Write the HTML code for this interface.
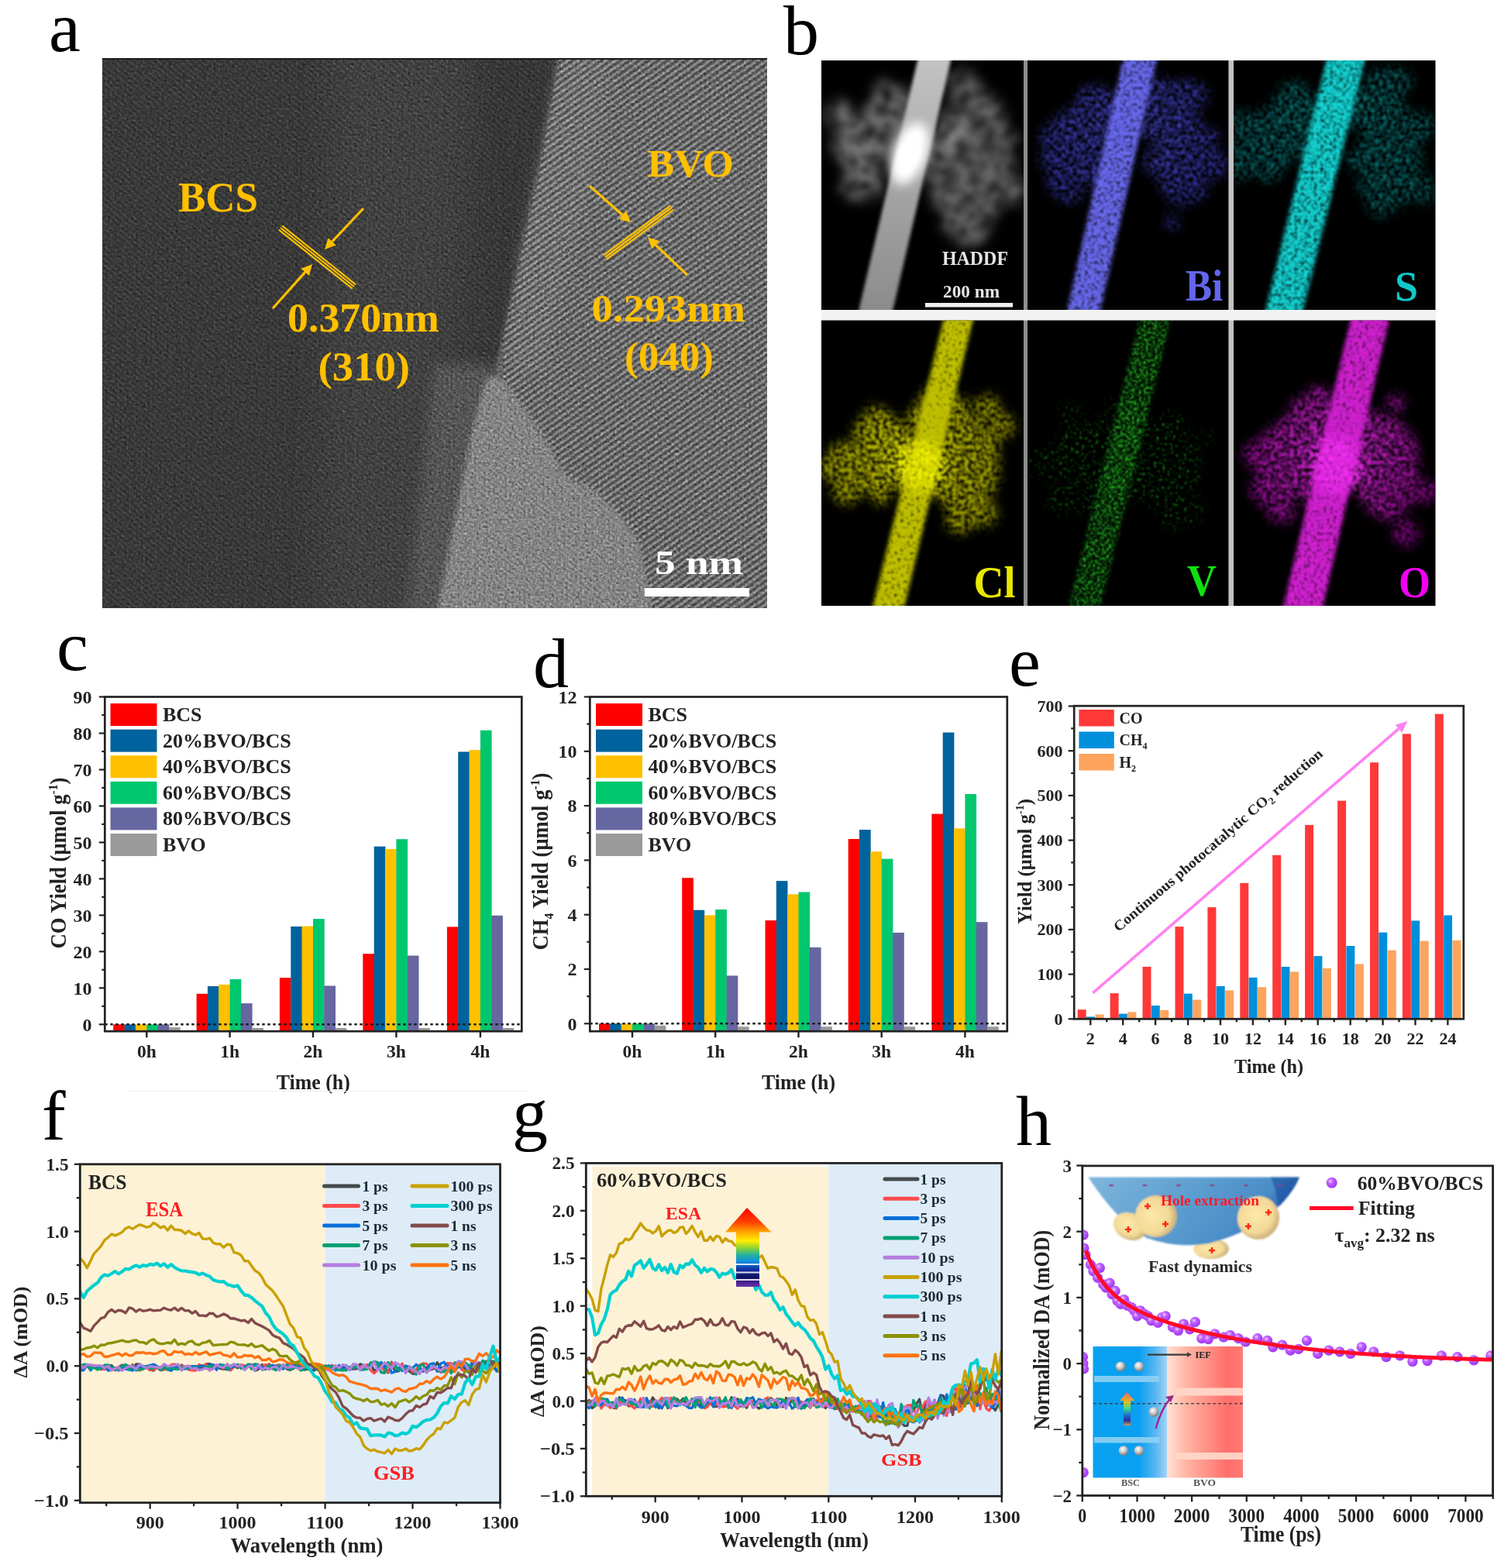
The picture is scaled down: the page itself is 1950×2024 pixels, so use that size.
<!DOCTYPE html>
<html><head><meta charset="utf-8"><title>Figure</title>
<style>html,body{margin:0;padding:0;background:#fff;}svg{display:block;}text{font-family:'Liberation Serif','Times New Roman',serif;}</style>
</head><body>
<svg xmlns="http://www.w3.org/2000/svg" width="1950" height="2024" viewBox="0 0 1950 2024">
<defs><clipPath id="clipA"><rect x="132" y="75" width="858" height="710"/></clipPath><filter id="blurA" x="-10%" y="-10%" width="120%" height="120%"><feGaussianBlur stdDeviation="8"/></filter><filter id="blurA3" x="-20%" y="-20%" width="140%" height="140%"><feGaussianBlur stdDeviation="22"/></filter><filter id="blurA2" x="-10%" y="-10%" width="120%" height="120%"><feGaussianBlur stdDeviation="3"/></filter><filter id="noiseA" x="0" y="0" width="100%" height="100%" color-interpolation-filters="sRGB"><feTurbulence type="fractalNoise" baseFrequency="0.33" numOctaves="2" seed="3" result="t"/><feColorMatrix type="matrix" values="0 0 0 0 0.5  0 0 0 0 0.5  0 0 0 0 0.5  1.6 0 0 0 -0.8" in="t" result="a"/><feColorMatrix type="matrix" values="0.33 0.33 0.33 0 0  0.33 0.33 0.33 0 0  0.33 0.33 0.33 0 0  0 0 0 0 1" in="t"/></filter><pattern id="frBVO" patternUnits="userSpaceOnUse" width="7" height="7" patternTransform="rotate(-35)"><rect width="7" height="7" fill="none"/><line x1="0" y1="1.7" x2="7" y2="1.7" stroke="#fff" stroke-width="2.4" stroke-opacity="0.28"/><line x1="0" y1="5.2" x2="7" y2="5.2" stroke="#000" stroke-width="2.4" stroke-opacity="0.24"/></pattern><pattern id="frBCS" patternUnits="userSpaceOnUse" width="6" height="6" patternTransform="rotate(40)"><line x1="0" y1="1.5" x2="6" y2="1.5" stroke="#fff" stroke-width="1.8" stroke-opacity="0.05"/><line x1="0" y1="4.5" x2="6" y2="4.5" stroke="#000" stroke-width="1.8" stroke-opacity="0.07"/></pattern><clipPath id="cH"><rect x="1060" y="78" width="261" height="322"/></clipPath><filter id="bH" x="-20%" y="-20%" width="140%" height="140%"><feGaussianBlur stdDeviation="7"/></filter><filter id="bH2" x="-20%" y="-20%" width="140%" height="140%"><feGaussianBlur stdDeviation="2.2"/></filter><linearGradient id="gRod" x1="0" y1="0" x2="0" y2="1"><stop offset="0" stop-color="#c4c4c4"/><stop offset="0.45" stop-color="#a8a8a8"/><stop offset="1" stop-color="#8a8a8a"/></linearGradient><filter id="sHd" x="-5%" y="-5%" width="110%" height="110%" color-interpolation-filters="sRGB"><feGaussianBlur in="SourceGraphic" stdDeviation="8" result="b"/><feTurbulence type="fractalNoise" baseFrequency="0.06" numOctaves="3" seed="31" result="n"/><feColorMatrix in="n" type="matrix" values="0 0 0 0 1  0 0 0 0 1  0 0 0 0 1  1.5 0 0 0 0.0" result="na"/><feComposite in="b" in2="na" operator="in" result="c"/><feGaussianBlur in="c" stdDeviation="3.2"/></filter><clipPath id="cBi"><rect x="1326" y="78" width="259.5" height="322"/></clipPath><filter id="sBi" x="-5%" y="-5%" width="110%" height="110%" color-interpolation-filters="sRGB"><feGaussianBlur in="SourceGraphic" stdDeviation="7" result="b"/><feTurbulence type="fractalNoise" baseFrequency="0.2" numOctaves="2" seed="21" result="n"/><feColorMatrix in="n" type="matrix" values="0 0 0 0 1  0 0 0 0 1  0 0 0 0 1  2.2 0 0 0 -0.65" result="na"/><feComposite in="b" in2="na" operator="in" result="c"/><feGaussianBlur in="c" stdDeviation="1.0"/></filter><filter id="rBi" x="-5%" y="-5%" width="110%" height="110%" color-interpolation-filters="sRGB"><feGaussianBlur in="SourceGraphic" stdDeviation="2.5" result="b"/><feTurbulence type="fractalNoise" baseFrequency="0.24" numOctaves="2" seed="71" result="n"/><feColorMatrix in="n" type="matrix" values="0 0 0 0 1  0 0 0 0 1  0 0 0 0 1  2.2 0 0 0 -0.2" result="na"/><feComposite in="b" in2="na" operator="in" result="c"/><feGaussianBlur in="c" stdDeviation="1.0"/></filter><radialGradient id="gBi" gradientUnits="userSpaceOnUse" cx="1455" cy="168" r="150"><stop offset="0" stop-color="#4444c0"/><stop offset="0.45" stop-color="#3a3ab0"/><stop offset="1" stop-color="#2a2a90"/></radialGradient><clipPath id="cS"><rect x="1592" y="78" width="260.5" height="322"/></clipPath><filter id="sS" x="-5%" y="-5%" width="110%" height="110%" color-interpolation-filters="sRGB"><feGaussianBlur in="SourceGraphic" stdDeviation="7" result="b"/><feTurbulence type="fractalNoise" baseFrequency="0.2" numOctaves="2" seed="22" result="n"/><feColorMatrix in="n" type="matrix" values="0 0 0 0 1  0 0 0 0 1  0 0 0 0 1  2.2 0 0 0 -0.7" result="na"/><feComposite in="b" in2="na" operator="in" result="c"/><feGaussianBlur in="c" stdDeviation="1.0"/></filter><filter id="rS" x="-5%" y="-5%" width="110%" height="110%" color-interpolation-filters="sRGB"><feGaussianBlur in="SourceGraphic" stdDeviation="2.5" result="b"/><feTurbulence type="fractalNoise" baseFrequency="0.24" numOctaves="2" seed="72" result="n"/><feColorMatrix in="n" type="matrix" values="0 0 0 0 1  0 0 0 0 1  0 0 0 0 1  2.2 0 0 0 -0.24999999999999994" result="na"/><feComposite in="b" in2="na" operator="in" result="c"/><feGaussianBlur in="c" stdDeviation="1.0"/></filter><radialGradient id="gS" gradientUnits="userSpaceOnUse" cx="1715" cy="165" r="150"><stop offset="0" stop-color="#0a8c8c"/><stop offset="0.45" stop-color="#077070"/><stop offset="1" stop-color="#066060"/></radialGradient><clipPath id="cCl"><rect x="1060" y="413.5" width="261" height="368.5"/></clipPath><filter id="sCl" x="-5%" y="-5%" width="110%" height="110%" color-interpolation-filters="sRGB"><feGaussianBlur in="SourceGraphic" stdDeviation="7" result="b"/><feTurbulence type="fractalNoise" baseFrequency="0.2" numOctaves="2" seed="23" result="n"/><feColorMatrix in="n" type="matrix" values="0 0 0 0 1  0 0 0 0 1  0 0 0 0 1  2.2 0 0 0 -0.5" result="na"/><feComposite in="b" in2="na" operator="in" result="c"/><feGaussianBlur in="c" stdDeviation="1.0"/></filter><filter id="rCl" x="-5%" y="-5%" width="110%" height="110%" color-interpolation-filters="sRGB"><feGaussianBlur in="SourceGraphic" stdDeviation="2.5" result="b"/><feTurbulence type="fractalNoise" baseFrequency="0.24" numOctaves="2" seed="73" result="n"/><feColorMatrix in="n" type="matrix" values="0 0 0 0 1  0 0 0 0 1  0 0 0 0 1  2.2 0 0 0 -0.04999999999999999" result="na"/><feComposite in="b" in2="na" operator="in" result="c"/><feGaussianBlur in="c" stdDeviation="1.0"/></filter><radialGradient id="gCl" gradientUnits="userSpaceOnUse" cx="1178" cy="588" r="150"><stop offset="0" stop-color="#e8e800"/><stop offset="0.45" stop-color="#a8a800"/><stop offset="1" stop-color="#8a8a00"/></radialGradient><clipPath id="cV"><rect x="1326" y="413.5" width="259.5" height="368.5"/></clipPath><filter id="sV" x="-5%" y="-5%" width="110%" height="110%" color-interpolation-filters="sRGB"><feGaussianBlur in="SourceGraphic" stdDeviation="7" result="b"/><feTurbulence type="fractalNoise" baseFrequency="0.28" numOctaves="2" seed="24" result="n"/><feColorMatrix in="n" type="matrix" values="0 0 0 0 1  0 0 0 0 1  0 0 0 0 1  4.5 0 0 0 -2.65" result="na"/><feComposite in="b" in2="na" operator="in" result="c"/><feGaussianBlur in="c" stdDeviation="1.0"/></filter><filter id="rV" x="-5%" y="-5%" width="110%" height="110%" color-interpolation-filters="sRGB"><feGaussianBlur in="SourceGraphic" stdDeviation="2.5" result="b"/><feTurbulence type="fractalNoise" baseFrequency="0.336" numOctaves="2" seed="74" result="n"/><feColorMatrix in="n" type="matrix" values="0 0 0 0 1  0 0 0 0 1  0 0 0 0 1  4.5 0 0 0 -2.05" result="na"/><feComposite in="b" in2="na" operator="in" result="c"/><feGaussianBlur in="c" stdDeviation="1.0"/></filter><radialGradient id="gV" gradientUnits="userSpaceOnUse" cx="1455" cy="587" r="150"><stop offset="0" stop-color="#20c020"/><stop offset="0.45" stop-color="#18a818"/><stop offset="1" stop-color="#108010"/></radialGradient><clipPath id="cO"><rect x="1592" y="413.5" width="260.5" height="368.5"/></clipPath><filter id="sO" x="-5%" y="-5%" width="110%" height="110%" color-interpolation-filters="sRGB"><feGaussianBlur in="SourceGraphic" stdDeviation="7" result="b"/><feTurbulence type="fractalNoise" baseFrequency="0.2" numOctaves="2" seed="25" result="n"/><feColorMatrix in="n" type="matrix" values="0 0 0 0 1  0 0 0 0 1  0 0 0 0 1  2.2 0 0 0 -0.55" result="na"/><feComposite in="b" in2="na" operator="in" result="c"/><feGaussianBlur in="c" stdDeviation="1.0"/></filter><filter id="rO" x="-5%" y="-5%" width="110%" height="110%" color-interpolation-filters="sRGB"><feGaussianBlur in="SourceGraphic" stdDeviation="2.5" result="b"/><feTurbulence type="fractalNoise" baseFrequency="0.24" numOctaves="2" seed="75" result="n"/><feColorMatrix in="n" type="matrix" values="0 0 0 0 1  0 0 0 0 1  0 0 0 0 1  2.2 0 0 0 -0.10000000000000003" result="na"/><feComposite in="b" in2="na" operator="in" result="c"/><feGaussianBlur in="c" stdDeviation="1.0"/></filter><radialGradient id="gO" gradientUnits="userSpaceOnUse" cx="1725" cy="584" r="150"><stop offset="0" stop-color="#f028f0"/><stop offset="0.45" stop-color="#a818a8"/><stop offset="1" stop-color="#800080"/></radialGradient><clipPath id="clipF"><rect x="103.3" y="1502.8" width="542.2" height="436.9"/></clipPath><clipPath id="clipG"><rect x="756.3" y="1501.4" width="536.5" height="429.9"/></clipPath><linearGradient id="rainbow" x1="0" y1="0" x2="0" y2="1"><stop offset="0" stop-color="#ff0000"/><stop offset="0.18" stop-color="#ff4000"/><stop offset="0.3" stop-color="#ffa000"/><stop offset="0.42" stop-color="#ffee00"/><stop offset="0.52" stop-color="#80d040"/><stop offset="0.6" stop-color="#20b0a0"/><stop offset="0.68" stop-color="#1090e0"/><stop offset="0.78" stop-color="#1030a0"/><stop offset="0.88" stop-color="#101060"/><stop offset="1" stop-color="#7030b0"/></linearGradient><clipPath id="clipH"><rect x="1396.8" y="1504.9" width="529.8" height="425.6"/></clipPath><linearGradient id="bowlG" x1="0" y1="0" x2="1" y2="0.3"><stop offset="0" stop-color="#7fb6dc"/><stop offset="0.5" stop-color="#5d9fd0"/><stop offset="0.85" stop-color="#4b8cc8"/><stop offset="1" stop-color="#1e5aa8"/></linearGradient><radialGradient id="partG" cx="0.4" cy="0.45" r="0.6"><stop offset="0" stop-color="#fde9a8"/><stop offset="0.7" stop-color="#f3d998"/><stop offset="1" stop-color="#c8b078"/></radialGradient><filter id="softH"><feGaussianBlur stdDeviation="0.8"/></filter><linearGradient id="bandB" x1="0" y1="0" x2="1" y2="0"><stop offset="0" stop-color="#0aa2f0"/><stop offset="0.62" stop-color="#0a9ff0"/><stop offset="0.85" stop-color="#5cb8f2"/><stop offset="1" stop-color="#a8d4f4"/></linearGradient><linearGradient id="bandR" x1="0" y1="0" x2="1" y2="0"><stop offset="0" stop-color="#ffe2d4"/><stop offset="0.25" stop-color="#ffb4a4"/><stop offset="0.8" stop-color="#ff6e6a"/><stop offset="1" stop-color="#ff7a74"/></linearGradient><radialGradient id="sph" cx="0.4" cy="0.35" r="0.65"><stop offset="0" stop-color="#ffffff"/><stop offset="0.5" stop-color="#c8c8c8"/><stop offset="1" stop-color="#7a7a7a"/></radialGradient><linearGradient id="rb2" x1="0" y1="0" x2="0" y2="1"><stop offset="0" stop-color="#ff6060"/><stop offset="0.3" stop-color="#ffc000"/><stop offset="0.5" stop-color="#40e080"/><stop offset="0.7" stop-color="#2060d0"/><stop offset="0.85" stop-color="#302090"/><stop offset="1" stop-color="#e0a040"/></linearGradient><radialGradient id="dotG" cx="0.38" cy="0.35" r="0.7"><stop offset="0" stop-color="#f0c8ff"/><stop offset="0.35" stop-color="#c060ff"/><stop offset="1" stop-color="#9a30f0"/></radialGradient></defs>
<text x="63" y="66" font-size="92" fill="#000" font-weight="normal" text-anchor="start" >a</text>
<text x="1011" y="70" font-size="92" fill="#000" font-weight="normal" text-anchor="start" >b</text>
<text x="73" y="865" font-size="92" fill="#000" font-weight="normal" text-anchor="start" >c</text>
<text x="688" y="887" font-size="92" fill="#000" font-weight="normal" text-anchor="start" >d</text>
<text x="1302" y="885" font-size="92" fill="#000" font-weight="normal" text-anchor="start" >e</text>
<text x="54" y="1471" font-size="92" fill="#000" font-weight="normal" text-anchor="start" >f</text>
<text x="661" y="1468" font-size="92" fill="#000" font-weight="normal" text-anchor="start" >g</text>
<text x="1311" y="1478" font-size="92" fill="#000" font-weight="normal" text-anchor="start" >h</text>
<g clip-path="url(#clipA)">
<rect x="132" y="75" width="858" height="710" fill="#383838"/>
<g filter="url(#blurA3)">
<polygon points="430,40 610,40 600,300 575,500 560,820 410,820 420,500" fill="#404040"/>
<polygon points="610,40 722,40 700,200 672,330 655,420 630,420 620,200" fill="#363636"/>
</g>
<g filter="url(#blurA)">
<polygon points="560,470 636,470 622,800 525,800" fill="#555555"/>
</g>
<g filter="url(#blurA2)">
<polygon points="724,60 1000,60 1000,800 600,800 628,520 648,440 672,330 700,200" fill="#666666"/>
</g>
<g filter="url(#blurA)">
<polygon points="724,70 790,70 760,250 720,400 700,480 655,480 672,330 700,200" fill="#6e6e6e"/>
</g>
<g filter="url(#blurA2)">
<polygon points="628,485 650,490 700,560 730,613 768,632 806,671 825,700 845,800 562,800 585,680 608,560" fill="#868686"/>
</g>
<rect x="132" y="75" width="858" height="710" fill="url(#frBCS)"/>
<polygon points="724,60 1000,60 1000,800 845,800 825,700 806,671 768,632 730,613 700,560 650,490 648,440 672,330 700,200" fill="url(#frBVO)"/>
<rect x="132" y="75" width="858" height="710" filter="url(#noiseA)" opacity="0.9" style="mix-blend-mode:overlay"/>
</g>
<rect x="132" y="75" width="858" height="2" fill="#1a1a1a"/>
<line x1="364.1" y1="291.3" x2="459.1" y2="367.3" stroke="#ffc000" stroke-width="2.2"/>
<line x1="362" y1="294" x2="457" y2="370" stroke="#ffc000" stroke-width="2.2"/>
<line x1="359.9" y1="296.7" x2="454.9" y2="372.7" stroke="#ffc000" stroke-width="2.2"/>
<line x1="469" y1="269" x2="428.6" y2="311.8" stroke="#ffc000" stroke-width="3.2"/>
<polygon points="419,322 423.5,307 433.7,316.6" fill="#ffc000"/>
<line x1="352" y1="398" x2="393.7" y2="351.4" stroke="#ffc000" stroke-width="3.2"/>
<polygon points="403,341 398.9,356.1 388.4,346.8" fill="#ffc000"/>
<line x1="779" y1="329.4" x2="865" y2="265.4" stroke="#ffc000" stroke-width="2.2"/>
<line x1="781" y1="332" x2="867" y2="268" stroke="#ffc000" stroke-width="2.2"/>
<line x1="783" y1="334.6" x2="869" y2="270.6" stroke="#ffc000" stroke-width="2.2"/>
<line x1="761" y1="240" x2="803.5" y2="277.7" stroke="#ffc000" stroke-width="3.2"/>
<polygon points="814,287 798.9,282.9 808.2,272.5" fill="#ffc000"/>
<line x1="887" y1="355" x2="846.1" y2="316.1" stroke="#ffc000" stroke-width="3.2"/>
<polygon points="836,306.5 851,311.1 841.3,321.2" fill="#ffc000"/>
<text x="230" y="272.5" font-size="55" fill="#ffc000" font-weight="bold" text-anchor="start" textLength="103" lengthAdjust="spacingAndGlyphs">BCS</text>
<text x="371" y="427.5" font-size="53" fill="#ffc000" font-weight="bold" text-anchor="start" textLength="196" lengthAdjust="spacingAndGlyphs">0.370nm</text>
<text x="410.5" y="490.5" font-size="53" fill="#ffc000" font-weight="bold" text-anchor="start" textLength="118.5" lengthAdjust="spacingAndGlyphs">(310)</text>
<text x="835.5" y="227.5" font-size="50" fill="#ffc000" font-weight="bold" text-anchor="start" textLength="111.5" lengthAdjust="spacingAndGlyphs">BVO</text>
<text x="763.5" y="415" font-size="51" fill="#ffc000" font-weight="bold" text-anchor="start" textLength="198.5" lengthAdjust="spacingAndGlyphs">0.293nm</text>
<text x="806" y="477.5" font-size="52" fill="#ffc000" font-weight="bold" text-anchor="start" textLength="115" lengthAdjust="spacingAndGlyphs">(040)</text>
<text x="845" y="741" font-size="44" fill="#fff" font-weight="bold" text-anchor="start" textLength="114" lengthAdjust="spacingAndGlyphs">5 nm</text>
<rect x="832" y="759" width="135" height="11" fill="#fff"/>
<rect x="1321" y="78" width="5" height="704" fill="#8e8e8e"/>
<rect x="1585.5" y="78" width="6.5" height="704" fill="#c2c2c2"/>
<rect x="1060" y="400" width="793" height="13.5" fill="#f2f2f2"/>
<rect x="1060" y="78" width="261" height="322" fill="#000"/>
<rect x="1060" y="413.5" width="261" height="368.5" fill="#000"/>
<rect x="1326" y="78" width="259.5" height="322" fill="#000"/>
<rect x="1326" y="413.5" width="259.5" height="368.5" fill="#000"/>
<rect x="1592" y="78" width="260.5" height="322" fill="#000"/>
<rect x="1592" y="413.5" width="260.5" height="368.5" fill="#000"/>
<g clip-path="url(#cH)">
<g filter="url(#sHd)">
<ellipse cx="1110" cy="185" rx="31.5" ry="42.0" fill="#6c6c6c" fill-opacity="1"/><circle cx="1082.2" cy="148.9" r="18.0" fill="#6c6c6c" fill-opacity="1"/><circle cx="1146.2" cy="166.7" r="19.2" fill="#6c6c6c" fill-opacity="1"/><circle cx="1140.2" cy="192.4" r="19.4" fill="#6c6c6c" fill-opacity="1"/><circle cx="1084.7" cy="139.1" r="11.1" fill="#6c6c6c" fill-opacity="1"/><circle cx="1088.1" cy="190.8" r="15.4" fill="#6c6c6c" fill-opacity="1"/><circle cx="1105.4" cy="181.9" r="12.2" fill="#6c6c6c" fill-opacity="1"/><circle cx="1102.1" cy="241.5" r="17.7" fill="#6c6c6c" fill-opacity="1"/><circle cx="1131.6" cy="230.2" r="11.4" fill="#6c6c6c" fill-opacity="1"/><circle cx="1098.1" cy="170.6" r="10.0" fill="#6c6c6c" fill-opacity="1"/><circle cx="1124.2" cy="165.1" r="12.2" fill="#6c6c6c" fill-opacity="1"/><circle cx="1151.8" cy="178.8" r="12.9" fill="#6c6c6c" fill-opacity="1"/><circle cx="1142.1" cy="174.4" r="16.8" fill="#6c6c6c" fill-opacity="1"/><circle cx="1122.2" cy="240.9" r="16.9" fill="#6c6c6c" fill-opacity="1"/><circle cx="1151.6" cy="173.2" r="13.0" fill="#6c6c6c" fill-opacity="1"/><ellipse cx="1140" cy="140" rx="21.0" ry="21.0" fill="#6c6c6c" fill-opacity="1"/><circle cx="1132.1" cy="149.4" r="11.5" fill="#6c6c6c" fill-opacity="1"/><circle cx="1155.1" cy="146.6" r="16.0" fill="#6c6c6c" fill-opacity="1"/><circle cx="1164.7" cy="140.5" r="13.4" fill="#6c6c6c" fill-opacity="1"/><circle cx="1130.0" cy="165.2" r="14.8" fill="#6c6c6c" fill-opacity="1"/><circle cx="1131.6" cy="159.1" r="17.0" fill="#6c6c6c" fill-opacity="1"/><circle cx="1167.7" cy="150.4" r="10.2" fill="#6c6c6c" fill-opacity="1"/><circle cx="1140.0" cy="112.4" r="10.2" fill="#6c6c6c" fill-opacity="1"/><circle cx="1144.3" cy="122.4" r="15.8" fill="#6c6c6c" fill-opacity="1"/><circle cx="1146.5" cy="140.4" r="11.8" fill="#6c6c6c" fill-opacity="1"/><circle cx="1152.8" cy="136.3" r="17.6" fill="#6c6c6c" fill-opacity="1"/><circle cx="1166.3" cy="127.5" r="13.4" fill="#6c6c6c" fill-opacity="1"/><circle cx="1126.7" cy="157.2" r="17.8" fill="#6c6c6c" fill-opacity="1"/><circle cx="1160.2" cy="156.3" r="18.0" fill="#6c6c6c" fill-opacity="1"/><circle cx="1143.7" cy="135.6" r="19.5" fill="#6c6c6c" fill-opacity="1"/>
<ellipse cx="1250" cy="165" rx="35.0" ry="42.0" fill="#646464" fill-opacity="1"/><circle cx="1274.5" cy="184.0" r="17.3" fill="#646464" fill-opacity="1"/><circle cx="1275.4" cy="147.8" r="21.1" fill="#646464" fill-opacity="1"/><circle cx="1223.2" cy="155.6" r="13.8" fill="#646464" fill-opacity="1"/><circle cx="1256.2" cy="180.1" r="11.8" fill="#646464" fill-opacity="1"/><circle cx="1231.4" cy="109.4" r="11.9" fill="#646464" fill-opacity="1"/><circle cx="1297.4" cy="182.9" r="16.4" fill="#646464" fill-opacity="1"/><circle cx="1229.8" cy="181.3" r="17.1" fill="#646464" fill-opacity="1"/><circle cx="1265.6" cy="129.1" r="15.1" fill="#646464" fill-opacity="1"/><circle cx="1295.0" cy="184.7" r="10.4" fill="#646464" fill-opacity="1"/><circle cx="1204.3" cy="167.2" r="11.6" fill="#646464" fill-opacity="1"/><circle cx="1244.4" cy="106.9" r="17.6" fill="#646464" fill-opacity="1"/><circle cx="1253.9" cy="146.0" r="15.2" fill="#646464" fill-opacity="1"/><circle cx="1277.2" cy="209.5" r="13.5" fill="#646464" fill-opacity="1"/><circle cx="1202.2" cy="182.4" r="20.2" fill="#646464" fill-opacity="1"/><circle cx="1283.3" cy="158.9" r="15.9" fill="#646464" fill-opacity="1"/><circle cx="1245.6" cy="123.8" r="13.5" fill="#646464" fill-opacity="1"/><ellipse cx="1262" cy="250" rx="33.6" ry="38.5" fill="#646464" fill-opacity="1"/><circle cx="1246.9" cy="262.0" r="14.5" fill="#646464" fill-opacity="1"/><circle cx="1308.9" cy="246.1" r="17.5" fill="#646464" fill-opacity="1"/><circle cx="1234.1" cy="250.1" r="11.1" fill="#646464" fill-opacity="1"/><circle cx="1256.1" cy="298.2" r="20.4" fill="#646464" fill-opacity="1"/><circle cx="1234.6" cy="287.3" r="19.3" fill="#646464" fill-opacity="1"/><circle cx="1248.7" cy="207.9" r="19.1" fill="#646464" fill-opacity="1"/><circle cx="1235.7" cy="284.9" r="13.4" fill="#646464" fill-opacity="1"/><circle cx="1220.1" cy="254.3" r="18.3" fill="#646464" fill-opacity="1"/><circle cx="1249.3" cy="301.5" r="17.8" fill="#646464" fill-opacity="1"/><circle cx="1257.5" cy="247.1" r="16.6" fill="#646464" fill-opacity="1"/><circle cx="1261.8" cy="295.1" r="15.6" fill="#646464" fill-opacity="1"/><circle cx="1277.7" cy="209.6" r="19.6" fill="#646464" fill-opacity="1"/><circle cx="1239.8" cy="286.1" r="18.9" fill="#646464" fill-opacity="1"/><circle cx="1275.4" cy="221.3" r="20.1" fill="#646464" fill-opacity="1"/><circle cx="1289.2" cy="216.7" r="21.7" fill="#646464" fill-opacity="1"/><circle cx="1295.3" cy="239.3" r="16.4" fill="#646464" fill-opacity="1"/><ellipse cx="1228" cy="222" rx="15.4" ry="26.6" fill="#646464" fill-opacity="1"/><circle cx="1238.1" cy="252.0" r="21.2" fill="#646464" fill-opacity="1"/><circle cx="1209.9" cy="226.5" r="18.6" fill="#646464" fill-opacity="1"/><circle cx="1226.9" cy="206.4" r="19.4" fill="#646464" fill-opacity="1"/><circle cx="1212.3" cy="206.9" r="15.0" fill="#646464" fill-opacity="1"/><circle cx="1214.2" cy="198.5" r="17.6" fill="#646464" fill-opacity="1"/><circle cx="1227.3" cy="215.8" r="11.9" fill="#646464" fill-opacity="1"/><circle cx="1211.5" cy="233.1" r="12.6" fill="#646464" fill-opacity="1"/><circle cx="1221.2" cy="194.2" r="10.5" fill="#646464" fill-opacity="1"/><circle cx="1217.7" cy="225.2" r="10.6" fill="#646464" fill-opacity="1"/><circle cx="1236.3" cy="237.9" r="12.2" fill="#646464" fill-opacity="1"/><circle cx="1229.4" cy="228.7" r="15.6" fill="#646464" fill-opacity="1"/><circle cx="1215.4" cy="242.3" r="17.1" fill="#646464" fill-opacity="1"/><circle cx="1229.6" cy="258.0" r="10.0" fill="#646464" fill-opacity="1"/><circle cx="1218.4" cy="233.2" r="14.9" fill="#646464" fill-opacity="1"/><circle cx="1243.0" cy="244.9" r="14.5" fill="#646464" fill-opacity="1"/><circle cx="1244.8" cy="228.7" r="11.1" fill="#646464" fill-opacity="1"/>
<ellipse cx="1235" cy="178" rx="18" ry="16" fill="#8a8a8a"/><ellipse cx="1105" cy="200" rx="16" ry="14" fill="#7a7a7a"/><ellipse cx="1150" cy="140" rx="14" ry="14" fill="#7a7a7a"/>
</g>
<line x1="1216" y1="118" x2="1208" y2="172" stroke="#000" stroke-width="4" opacity="0.6" filter="url(#bH2)"/>
<g filter="url(#bH2)"><polygon points="1186,70 1229,70 1150,410 1106,410" fill="url(#gRod)" fill-opacity="1"/></g>
<g filter="url(#bH)"><ellipse cx="1174" cy="198" rx="22" ry="42" fill="#fff" transform="rotate(20 1174 198)"/></g>
<ellipse cx="1174" cy="198" rx="13" ry="28" fill="#fff" opacity="0.8" transform="rotate(20 1174 198)" filter="url(#bH2)"/>
</g>
<text x="1216" y="342" font-size="25" fill="#e4e4e4" font-weight="bold" text-anchor="start" textLength="85" lengthAdjust="spacingAndGlyphs">HADDF</text>
<text x="1217" y="384" font-size="23" fill="#e4e4e4" font-weight="bold" text-anchor="start" textLength="73" lengthAdjust="spacingAndGlyphs">200 nm</text>
<rect x="1194" y="391" width="113" height="5.5" fill="#f0f0f0"/>
<g clip-path="url(#cBi)">
<g filter="url(#sBi)"><ellipse cx="1385" cy="185" rx="35.0" ry="45.5" fill="url(#gBi)" fill-opacity="1.0"/><circle cx="1357.0" cy="174.4" r="15.4" fill="url(#gBi)" fill-opacity="1.0"/><circle cx="1428.7" cy="169.8" r="13.6" fill="url(#gBi)" fill-opacity="1.0"/><circle cx="1400.4" cy="136.9" r="13.1" fill="url(#gBi)" fill-opacity="1.0"/><circle cx="1409.2" cy="224.1" r="15.2" fill="url(#gBi)" fill-opacity="1.0"/><circle cx="1432.4" cy="168.0" r="15.7" fill="url(#gBi)" fill-opacity="1.0"/><circle cx="1357.0" cy="234.5" r="9.0" fill="url(#gBi)" fill-opacity="1.0"/><circle cx="1414.3" cy="215.7" r="15.8" fill="url(#gBi)" fill-opacity="1.0"/><circle cx="1410.2" cy="224.9" r="18.8" fill="url(#gBi)" fill-opacity="1.0"/><circle cx="1361.6" cy="215.0" r="11.5" fill="url(#gBi)" fill-opacity="1.0"/><circle cx="1372.3" cy="246.9" r="13.2" fill="url(#gBi)" fill-opacity="1.0"/><circle cx="1431.4" cy="170.0" r="15.6" fill="url(#gBi)" fill-opacity="1.0"/><circle cx="1381.9" cy="249.3" r="14.5" fill="url(#gBi)" fill-opacity="1.0"/><circle cx="1360.6" cy="203.6" r="19.8" fill="url(#gBi)" fill-opacity="1.0"/><circle cx="1358.3" cy="186.8" r="14.2" fill="url(#gBi)" fill-opacity="1.0"/><circle cx="1413.4" cy="220.5" r="13.9" fill="url(#gBi)" fill-opacity="1.0"/><circle cx="1373.2" cy="240.4" r="18.1" fill="url(#gBi)" fill-opacity="1.0"/><ellipse cx="1420" cy="150" rx="21.0" ry="24.5" fill="url(#gBi)" fill-opacity="1.0"/><circle cx="1441.8" cy="152.1" r="12.0" fill="url(#gBi)" fill-opacity="1.0"/><circle cx="1444.4" cy="137.8" r="11.7" fill="url(#gBi)" fill-opacity="1.0"/><circle cx="1418.7" cy="163.7" r="19.9" fill="url(#gBi)" fill-opacity="1.0"/><circle cx="1413.7" cy="176.3" r="14.2" fill="url(#gBi)" fill-opacity="1.0"/><circle cx="1405.7" cy="128.5" r="17.2" fill="url(#gBi)" fill-opacity="1.0"/><circle cx="1439.3" cy="170.6" r="12.3" fill="url(#gBi)" fill-opacity="1.0"/><circle cx="1403.0" cy="145.8" r="12.3" fill="url(#gBi)" fill-opacity="1.0"/><circle cx="1399.9" cy="145.6" r="13.0" fill="url(#gBi)" fill-opacity="1.0"/><circle cx="1419.3" cy="123.1" r="9.4" fill="url(#gBi)" fill-opacity="1.0"/><circle cx="1419.7" cy="173.6" r="19.1" fill="url(#gBi)" fill-opacity="1.0"/><circle cx="1436.9" cy="133.3" r="9.2" fill="url(#gBi)" fill-opacity="1.0"/><circle cx="1423.5" cy="127.5" r="15.3" fill="url(#gBi)" fill-opacity="1.0"/><circle cx="1413.8" cy="123.1" r="14.3" fill="url(#gBi)" fill-opacity="1.0"/><circle cx="1435.8" cy="138.6" r="13.3" fill="url(#gBi)" fill-opacity="1.0"/><circle cx="1427.9" cy="137.6" r="12.3" fill="url(#gBi)" fill-opacity="1.0"/><circle cx="1423.7" cy="142.1" r="18.2" fill="url(#gBi)" fill-opacity="1.0"/><ellipse cx="1525" cy="200" rx="35.0" ry="66.5" fill="url(#gBi)" fill-opacity="1.0"/><circle cx="1513.8" cy="141.2" r="12.1" fill="url(#gBi)" fill-opacity="1.0"/><circle cx="1534.2" cy="111.0" r="10.6" fill="url(#gBi)" fill-opacity="1.0"/><circle cx="1488.3" cy="209.5" r="14.5" fill="url(#gBi)" fill-opacity="1.0"/><circle cx="1515.5" cy="232.5" r="15.4" fill="url(#gBi)" fill-opacity="1.0"/><circle cx="1530.0" cy="177.0" r="11.5" fill="url(#gBi)" fill-opacity="1.0"/><circle cx="1543.8" cy="123.4" r="16.3" fill="url(#gBi)" fill-opacity="1.0"/><circle cx="1567.0" cy="212.9" r="19.8" fill="url(#gBi)" fill-opacity="1.0"/><circle cx="1566.9" cy="199.2" r="9.5" fill="url(#gBi)" fill-opacity="1.0"/><circle cx="1537.8" cy="162.8" r="16.1" fill="url(#gBi)" fill-opacity="1.0"/><circle cx="1565.3" cy="176.3" r="10.5" fill="url(#gBi)" fill-opacity="1.0"/><circle cx="1512.4" cy="287.8" r="10.6" fill="url(#gBi)" fill-opacity="1.0"/><circle cx="1500.3" cy="160.9" r="10.8" fill="url(#gBi)" fill-opacity="1.0"/><circle cx="1517.5" cy="186.2" r="10.2" fill="url(#gBi)" fill-opacity="1.0"/><circle cx="1515.3" cy="217.5" r="9.6" fill="url(#gBi)" fill-opacity="1.0"/><circle cx="1486.6" cy="162.7" r="18.7" fill="url(#gBi)" fill-opacity="1.0"/><circle cx="1546.8" cy="246.6" r="12.5" fill="url(#gBi)" fill-opacity="1.0"/><ellipse cx="1500" cy="135" rx="21.0" ry="24.5" fill="url(#gBi)" fill-opacity="1.0"/><circle cx="1483.0" cy="120.6" r="19.3" fill="url(#gBi)" fill-opacity="1.0"/><circle cx="1495.0" cy="140.9" r="16.7" fill="url(#gBi)" fill-opacity="1.0"/><circle cx="1513.9" cy="157.6" r="14.6" fill="url(#gBi)" fill-opacity="1.0"/><circle cx="1518.9" cy="121.1" r="15.8" fill="url(#gBi)" fill-opacity="1.0"/><circle cx="1498.1" cy="160.9" r="11.8" fill="url(#gBi)" fill-opacity="1.0"/><circle cx="1500.1" cy="109.8" r="10.5" fill="url(#gBi)" fill-opacity="1.0"/><circle cx="1501.8" cy="156.2" r="17.1" fill="url(#gBi)" fill-opacity="1.0"/><circle cx="1510.9" cy="161.7" r="16.2" fill="url(#gBi)" fill-opacity="1.0"/><circle cx="1521.1" cy="149.6" r="10.0" fill="url(#gBi)" fill-opacity="1.0"/><circle cx="1516.4" cy="154.0" r="11.6" fill="url(#gBi)" fill-opacity="1.0"/><circle cx="1514.9" cy="118.1" r="12.6" fill="url(#gBi)" fill-opacity="1.0"/><circle cx="1501.5" cy="129.2" r="17.0" fill="url(#gBi)" fill-opacity="1.0"/><circle cx="1511.0" cy="139.5" r="19.5" fill="url(#gBi)" fill-opacity="1.0"/><circle cx="1494.1" cy="120.0" r="10.3" fill="url(#gBi)" fill-opacity="1.0"/><circle cx="1524.1" cy="130.1" r="18.0" fill="url(#gBi)" fill-opacity="1.0"/><circle cx="1515.1" cy="156.3" r="12.9" fill="url(#gBi)" fill-opacity="1.0"/></g>
<g filter="url(#rBi)"><polygon points="1451,68 1495,68 1418,410 1375,410" fill="#6a6af0" fill-opacity="1"/></g>
</g>
<text x="1529.7" y="388.4" font-size="57" fill="#6464ee" font-weight="bold" text-anchor="start" textLength="48.5" lengthAdjust="spacingAndGlyphs">Bi</text>
<g clip-path="url(#cS)">
<g filter="url(#sS)"><ellipse cx="1635" cy="185" rx="36.4" ry="43.4" fill="url(#gS)" fill-opacity="1.0"/><circle cx="1637.8" cy="220.6" r="15.8" fill="url(#gS)" fill-opacity="1.0"/><circle cx="1616.2" cy="216.3" r="10.5" fill="url(#gS)" fill-opacity="1.0"/><circle cx="1655.4" cy="141.4" r="17.8" fill="url(#gS)" fill-opacity="1.0"/><circle cx="1591.2" cy="208.3" r="14.7" fill="url(#gS)" fill-opacity="1.0"/><circle cx="1602.1" cy="159.2" r="17.1" fill="url(#gS)" fill-opacity="1.0"/><circle cx="1622.2" cy="196.8" r="9.4" fill="url(#gS)" fill-opacity="1.0"/><circle cx="1638.0" cy="196.8" r="18.8" fill="url(#gS)" fill-opacity="1.0"/><circle cx="1590.0" cy="191.4" r="9.0" fill="url(#gS)" fill-opacity="1.0"/><circle cx="1586.8" cy="195.9" r="15.8" fill="url(#gS)" fill-opacity="1.0"/><circle cx="1603.0" cy="203.3" r="10.1" fill="url(#gS)" fill-opacity="1.0"/><circle cx="1646.7" cy="205.4" r="13.1" fill="url(#gS)" fill-opacity="1.0"/><circle cx="1598.3" cy="223.3" r="10.7" fill="url(#gS)" fill-opacity="1.0"/><circle cx="1634.3" cy="217.6" r="10.8" fill="url(#gS)" fill-opacity="1.0"/><circle cx="1629.2" cy="214.3" r="14.3" fill="url(#gS)" fill-opacity="1.0"/><circle cx="1684.0" cy="196.9" r="13.1" fill="url(#gS)" fill-opacity="1.0"/><circle cx="1674.9" cy="165.5" r="16.4" fill="url(#gS)" fill-opacity="1.0"/><ellipse cx="1680" cy="140" rx="21.0" ry="21.0" fill="url(#gS)" fill-opacity="1.0"/><circle cx="1651.3" cy="145.2" r="10.3" fill="url(#gS)" fill-opacity="1.0"/><circle cx="1672.1" cy="125.9" r="16.4" fill="url(#gS)" fill-opacity="1.0"/><circle cx="1678.4" cy="128.0" r="11.2" fill="url(#gS)" fill-opacity="1.0"/><circle cx="1694.2" cy="142.2" r="9.9" fill="url(#gS)" fill-opacity="1.0"/><circle cx="1655.9" cy="157.2" r="13.0" fill="url(#gS)" fill-opacity="1.0"/><circle cx="1672.2" cy="159.0" r="12.1" fill="url(#gS)" fill-opacity="1.0"/><circle cx="1677.2" cy="114.7" r="10.8" fill="url(#gS)" fill-opacity="1.0"/><circle cx="1681.5" cy="164.6" r="19.3" fill="url(#gS)" fill-opacity="1.0"/><circle cx="1668.0" cy="124.4" r="19.7" fill="url(#gS)" fill-opacity="1.0"/><circle cx="1687.4" cy="140.3" r="17.6" fill="url(#gS)" fill-opacity="1.0"/><circle cx="1674.6" cy="143.4" r="15.0" fill="url(#gS)" fill-opacity="1.0"/><circle cx="1701.6" cy="138.6" r="12.9" fill="url(#gS)" fill-opacity="1.0"/><circle cx="1686.7" cy="144.5" r="18.9" fill="url(#gS)" fill-opacity="1.0"/><circle cx="1651.0" cy="141.6" r="9.6" fill="url(#gS)" fill-opacity="1.0"/><circle cx="1680.3" cy="146.7" r="13.4" fill="url(#gS)" fill-opacity="1.0"/><circle cx="1694.1" cy="145.6" r="13.5" fill="url(#gS)" fill-opacity="1.0"/><ellipse cx="1795" cy="200" rx="40.6" ry="70.0" fill="url(#gS)" fill-opacity="1.0"/><circle cx="1790.5" cy="221.3" r="9.4" fill="url(#gS)" fill-opacity="1.0"/><circle cx="1819.2" cy="192.5" r="14.6" fill="url(#gS)" fill-opacity="1.0"/><circle cx="1760.4" cy="242.0" r="9.9" fill="url(#gS)" fill-opacity="1.0"/><circle cx="1787.6" cy="230.2" r="15.0" fill="url(#gS)" fill-opacity="1.0"/><circle cx="1834.5" cy="163.3" r="18.4" fill="url(#gS)" fill-opacity="1.0"/><circle cx="1796.7" cy="212.9" r="14.9" fill="url(#gS)" fill-opacity="1.0"/><circle cx="1751.3" cy="206.4" r="13.1" fill="url(#gS)" fill-opacity="1.0"/><circle cx="1760.1" cy="139.7" r="19.0" fill="url(#gS)" fill-opacity="1.0"/><circle cx="1781.2" cy="262.7" r="18.1" fill="url(#gS)" fill-opacity="1.0"/><circle cx="1798.2" cy="233.6" r="12.4" fill="url(#gS)" fill-opacity="1.0"/><circle cx="1838.4" cy="246.0" r="18.0" fill="url(#gS)" fill-opacity="1.0"/><circle cx="1787.0" cy="233.3" r="9.9" fill="url(#gS)" fill-opacity="1.0"/><circle cx="1795.5" cy="229.0" r="13.7" fill="url(#gS)" fill-opacity="1.0"/><circle cx="1769.6" cy="177.0" r="9.7" fill="url(#gS)" fill-opacity="1.0"/><circle cx="1791.1" cy="179.1" r="11.2" fill="url(#gS)" fill-opacity="1.0"/><circle cx="1787.0" cy="259.6" r="10.1" fill="url(#gS)" fill-opacity="1.0"/><ellipse cx="1780" cy="135" rx="31.5" ry="28.0" fill="url(#gS)" fill-opacity="1.0"/><circle cx="1757.9" cy="145.7" r="17.3" fill="url(#gS)" fill-opacity="1.0"/><circle cx="1740.0" cy="121.9" r="16.2" fill="url(#gS)" fill-opacity="1.0"/><circle cx="1782.1" cy="104.7" r="13.9" fill="url(#gS)" fill-opacity="1.0"/><circle cx="1794.8" cy="105.4" r="19.5" fill="url(#gS)" fill-opacity="1.0"/><circle cx="1774.8" cy="101.8" r="11.9" fill="url(#gS)" fill-opacity="1.0"/><circle cx="1790.6" cy="112.1" r="10.4" fill="url(#gS)" fill-opacity="1.0"/><circle cx="1797.0" cy="141.6" r="11.9" fill="url(#gS)" fill-opacity="1.0"/><circle cx="1769.2" cy="115.9" r="9.7" fill="url(#gS)" fill-opacity="1.0"/><circle cx="1782.9" cy="105.3" r="9.3" fill="url(#gS)" fill-opacity="1.0"/><circle cx="1795.4" cy="139.5" r="12.9" fill="url(#gS)" fill-opacity="1.0"/><circle cx="1807.9" cy="104.9" r="15.7" fill="url(#gS)" fill-opacity="1.0"/><circle cx="1783.5" cy="161.0" r="13.0" fill="url(#gS)" fill-opacity="1.0"/><circle cx="1777.6" cy="138.9" r="15.4" fill="url(#gS)" fill-opacity="1.0"/><circle cx="1797.8" cy="104.8" r="10.0" fill="url(#gS)" fill-opacity="1.0"/><circle cx="1761.7" cy="131.9" r="16.8" fill="url(#gS)" fill-opacity="1.0"/><circle cx="1738.9" cy="147.8" r="17.7" fill="url(#gS)" fill-opacity="1.0"/></g>
<g filter="url(#rS)"><polygon points="1714,68 1764,68 1679,410 1631,410" fill="#14d6d6" fill-opacity="1"/></g>
</g>
<text x="1800" y="388" font-size="55" fill="#10c8c8" font-weight="bold" text-anchor="start" textLength="30" lengthAdjust="spacingAndGlyphs">S</text>
<g clip-path="url(#cCl)">
<g filter="url(#sCl)"><ellipse cx="1110" cy="600" rx="33.6" ry="31.5" fill="url(#gCl)" fill-opacity="1.0"/><circle cx="1129.9" cy="617.1" r="19.1" fill="url(#gCl)" fill-opacity="1.0"/><circle cx="1079.3" cy="607.2" r="13.9" fill="url(#gCl)" fill-opacity="1.0"/><circle cx="1115.1" cy="556.7" r="14.9" fill="url(#gCl)" fill-opacity="1.0"/><circle cx="1146.4" cy="593.4" r="10.1" fill="url(#gCl)" fill-opacity="1.0"/><circle cx="1122.2" cy="573.2" r="9.6" fill="url(#gCl)" fill-opacity="1.0"/><circle cx="1118.6" cy="598.9" r="15.3" fill="url(#gCl)" fill-opacity="1.0"/><circle cx="1065.2" cy="604.8" r="13.3" fill="url(#gCl)" fill-opacity="1.0"/><circle cx="1115.4" cy="623.1" r="11.2" fill="url(#gCl)" fill-opacity="1.0"/><circle cx="1083.5" cy="589.7" r="17.3" fill="url(#gCl)" fill-opacity="1.0"/><circle cx="1111.5" cy="626.7" r="11.7" fill="url(#gCl)" fill-opacity="1.0"/><circle cx="1153.7" cy="595.5" r="18.3" fill="url(#gCl)" fill-opacity="1.0"/><circle cx="1087.6" cy="580.7" r="10.6" fill="url(#gCl)" fill-opacity="1.0"/><circle cx="1126.5" cy="572.6" r="9.4" fill="url(#gCl)" fill-opacity="1.0"/><circle cx="1117.3" cy="612.4" r="16.9" fill="url(#gCl)" fill-opacity="1.0"/><circle cx="1127.4" cy="588.2" r="17.8" fill="url(#gCl)" fill-opacity="1.0"/><circle cx="1092.2" cy="633.2" r="18.5" fill="url(#gCl)" fill-opacity="1.0"/><ellipse cx="1150" cy="590" rx="28.0" ry="38.5" fill="url(#gCl)" fill-opacity="1.0"/><circle cx="1124.4" cy="555.6" r="13.1" fill="url(#gCl)" fill-opacity="1.0"/><circle cx="1178.6" cy="592.5" r="15.5" fill="url(#gCl)" fill-opacity="1.0"/><circle cx="1159.9" cy="621.5" r="12.5" fill="url(#gCl)" fill-opacity="1.0"/><circle cx="1172.0" cy="595.2" r="13.2" fill="url(#gCl)" fill-opacity="1.0"/><circle cx="1116.8" cy="596.9" r="13.4" fill="url(#gCl)" fill-opacity="1.0"/><circle cx="1185.9" cy="584.5" r="19.2" fill="url(#gCl)" fill-opacity="1.0"/><circle cx="1138.5" cy="547.9" r="14.9" fill="url(#gCl)" fill-opacity="1.0"/><circle cx="1157.3" cy="558.4" r="15.5" fill="url(#gCl)" fill-opacity="1.0"/><circle cx="1137.6" cy="554.1" r="12.1" fill="url(#gCl)" fill-opacity="1.0"/><circle cx="1160.4" cy="597.6" r="12.9" fill="url(#gCl)" fill-opacity="1.0"/><circle cx="1119.5" cy="566.8" r="16.9" fill="url(#gCl)" fill-opacity="1.0"/><circle cx="1136.5" cy="639.7" r="12.0" fill="url(#gCl)" fill-opacity="1.0"/><circle cx="1147.7" cy="575.6" r="17.3" fill="url(#gCl)" fill-opacity="1.0"/><circle cx="1131.1" cy="542.9" r="18.9" fill="url(#gCl)" fill-opacity="1.0"/><circle cx="1136.0" cy="543.5" r="17.1" fill="url(#gCl)" fill-opacity="1.0"/><circle cx="1136.0" cy="573.9" r="14.7" fill="url(#gCl)" fill-opacity="1.0"/><ellipse cx="1245" cy="600" rx="45.5" ry="63.0" fill="url(#gCl)" fill-opacity="1.0"/><circle cx="1270.3" cy="573.3" r="19.7" fill="url(#gCl)" fill-opacity="1.0"/><circle cx="1205.8" cy="584.6" r="9.0" fill="url(#gCl)" fill-opacity="1.0"/><circle cx="1223.8" cy="624.2" r="16.2" fill="url(#gCl)" fill-opacity="1.0"/><circle cx="1295.1" cy="549.3" r="15.7" fill="url(#gCl)" fill-opacity="1.0"/><circle cx="1228.8" cy="619.4" r="16.6" fill="url(#gCl)" fill-opacity="1.0"/><circle cx="1193.1" cy="574.9" r="13.1" fill="url(#gCl)" fill-opacity="1.0"/><circle cx="1267.7" cy="572.9" r="12.4" fill="url(#gCl)" fill-opacity="1.0"/><circle cx="1239.3" cy="670.6" r="18.9" fill="url(#gCl)" fill-opacity="1.0"/><circle cx="1270.6" cy="662.2" r="17.4" fill="url(#gCl)" fill-opacity="1.0"/><circle cx="1247.6" cy="622.2" r="15.2" fill="url(#gCl)" fill-opacity="1.0"/><circle cx="1274.4" cy="526.1" r="17.0" fill="url(#gCl)" fill-opacity="1.0"/><circle cx="1208.3" cy="629.3" r="14.8" fill="url(#gCl)" fill-opacity="1.0"/><circle cx="1274.5" cy="572.1" r="12.1" fill="url(#gCl)" fill-opacity="1.0"/><circle cx="1194.6" cy="545.6" r="11.1" fill="url(#gCl)" fill-opacity="1.0"/><circle cx="1266.7" cy="605.8" r="15.2" fill="url(#gCl)" fill-opacity="1.0"/><circle cx="1222.8" cy="576.6" r="11.1" fill="url(#gCl)" fill-opacity="1.0"/><ellipse cx="1215" cy="560" rx="28.0" ry="31.5" fill="url(#gCl)" fill-opacity="1.0"/><circle cx="1188.3" cy="539.8" r="16.6" fill="url(#gCl)" fill-opacity="1.0"/><circle cx="1213.7" cy="548.9" r="14.3" fill="url(#gCl)" fill-opacity="1.0"/><circle cx="1234.8" cy="522.1" r="12.5" fill="url(#gCl)" fill-opacity="1.0"/><circle cx="1233.9" cy="530.8" r="19.2" fill="url(#gCl)" fill-opacity="1.0"/><circle cx="1219.4" cy="597.2" r="18.2" fill="url(#gCl)" fill-opacity="1.0"/><circle cx="1202.4" cy="562.1" r="11.1" fill="url(#gCl)" fill-opacity="1.0"/><circle cx="1221.7" cy="571.4" r="10.7" fill="url(#gCl)" fill-opacity="1.0"/><circle cx="1205.3" cy="550.3" r="17.3" fill="url(#gCl)" fill-opacity="1.0"/><circle cx="1211.9" cy="519.5" r="17.8" fill="url(#gCl)" fill-opacity="1.0"/><circle cx="1206.2" cy="517.9" r="19.5" fill="url(#gCl)" fill-opacity="1.0"/><circle cx="1187.2" cy="528.7" r="10.1" fill="url(#gCl)" fill-opacity="1.0"/><circle cx="1223.1" cy="566.9" r="11.3" fill="url(#gCl)" fill-opacity="1.0"/><circle cx="1195.9" cy="581.6" r="16.5" fill="url(#gCl)" fill-opacity="1.0"/><circle cx="1214.5" cy="547.0" r="13.4" fill="url(#gCl)" fill-opacity="1.0"/><circle cx="1191.4" cy="552.6" r="10.3" fill="url(#gCl)" fill-opacity="1.0"/><circle cx="1194.9" cy="544.2" r="16.5" fill="url(#gCl)" fill-opacity="1.0"/></g>
<g filter="url(#rCl)"><polygon points="1220,403.5 1258,403.5 1165,792 1124,792" fill="#c0c000" fill-opacity="1"/></g>
</g>
<text x="1256.5" y="770.5" font-size="57" fill="#e8e800" font-weight="bold" text-anchor="start" textLength="54" lengthAdjust="spacingAndGlyphs">Cl</text>
<g clip-path="url(#cV)">
<g filter="url(#sV)"><ellipse cx="1400" cy="595" rx="42.0" ry="52.5" fill="url(#gV)" fill-opacity="1.0"/><circle cx="1341.2" cy="597.1" r="19.4" fill="url(#gV)" fill-opacity="1.0"/><circle cx="1447.0" cy="623.6" r="16.9" fill="url(#gV)" fill-opacity="1.0"/><circle cx="1394.2" cy="619.6" r="14.3" fill="url(#gV)" fill-opacity="1.0"/><circle cx="1368.6" cy="646.1" r="19.1" fill="url(#gV)" fill-opacity="1.0"/><circle cx="1376.1" cy="622.3" r="14.5" fill="url(#gV)" fill-opacity="1.0"/><circle cx="1382.5" cy="532.1" r="15.3" fill="url(#gV)" fill-opacity="1.0"/><circle cx="1390.1" cy="636.7" r="18.3" fill="url(#gV)" fill-opacity="1.0"/><circle cx="1386.6" cy="593.0" r="13.6" fill="url(#gV)" fill-opacity="1.0"/><circle cx="1403.7" cy="656.0" r="9.8" fill="url(#gV)" fill-opacity="1.0"/><circle cx="1397.5" cy="618.0" r="14.3" fill="url(#gV)" fill-opacity="1.0"/><circle cx="1443.9" cy="589.7" r="13.2" fill="url(#gV)" fill-opacity="1.0"/><circle cx="1416.6" cy="585.8" r="12.9" fill="url(#gV)" fill-opacity="1.0"/><circle cx="1401.6" cy="590.0" r="17.4" fill="url(#gV)" fill-opacity="1.0"/><circle cx="1395.1" cy="602.4" r="11.8" fill="url(#gV)" fill-opacity="1.0"/><circle cx="1364.1" cy="607.0" r="14.7" fill="url(#gV)" fill-opacity="1.0"/><circle cx="1426.5" cy="606.5" r="19.7" fill="url(#gV)" fill-opacity="1.0"/><ellipse cx="1440" cy="560" rx="28.0" ry="28.0" fill="url(#gV)" fill-opacity="1.0"/><circle cx="1414.3" cy="569.7" r="9.9" fill="url(#gV)" fill-opacity="1.0"/><circle cx="1432.9" cy="598.4" r="16.6" fill="url(#gV)" fill-opacity="1.0"/><circle cx="1430.8" cy="559.5" r="13.3" fill="url(#gV)" fill-opacity="1.0"/><circle cx="1444.7" cy="534.0" r="15.5" fill="url(#gV)" fill-opacity="1.0"/><circle cx="1466.3" cy="541.5" r="16.0" fill="url(#gV)" fill-opacity="1.0"/><circle cx="1446.0" cy="561.4" r="17.5" fill="url(#gV)" fill-opacity="1.0"/><circle cx="1408.0" cy="579.4" r="18.1" fill="url(#gV)" fill-opacity="1.0"/><circle cx="1461.2" cy="547.5" r="20.0" fill="url(#gV)" fill-opacity="1.0"/><circle cx="1441.5" cy="522.3" r="10.6" fill="url(#gV)" fill-opacity="1.0"/><circle cx="1445.0" cy="534.5" r="19.7" fill="url(#gV)" fill-opacity="1.0"/><circle cx="1458.6" cy="559.3" r="13.6" fill="url(#gV)" fill-opacity="1.0"/><circle cx="1436.4" cy="587.2" r="12.2" fill="url(#gV)" fill-opacity="1.0"/><circle cx="1433.0" cy="547.8" r="10.9" fill="url(#gV)" fill-opacity="1.0"/><circle cx="1429.5" cy="562.9" r="13.2" fill="url(#gV)" fill-opacity="1.0"/><circle cx="1470.1" cy="537.4" r="11.2" fill="url(#gV)" fill-opacity="1.0"/><circle cx="1476.2" cy="564.2" r="19.6" fill="url(#gV)" fill-opacity="1.0"/><ellipse cx="1510" cy="605" rx="42.0" ry="63.0" fill="url(#gV)" fill-opacity="1.0"/><circle cx="1492.0" cy="585.7" r="11.6" fill="url(#gV)" fill-opacity="1.0"/><circle cx="1560.9" cy="563.1" r="9.3" fill="url(#gV)" fill-opacity="1.0"/><circle cx="1525.7" cy="659.1" r="11.9" fill="url(#gV)" fill-opacity="1.0"/><circle cx="1510.9" cy="550.1" r="17.5" fill="url(#gV)" fill-opacity="1.0"/><circle cx="1535.0" cy="657.9" r="19.7" fill="url(#gV)" fill-opacity="1.0"/><circle cx="1504.7" cy="579.2" r="10.2" fill="url(#gV)" fill-opacity="1.0"/><circle cx="1487.2" cy="561.8" r="13.1" fill="url(#gV)" fill-opacity="1.0"/><circle cx="1464.7" cy="614.6" r="19.6" fill="url(#gV)" fill-opacity="1.0"/><circle cx="1512.6" cy="672.8" r="11.9" fill="url(#gV)" fill-opacity="1.0"/><circle cx="1460.8" cy="583.4" r="10.5" fill="url(#gV)" fill-opacity="1.0"/><circle cx="1459.9" cy="613.9" r="9.1" fill="url(#gV)" fill-opacity="1.0"/><circle cx="1515.1" cy="547.3" r="14.5" fill="url(#gV)" fill-opacity="1.0"/><circle cx="1468.9" cy="553.7" r="9.6" fill="url(#gV)" fill-opacity="1.0"/><circle cx="1498.3" cy="604.9" r="13.2" fill="url(#gV)" fill-opacity="1.0"/><circle cx="1505.0" cy="615.9" r="12.3" fill="url(#gV)" fill-opacity="1.0"/><circle cx="1463.8" cy="627.5" r="19.2" fill="url(#gV)" fill-opacity="1.0"/></g>
<g filter="url(#rV)"><polygon points="1473,403.5 1513,403.5 1418,792 1377,792" fill="#22c022" fill-opacity="1"/></g>
</g>
<text x="1532" y="769" font-size="58" fill="#10e010" font-weight="bold" text-anchor="start" textLength="38" lengthAdjust="spacingAndGlyphs">V</text>
<g clip-path="url(#cO)">
<g filter="url(#sO)"><ellipse cx="1660" cy="595" rx="42.0" ry="50.4" fill="url(#gO)" fill-opacity="1.0"/><circle cx="1630.0" cy="633.1" r="16.8" fill="url(#gO)" fill-opacity="1.0"/><circle cx="1714.0" cy="568.1" r="19.9" fill="url(#gO)" fill-opacity="1.0"/><circle cx="1652.2" cy="622.9" r="19.3" fill="url(#gO)" fill-opacity="1.0"/><circle cx="1695.5" cy="617.5" r="17.1" fill="url(#gO)" fill-opacity="1.0"/><circle cx="1623.2" cy="586.9" r="19.2" fill="url(#gO)" fill-opacity="1.0"/><circle cx="1646.4" cy="645.9" r="18.1" fill="url(#gO)" fill-opacity="1.0"/><circle cx="1683.0" cy="627.5" r="14.4" fill="url(#gO)" fill-opacity="1.0"/><circle cx="1635.0" cy="581.8" r="14.0" fill="url(#gO)" fill-opacity="1.0"/><circle cx="1676.5" cy="602.8" r="12.8" fill="url(#gO)" fill-opacity="1.0"/><circle cx="1696.5" cy="650.6" r="11.9" fill="url(#gO)" fill-opacity="1.0"/><circle cx="1651.4" cy="657.9" r="17.2" fill="url(#gO)" fill-opacity="1.0"/><circle cx="1655.8" cy="660.4" r="15.9" fill="url(#gO)" fill-opacity="1.0"/><circle cx="1623.6" cy="631.8" r="11.7" fill="url(#gO)" fill-opacity="1.0"/><circle cx="1655.3" cy="662.2" r="13.8" fill="url(#gO)" fill-opacity="1.0"/><circle cx="1680.2" cy="576.8" r="10.5" fill="url(#gO)" fill-opacity="1.0"/><circle cx="1708.9" cy="614.9" r="15.2" fill="url(#gO)" fill-opacity="1.0"/><ellipse cx="1700" cy="545" rx="28.0" ry="28.0" fill="url(#gO)" fill-opacity="1.0"/><circle cx="1708.3" cy="545.5" r="18.1" fill="url(#gO)" fill-opacity="1.0"/><circle cx="1662.7" cy="546.3" r="9.4" fill="url(#gO)" fill-opacity="1.0"/><circle cx="1688.4" cy="537.7" r="16.9" fill="url(#gO)" fill-opacity="1.0"/><circle cx="1676.1" cy="524.9" r="11.4" fill="url(#gO)" fill-opacity="1.0"/><circle cx="1712.7" cy="540.8" r="9.7" fill="url(#gO)" fill-opacity="1.0"/><circle cx="1695.1" cy="533.8" r="9.7" fill="url(#gO)" fill-opacity="1.0"/><circle cx="1668.8" cy="553.0" r="18.8" fill="url(#gO)" fill-opacity="1.0"/><circle cx="1698.1" cy="534.6" r="16.1" fill="url(#gO)" fill-opacity="1.0"/><circle cx="1707.7" cy="533.4" r="17.3" fill="url(#gO)" fill-opacity="1.0"/><circle cx="1698.8" cy="566.8" r="9.0" fill="url(#gO)" fill-opacity="1.0"/><circle cx="1701.5" cy="516.3" r="18.9" fill="url(#gO)" fill-opacity="1.0"/><circle cx="1684.6" cy="548.4" r="11.4" fill="url(#gO)" fill-opacity="1.0"/><circle cx="1696.7" cy="583.8" r="11.3" fill="url(#gO)" fill-opacity="1.0"/><circle cx="1720.2" cy="557.5" r="9.9" fill="url(#gO)" fill-opacity="1.0"/><circle cx="1671.9" cy="559.3" r="16.2" fill="url(#gO)" fill-opacity="1.0"/><circle cx="1706.8" cy="558.3" r="14.4" fill="url(#gO)" fill-opacity="1.0"/><ellipse cx="1790" cy="605" rx="42.0" ry="66.5" fill="url(#gO)" fill-opacity="1.0"/><circle cx="1774.6" cy="546.4" r="15.3" fill="url(#gO)" fill-opacity="1.0"/><circle cx="1809.5" cy="586.0" r="11.9" fill="url(#gO)" fill-opacity="1.0"/><circle cx="1746.1" cy="607.7" r="18.9" fill="url(#gO)" fill-opacity="1.0"/><circle cx="1744.1" cy="578.7" r="13.6" fill="url(#gO)" fill-opacity="1.0"/><circle cx="1801.7" cy="520.1" r="12.2" fill="url(#gO)" fill-opacity="1.0"/><circle cx="1813.8" cy="635.3" r="12.9" fill="url(#gO)" fill-opacity="1.0"/><circle cx="1813.7" cy="573.8" r="15.9" fill="url(#gO)" fill-opacity="1.0"/><circle cx="1752.8" cy="533.2" r="10.3" fill="url(#gO)" fill-opacity="1.0"/><circle cx="1794.3" cy="550.3" r="10.1" fill="url(#gO)" fill-opacity="1.0"/><circle cx="1752.8" cy="540.6" r="15.4" fill="url(#gO)" fill-opacity="1.0"/><circle cx="1846.3" cy="633.9" r="13.2" fill="url(#gO)" fill-opacity="1.0"/><circle cx="1756.6" cy="543.9" r="11.9" fill="url(#gO)" fill-opacity="1.0"/><circle cx="1761.1" cy="634.7" r="10.1" fill="url(#gO)" fill-opacity="1.0"/><circle cx="1836.7" cy="636.7" r="13.5" fill="url(#gO)" fill-opacity="1.0"/><circle cx="1800.3" cy="587.6" r="12.3" fill="url(#gO)" fill-opacity="1.0"/><circle cx="1814.8" cy="688.5" r="17.7" fill="url(#gO)" fill-opacity="1.0"/><ellipse cx="1720" cy="590" rx="35.0" ry="42.0" fill="url(#gO)" fill-opacity="1.0"/><circle cx="1748.3" cy="564.1" r="10.1" fill="url(#gO)" fill-opacity="1.0"/><circle cx="1699.4" cy="604.3" r="9.3" fill="url(#gO)" fill-opacity="1.0"/><circle cx="1695.3" cy="577.2" r="10.2" fill="url(#gO)" fill-opacity="1.0"/><circle cx="1671.8" cy="585.8" r="19.4" fill="url(#gO)" fill-opacity="1.0"/><circle cx="1704.3" cy="594.1" r="17.5" fill="url(#gO)" fill-opacity="1.0"/><circle cx="1747.5" cy="619.0" r="9.9" fill="url(#gO)" fill-opacity="1.0"/><circle cx="1756.7" cy="586.5" r="13.8" fill="url(#gO)" fill-opacity="1.0"/><circle cx="1714.8" cy="634.1" r="19.7" fill="url(#gO)" fill-opacity="1.0"/><circle cx="1699.4" cy="602.0" r="14.7" fill="url(#gO)" fill-opacity="1.0"/><circle cx="1746.9" cy="571.8" r="16.0" fill="url(#gO)" fill-opacity="1.0"/><circle cx="1744.9" cy="573.3" r="17.9" fill="url(#gO)" fill-opacity="1.0"/><circle cx="1701.6" cy="585.9" r="9.6" fill="url(#gO)" fill-opacity="1.0"/><circle cx="1751.7" cy="574.7" r="13.9" fill="url(#gO)" fill-opacity="1.0"/><circle cx="1752.9" cy="567.5" r="14.5" fill="url(#gO)" fill-opacity="1.0"/><circle cx="1710.8" cy="640.6" r="11.8" fill="url(#gO)" fill-opacity="1.0"/><circle cx="1677.2" cy="599.6" r="15.7" fill="url(#gO)" fill-opacity="1.0"/></g>
<g filter="url(#rO)"><polygon points="1745,403.5 1795,403.5 1705,792 1654,792" fill="#d020d0" fill-opacity="1"/></g>
</g>
<text x="1805" y="770.5" font-size="56" fill="#f000f0" font-weight="bold" text-anchor="start" textLength="41" lengthAdjust="spacingAndGlyphs">O</text>
<g clip-path="url(#cCl)"><g filter="url(#sCl)"><ellipse cx="1188" cy="601" rx="30" ry="34" fill="#f0f000"/></g></g>
<g clip-path="url(#cO)"><g filter="url(#sO)"><ellipse cx="1725" cy="600" rx="32" ry="38" fill="#f030f0"/></g></g>
<rect x="146.2" y="1322.3" width="14.7" height="8.9" fill="#ff0000"/>
<rect x="160.6" y="1322.3" width="14.7" height="8.9" fill="#00639e"/>
<rect x="174.9" y="1322.3" width="14.7" height="8.9" fill="#ffc000"/>
<rect x="189.3" y="1322.3" width="14.7" height="8.9" fill="#00c76d"/>
<rect x="203.7" y="1322.3" width="14.7" height="8.9" fill="#6666a1"/>
<rect x="218" y="1326.1" width="14.7" height="5.1" fill="#9a9a9a"/>
<rect x="253.6" y="1282.8" width="14.7" height="48.4" fill="#ff0000"/>
<rect x="267.9" y="1273" width="14.7" height="58.2" fill="#00639e"/>
<rect x="282.2" y="1270.9" width="14.7" height="60.3" fill="#ffc000"/>
<rect x="296.6" y="1264" width="14.7" height="67.2" fill="#00c76d"/>
<rect x="310.9" y="1295.1" width="14.7" height="36.1" fill="#6666a1"/>
<rect x="325.3" y="1327" width="14.7" height="4.2" fill="#9a9a9a"/>
<rect x="360.9" y="1262.2" width="14.7" height="69" fill="#ff0000"/>
<rect x="375.3" y="1195.9" width="14.7" height="135.3" fill="#00639e"/>
<rect x="389.6" y="1195.5" width="14.7" height="135.7" fill="#ffc000"/>
<rect x="404" y="1186.1" width="14.7" height="145.1" fill="#00c76d"/>
<rect x="418.3" y="1272.5" width="14.7" height="58.7" fill="#6666a1"/>
<rect x="432.7" y="1327" width="14.7" height="4.2" fill="#9a9a9a"/>
<rect x="468.3" y="1231.2" width="14.7" height="100" fill="#ff0000"/>
<rect x="482.7" y="1092.6" width="14.7" height="238.6" fill="#00639e"/>
<rect x="497" y="1095.9" width="14.7" height="235.3" fill="#ffc000"/>
<rect x="511.4" y="1083.2" width="14.7" height="248" fill="#00c76d"/>
<rect x="525.8" y="1233.5" width="14.7" height="97.7" fill="#6666a1"/>
<rect x="540.1" y="1327" width="14.7" height="4.2" fill="#9a9a9a"/>
<rect x="576.9" y="1196.4" width="14.7" height="134.8" fill="#ff0000"/>
<rect x="591.2" y="970.4" width="14.7" height="360.8" fill="#00639e"/>
<rect x="605.6" y="968.1" width="14.7" height="363.1" fill="#ffc000"/>
<rect x="619.9" y="942.7" width="14.7" height="388.5" fill="#00c76d"/>
<rect x="634.2" y="1181.8" width="14.7" height="149.4" fill="#6666a1"/>
<rect x="648.6" y="1327" width="14.7" height="4.2" fill="#9a9a9a"/>
<line x1="135.3" y1="1322.3" x2="673.3" y2="1322.3" stroke="#1a1a1a" stroke-width="2.4" stroke-dasharray="3.4 3.6"/>
<rect x="135.3" y="899.5" width="538" height="431.7" fill="none" stroke="#222" stroke-width="2.7"/>
<rect x="142.5" y="908" width="60" height="29" fill="#ff0000"/>
<text x="210" y="931" font-size="26" fill="#222" font-weight="bold" text-anchor="start" >BCS</text>
<rect x="142.5" y="941.6" width="60" height="29" fill="#00639e"/>
<text x="210" y="964.6" font-size="26" fill="#222" font-weight="bold" text-anchor="start" >20%BVO/BCS</text>
<rect x="142.5" y="975.2" width="60" height="29" fill="#ffc000"/>
<text x="210" y="998.2" font-size="26" fill="#222" font-weight="bold" text-anchor="start" >40%BVO/BCS</text>
<rect x="142.5" y="1008.8" width="60" height="29" fill="#00c76d"/>
<text x="210" y="1031.8" font-size="26" fill="#222" font-weight="bold" text-anchor="start" >60%BVO/BCS</text>
<rect x="142.5" y="1042.4" width="60" height="29" fill="#6666a1"/>
<text x="210" y="1065.4" font-size="26" fill="#222" font-weight="bold" text-anchor="start" >80%BVO/BCS</text>
<rect x="142.5" y="1076" width="60" height="29" fill="#9a9a9a"/>
<text x="210" y="1099" font-size="26" fill="#222" font-weight="bold" text-anchor="start" >BVO</text>
<line x1="127.8" y1="1322.3" x2="135.3" y2="1322.3" stroke="#222" stroke-width="2.2"/>
<text x="118.5" y="1330.5" font-size="24" fill="#222" font-weight="bold" text-anchor="end" >0</text>
<line x1="127.8" y1="1275.3" x2="135.3" y2="1275.3" stroke="#222" stroke-width="2.2"/>
<text x="118.5" y="1283.5" font-size="24" fill="#222" font-weight="bold" text-anchor="end" >10</text>
<line x1="127.8" y1="1228.3" x2="135.3" y2="1228.3" stroke="#222" stroke-width="2.2"/>
<text x="118.5" y="1236.5" font-size="24" fill="#222" font-weight="bold" text-anchor="end" >20</text>
<line x1="127.8" y1="1181.4" x2="135.3" y2="1181.4" stroke="#222" stroke-width="2.2"/>
<text x="118.5" y="1189.5" font-size="24" fill="#222" font-weight="bold" text-anchor="end" >30</text>
<line x1="127.8" y1="1134.4" x2="135.3" y2="1134.4" stroke="#222" stroke-width="2.2"/>
<text x="118.5" y="1142.5" font-size="24" fill="#222" font-weight="bold" text-anchor="end" >40</text>
<line x1="127.8" y1="1087.4" x2="135.3" y2="1087.4" stroke="#222" stroke-width="2.2"/>
<text x="118.5" y="1095.6" font-size="24" fill="#222" font-weight="bold" text-anchor="end" >50</text>
<line x1="127.8" y1="1040.4" x2="135.3" y2="1040.4" stroke="#222" stroke-width="2.2"/>
<text x="118.5" y="1048.6" font-size="24" fill="#222" font-weight="bold" text-anchor="end" >60</text>
<line x1="127.8" y1="993.5" x2="135.3" y2="993.5" stroke="#222" stroke-width="2.2"/>
<text x="118.5" y="1001.6" font-size="24" fill="#222" font-weight="bold" text-anchor="end" >70</text>
<line x1="127.8" y1="946.5" x2="135.3" y2="946.5" stroke="#222" stroke-width="2.2"/>
<text x="118.5" y="954.6" font-size="24" fill="#222" font-weight="bold" text-anchor="end" >80</text>
<line x1="127.8" y1="899.5" x2="135.3" y2="899.5" stroke="#222" stroke-width="2.2"/>
<text x="118.5" y="907.7" font-size="24" fill="#222" font-weight="bold" text-anchor="end" >90</text>
<line x1="131.3" y1="1298.8" x2="135.3" y2="1298.8" stroke="#222" stroke-width="2.2"/>
<line x1="131.3" y1="1251.8" x2="135.3" y2="1251.8" stroke="#222" stroke-width="2.2"/>
<line x1="131.3" y1="1204.9" x2="135.3" y2="1204.9" stroke="#222" stroke-width="2.2"/>
<line x1="131.3" y1="1157.9" x2="135.3" y2="1157.9" stroke="#222" stroke-width="2.2"/>
<line x1="131.3" y1="1110.9" x2="135.3" y2="1110.9" stroke="#222" stroke-width="2.2"/>
<line x1="131.3" y1="1063.9" x2="135.3" y2="1063.9" stroke="#222" stroke-width="2.2"/>
<line x1="131.3" y1="1016.9" x2="135.3" y2="1016.9" stroke="#222" stroke-width="2.2"/>
<line x1="131.3" y1="970" x2="135.3" y2="970" stroke="#222" stroke-width="2.2"/>
<line x1="131.3" y1="923" x2="135.3" y2="923" stroke="#222" stroke-width="2.2"/>
<line x1="189.3" y1="1331.2" x2="189.3" y2="1339.2" stroke="#222" stroke-width="2.4"/>
<line x1="296.6" y1="1331.2" x2="296.6" y2="1339.2" stroke="#222" stroke-width="2.4"/>
<line x1="404" y1="1331.2" x2="404" y2="1339.2" stroke="#222" stroke-width="2.4"/>
<line x1="511.4" y1="1331.2" x2="511.4" y2="1339.2" stroke="#222" stroke-width="2.4"/>
<line x1="619.9" y1="1331.2" x2="619.9" y2="1339.2" stroke="#222" stroke-width="2.4"/>
<text x="189.3" y="1365" font-size="23.5" fill="#222" font-weight="bold" text-anchor="middle" >0h</text>
<text x="296.6" y="1365" font-size="23.5" fill="#222" font-weight="bold" text-anchor="middle" >1h</text>
<text x="404" y="1365" font-size="23.5" fill="#222" font-weight="bold" text-anchor="middle" >2h</text>
<text x="511.4" y="1365" font-size="23.5" fill="#222" font-weight="bold" text-anchor="middle" >3h</text>
<text x="619.9" y="1365" font-size="23.5" fill="#222" font-weight="bold" text-anchor="middle" >4h</text>
<text x="404.3" y="1406" font-size="28" fill="#222" font-weight="bold" text-anchor="middle" textLength="95" lengthAdjust="spacingAndGlyphs">Time (h)</text>
<text x="0" y="0" transform="translate(84.5,1114) rotate(-90)" font-size="29" font-weight="bold" fill="#222" text-anchor="middle" textLength="221" lengthAdjust="spacingAndGlyphs">CO Yield (μmol g<tspan dy="-11" font-size="17">-1</tspan><tspan dy="11">)</tspan></text>
<rect x="773" y="1321.3" width="14.7" height="9.9" fill="#ff0000"/>
<rect x="787.3" y="1321.3" width="14.7" height="9.9" fill="#00639e"/>
<rect x="801.7" y="1321.3" width="14.7" height="9.9" fill="#ffc000"/>
<rect x="816" y="1321.3" width="14.7" height="9.9" fill="#00c76d"/>
<rect x="830.4" y="1321.3" width="14.7" height="9.9" fill="#6666a1"/>
<rect x="844.7" y="1323.8" width="14.7" height="7.4" fill="#9a9a9a"/>
<rect x="880.2" y="1133.2" width="14.7" height="198" fill="#ff0000"/>
<rect x="894.5" y="1174.7" width="14.7" height="156.5" fill="#00639e"/>
<rect x="908.9" y="1181.4" width="14.7" height="149.8" fill="#ffc000"/>
<rect x="923.2" y="1174" width="14.7" height="157.2" fill="#00c76d"/>
<rect x="937.6" y="1259.4" width="14.7" height="71.8" fill="#6666a1"/>
<rect x="951.9" y="1325.2" width="14.7" height="6" fill="#9a9a9a"/>
<rect x="987.5" y="1188.1" width="14.7" height="143.1" fill="#ff0000"/>
<rect x="1001.8" y="1137.1" width="14.7" height="194.1" fill="#00639e"/>
<rect x="1016.2" y="1154.3" width="14.7" height="176.9" fill="#ffc000"/>
<rect x="1030.5" y="1151.5" width="14.7" height="179.7" fill="#00c76d"/>
<rect x="1044.9" y="1222.9" width="14.7" height="108.3" fill="#6666a1"/>
<rect x="1059.2" y="1325.2" width="14.7" height="6" fill="#9a9a9a"/>
<rect x="1094.7" y="1083" width="14.7" height="248.2" fill="#ff0000"/>
<rect x="1109" y="1071" width="14.7" height="260.2" fill="#00639e"/>
<rect x="1123.4" y="1099.2" width="14.7" height="232" fill="#ffc000"/>
<rect x="1137.7" y="1108.6" width="14.7" height="222.6" fill="#00c76d"/>
<rect x="1152.1" y="1203.9" width="14.7" height="127.3" fill="#6666a1"/>
<rect x="1166.4" y="1325.2" width="14.7" height="6" fill="#9a9a9a"/>
<rect x="1202.4" y="1050.6" width="14.7" height="280.6" fill="#ff0000"/>
<rect x="1216.7" y="945.5" width="14.7" height="385.7" fill="#00639e"/>
<rect x="1231.1" y="1069.3" width="14.7" height="261.9" fill="#ffc000"/>
<rect x="1245.4" y="1025" width="14.7" height="306.2" fill="#00c76d"/>
<rect x="1259.8" y="1190.2" width="14.7" height="141" fill="#6666a1"/>
<rect x="1274.1" y="1325.2" width="14.7" height="6" fill="#9a9a9a"/>
<line x1="761.3" y1="1321.3" x2="1299.8" y2="1321.3" stroke="#1a1a1a" stroke-width="2.4" stroke-dasharray="3.4 3.6"/>
<rect x="761.3" y="899.5" width="538.5" height="431.7" fill="none" stroke="#222" stroke-width="2.7"/>
<rect x="769" y="908" width="60" height="29" fill="#ff0000"/>
<text x="836.5" y="931" font-size="26" fill="#222" font-weight="bold" text-anchor="start" >BCS</text>
<rect x="769" y="941.6" width="60" height="29" fill="#00639e"/>
<text x="836.5" y="964.6" font-size="26" fill="#222" font-weight="bold" text-anchor="start" >20%BVO/BCS</text>
<rect x="769" y="975.2" width="60" height="29" fill="#ffc000"/>
<text x="836.5" y="998.2" font-size="26" fill="#222" font-weight="bold" text-anchor="start" >40%BVO/BCS</text>
<rect x="769" y="1008.8" width="60" height="29" fill="#00c76d"/>
<text x="836.5" y="1031.8" font-size="26" fill="#222" font-weight="bold" text-anchor="start" >60%BVO/BCS</text>
<rect x="769" y="1042.4" width="60" height="29" fill="#6666a1"/>
<text x="836.5" y="1065.4" font-size="26" fill="#222" font-weight="bold" text-anchor="start" >80%BVO/BCS</text>
<rect x="769" y="1076" width="60" height="29" fill="#9a9a9a"/>
<text x="836.5" y="1099" font-size="26" fill="#222" font-weight="bold" text-anchor="start" >BVO</text>
<line x1="753.8" y1="1321.3" x2="761.3" y2="1321.3" stroke="#222" stroke-width="2.2"/>
<text x="744.5" y="1329.5" font-size="24" fill="#222" font-weight="bold" text-anchor="end" >0</text>
<line x1="753.8" y1="1251" x2="761.3" y2="1251" stroke="#222" stroke-width="2.2"/>
<text x="744.5" y="1259.2" font-size="24" fill="#222" font-weight="bold" text-anchor="end" >2</text>
<line x1="753.8" y1="1180.7" x2="761.3" y2="1180.7" stroke="#222" stroke-width="2.2"/>
<text x="744.5" y="1188.9" font-size="24" fill="#222" font-weight="bold" text-anchor="end" >4</text>
<line x1="753.8" y1="1110.4" x2="761.3" y2="1110.4" stroke="#222" stroke-width="2.2"/>
<text x="744.5" y="1118.6" font-size="24" fill="#222" font-weight="bold" text-anchor="end" >6</text>
<line x1="753.8" y1="1040.1" x2="761.3" y2="1040.1" stroke="#222" stroke-width="2.2"/>
<text x="744.5" y="1048.3" font-size="24" fill="#222" font-weight="bold" text-anchor="end" >8</text>
<line x1="753.8" y1="969.8" x2="761.3" y2="969.8" stroke="#222" stroke-width="2.2"/>
<text x="744.5" y="978" font-size="24" fill="#222" font-weight="bold" text-anchor="end" >10</text>
<line x1="753.8" y1="899.5" x2="761.3" y2="899.5" stroke="#222" stroke-width="2.2"/>
<text x="744.5" y="907.7" font-size="24" fill="#222" font-weight="bold" text-anchor="end" >12</text>
<line x1="757.3" y1="1286.1" x2="761.3" y2="1286.1" stroke="#222" stroke-width="2.2"/>
<line x1="757.3" y1="1215.8" x2="761.3" y2="1215.8" stroke="#222" stroke-width="2.2"/>
<line x1="757.3" y1="1145.5" x2="761.3" y2="1145.5" stroke="#222" stroke-width="2.2"/>
<line x1="757.3" y1="1075.2" x2="761.3" y2="1075.2" stroke="#222" stroke-width="2.2"/>
<line x1="757.3" y1="1005" x2="761.3" y2="1005" stroke="#222" stroke-width="2.2"/>
<line x1="757.3" y1="934.6" x2="761.3" y2="934.6" stroke="#222" stroke-width="2.2"/>
<line x1="816" y1="1331.2" x2="816" y2="1339.2" stroke="#222" stroke-width="2.4"/>
<line x1="923.2" y1="1331.2" x2="923.2" y2="1339.2" stroke="#222" stroke-width="2.4"/>
<line x1="1030.5" y1="1331.2" x2="1030.5" y2="1339.2" stroke="#222" stroke-width="2.4"/>
<line x1="1137.7" y1="1331.2" x2="1137.7" y2="1339.2" stroke="#222" stroke-width="2.4"/>
<line x1="1245.4" y1="1331.2" x2="1245.4" y2="1339.2" stroke="#222" stroke-width="2.4"/>
<text x="816" y="1365" font-size="23.5" fill="#222" font-weight="bold" text-anchor="middle" >0h</text>
<text x="923.2" y="1365" font-size="23.5" fill="#222" font-weight="bold" text-anchor="middle" >1h</text>
<text x="1030.5" y="1365" font-size="23.5" fill="#222" font-weight="bold" text-anchor="middle" >2h</text>
<text x="1137.7" y="1365" font-size="23.5" fill="#222" font-weight="bold" text-anchor="middle" >3h</text>
<text x="1245.4" y="1365" font-size="23.5" fill="#222" font-weight="bold" text-anchor="middle" >4h</text>
<text x="1030.5" y="1406" font-size="28" fill="#222" font-weight="bold" text-anchor="middle" textLength="95" lengthAdjust="spacingAndGlyphs">Time (h)</text>
<text x="0" y="0" transform="translate(706.5,1112) rotate(-90)" font-size="29" font-weight="bold" fill="#222" text-anchor="middle" textLength="229" lengthAdjust="spacingAndGlyphs">CH<tspan dy="7" font-size="17">4</tspan><tspan dy="-7"> Yield (μmol g</tspan><tspan dy="-11" font-size="17">-1</tspan><tspan dy="11">)</tspan></text>
<rect x="1390.7" y="1303.2" width="11" height="12.1" fill="#ff3838"/>
<rect x="1402" y="1312.4" width="11" height="2.9" fill="#008fdb"/>
<rect x="1413.5" y="1309.5" width="11" height="5.8" fill="#ffa45c"/>
<rect x="1432.6" y="1282.1" width="11" height="33.2" fill="#ff3838"/>
<rect x="1443.9" y="1308.6" width="11" height="6.7" fill="#008fdb"/>
<rect x="1455.4" y="1306.4" width="11" height="8.9" fill="#ffa45c"/>
<rect x="1474.5" y="1247.9" width="11" height="67.4" fill="#ff3838"/>
<rect x="1485.8" y="1298" width="11" height="17.3" fill="#008fdb"/>
<rect x="1497.3" y="1303.8" width="11" height="11.5" fill="#ffa45c"/>
<rect x="1516.5" y="1196.1" width="11" height="119.2" fill="#ff3838"/>
<rect x="1527.8" y="1282.6" width="11" height="32.7" fill="#008fdb"/>
<rect x="1539.3" y="1290.5" width="11" height="24.8" fill="#ffa45c"/>
<rect x="1558.4" y="1171.1" width="11" height="144.2" fill="#ff3838"/>
<rect x="1569.7" y="1272.9" width="11" height="42.4" fill="#008fdb"/>
<rect x="1581.2" y="1278.4" width="11" height="36.9" fill="#ffa45c"/>
<rect x="1600.3" y="1139.9" width="11" height="175.4" fill="#ff3838"/>
<rect x="1611.6" y="1261.8" width="11" height="53.5" fill="#008fdb"/>
<rect x="1623.1" y="1274.2" width="11" height="41.1" fill="#ffa45c"/>
<rect x="1642.2" y="1103.8" width="11" height="211.5" fill="#ff3838"/>
<rect x="1653.5" y="1247.9" width="11" height="67.4" fill="#008fdb"/>
<rect x="1665" y="1254.3" width="11" height="61" fill="#ffa45c"/>
<rect x="1684.1" y="1064.9" width="11" height="250.4" fill="#ff3838"/>
<rect x="1695.4" y="1234.1" width="11" height="81.2" fill="#008fdb"/>
<rect x="1706.9" y="1249.9" width="11" height="65.4" fill="#ffa45c"/>
<rect x="1726.1" y="1033.6" width="11" height="281.7" fill="#ff3838"/>
<rect x="1737.4" y="1221" width="11" height="94.3" fill="#008fdb"/>
<rect x="1748.9" y="1244.3" width="11" height="71" fill="#ffa45c"/>
<rect x="1768" y="984.2" width="11" height="331.1" fill="#ff3838"/>
<rect x="1779.3" y="1203.6" width="11" height="111.7" fill="#008fdb"/>
<rect x="1790.8" y="1226.6" width="11" height="88.7" fill="#ffa45c"/>
<rect x="1809.9" y="947.3" width="11" height="368" fill="#ff3838"/>
<rect x="1821.2" y="1188.4" width="11" height="126.9" fill="#008fdb"/>
<rect x="1832.7" y="1214.6" width="11" height="100.7" fill="#ffa45c"/>
<rect x="1851.8" y="921.6" width="11" height="393.7" fill="#ff3838"/>
<rect x="1863.1" y="1181.5" width="11" height="133.8" fill="#008fdb"/>
<rect x="1874.6" y="1213.8" width="11" height="101.5" fill="#ffa45c"/>
<rect x="1386.2" y="911.2" width="502.6" height="404.1" fill="none" stroke="#222" stroke-width="2.7"/>
<rect x="1392.4" y="916" width="45.4" height="21.5" fill="#ff3838"/>
<text x="1444.5" y="933.5" font-size="20" fill="#222" font-weight="bold" text-anchor="start" >CO</text>
<rect x="1392.4" y="944.5" width="45.4" height="21.5" fill="#008fdb"/>
<text x="1444.5" y="962" font-size="20" fill="#222" font-weight="bold" text-anchor="start" >CH<tspan dy="5" font-size="12">4</tspan></text>
<rect x="1392.4" y="973" width="45.4" height="21.5" fill="#ffa45c"/>
<text x="1444.5" y="990.5" font-size="20" fill="#222" font-weight="bold" text-anchor="start" >H<tspan dy="5" font-size="12">2</tspan></text>
<line x1="1378.7" y1="1315.3" x2="1386.2" y2="1315.3" stroke="#222" stroke-width="2.2"/>
<text x="1371.5" y="1322.8" font-size="22" fill="#222" font-weight="bold" text-anchor="end" >0</text>
<line x1="1378.7" y1="1257.6" x2="1386.2" y2="1257.6" stroke="#222" stroke-width="2.2"/>
<text x="1371.5" y="1265.1" font-size="22" fill="#222" font-weight="bold" text-anchor="end" >100</text>
<line x1="1378.7" y1="1199.9" x2="1386.2" y2="1199.9" stroke="#222" stroke-width="2.2"/>
<text x="1371.5" y="1207.4" font-size="22" fill="#222" font-weight="bold" text-anchor="end" >200</text>
<line x1="1378.7" y1="1142.2" x2="1386.2" y2="1142.2" stroke="#222" stroke-width="2.2"/>
<text x="1371.5" y="1149.7" font-size="22" fill="#222" font-weight="bold" text-anchor="end" >300</text>
<line x1="1378.7" y1="1084.6" x2="1386.2" y2="1084.6" stroke="#222" stroke-width="2.2"/>
<text x="1371.5" y="1092" font-size="22" fill="#222" font-weight="bold" text-anchor="end" >400</text>
<line x1="1378.7" y1="1026.9" x2="1386.2" y2="1026.9" stroke="#222" stroke-width="2.2"/>
<text x="1371.5" y="1034.4" font-size="22" fill="#222" font-weight="bold" text-anchor="end" >500</text>
<line x1="1378.7" y1="969.2" x2="1386.2" y2="969.2" stroke="#222" stroke-width="2.2"/>
<text x="1371.5" y="976.7" font-size="22" fill="#222" font-weight="bold" text-anchor="end" >600</text>
<line x1="1378.7" y1="911.5" x2="1386.2" y2="911.5" stroke="#222" stroke-width="2.2"/>
<text x="1371.5" y="919" font-size="22" fill="#222" font-weight="bold" text-anchor="end" >700</text>
<line x1="1382.2" y1="1286.5" x2="1386.2" y2="1286.5" stroke="#222" stroke-width="2.2"/>
<line x1="1382.2" y1="1228.8" x2="1386.2" y2="1228.8" stroke="#222" stroke-width="2.2"/>
<line x1="1382.2" y1="1171.1" x2="1386.2" y2="1171.1" stroke="#222" stroke-width="2.2"/>
<line x1="1382.2" y1="1113.4" x2="1386.2" y2="1113.4" stroke="#222" stroke-width="2.2"/>
<line x1="1382.2" y1="1055.7" x2="1386.2" y2="1055.7" stroke="#222" stroke-width="2.2"/>
<line x1="1382.2" y1="998" x2="1386.2" y2="998" stroke="#222" stroke-width="2.2"/>
<line x1="1382.2" y1="940.3" x2="1386.2" y2="940.3" stroke="#222" stroke-width="2.2"/>
<line x1="1407.3" y1="1315.3" x2="1407.3" y2="1323.3" stroke="#222" stroke-width="2.4"/>
<line x1="1449.2" y1="1315.3" x2="1449.2" y2="1323.3" stroke="#222" stroke-width="2.4"/>
<line x1="1491.1" y1="1315.3" x2="1491.1" y2="1323.3" stroke="#222" stroke-width="2.4"/>
<line x1="1533.1" y1="1315.3" x2="1533.1" y2="1323.3" stroke="#222" stroke-width="2.4"/>
<line x1="1575" y1="1315.3" x2="1575" y2="1323.3" stroke="#222" stroke-width="2.4"/>
<line x1="1616.9" y1="1315.3" x2="1616.9" y2="1323.3" stroke="#222" stroke-width="2.4"/>
<line x1="1658.8" y1="1315.3" x2="1658.8" y2="1323.3" stroke="#222" stroke-width="2.4"/>
<line x1="1700.7" y1="1315.3" x2="1700.7" y2="1323.3" stroke="#222" stroke-width="2.4"/>
<line x1="1742.7" y1="1315.3" x2="1742.7" y2="1323.3" stroke="#222" stroke-width="2.4"/>
<line x1="1784.6" y1="1315.3" x2="1784.6" y2="1323.3" stroke="#222" stroke-width="2.4"/>
<line x1="1826.5" y1="1315.3" x2="1826.5" y2="1323.3" stroke="#222" stroke-width="2.4"/>
<line x1="1868.4" y1="1315.3" x2="1868.4" y2="1323.3" stroke="#222" stroke-width="2.4"/>
<line x1="1428.3" y1="1315.3" x2="1428.3" y2="1319.3" stroke="#222" stroke-width="2.4"/>
<line x1="1470.2" y1="1315.3" x2="1470.2" y2="1319.3" stroke="#222" stroke-width="2.4"/>
<line x1="1512.1" y1="1315.3" x2="1512.1" y2="1319.3" stroke="#222" stroke-width="2.4"/>
<line x1="1554" y1="1315.3" x2="1554" y2="1319.3" stroke="#222" stroke-width="2.4"/>
<line x1="1595.9" y1="1315.3" x2="1595.9" y2="1319.3" stroke="#222" stroke-width="2.4"/>
<line x1="1637.9" y1="1315.3" x2="1637.9" y2="1319.3" stroke="#222" stroke-width="2.4"/>
<line x1="1679.8" y1="1315.3" x2="1679.8" y2="1319.3" stroke="#222" stroke-width="2.4"/>
<line x1="1721.7" y1="1315.3" x2="1721.7" y2="1319.3" stroke="#222" stroke-width="2.4"/>
<line x1="1763.6" y1="1315.3" x2="1763.6" y2="1319.3" stroke="#222" stroke-width="2.4"/>
<line x1="1805.5" y1="1315.3" x2="1805.5" y2="1319.3" stroke="#222" stroke-width="2.4"/>
<line x1="1847.5" y1="1315.3" x2="1847.5" y2="1319.3" stroke="#222" stroke-width="2.4"/>
<text x="1407.3" y="1347.5" font-size="22" fill="#222" font-weight="bold" text-anchor="middle" >2</text>
<text x="1449.2" y="1347.5" font-size="22" fill="#222" font-weight="bold" text-anchor="middle" >4</text>
<text x="1491.1" y="1347.5" font-size="22" fill="#222" font-weight="bold" text-anchor="middle" >6</text>
<text x="1533.1" y="1347.5" font-size="22" fill="#222" font-weight="bold" text-anchor="middle" >8</text>
<text x="1575" y="1347.5" font-size="22" fill="#222" font-weight="bold" text-anchor="middle" >10</text>
<text x="1616.9" y="1347.5" font-size="22" fill="#222" font-weight="bold" text-anchor="middle" >12</text>
<text x="1658.8" y="1347.5" font-size="22" fill="#222" font-weight="bold" text-anchor="middle" >14</text>
<text x="1700.7" y="1347.5" font-size="22" fill="#222" font-weight="bold" text-anchor="middle" >16</text>
<text x="1742.7" y="1347.5" font-size="22" fill="#222" font-weight="bold" text-anchor="middle" >18</text>
<text x="1784.6" y="1347.5" font-size="22" fill="#222" font-weight="bold" text-anchor="middle" >20</text>
<text x="1826.5" y="1347.5" font-size="22" fill="#222" font-weight="bold" text-anchor="middle" >22</text>
<text x="1868.4" y="1347.5" font-size="22" fill="#222" font-weight="bold" text-anchor="middle" >24</text>
<text x="1637.5" y="1384.5" font-size="26" fill="#222" font-weight="bold" text-anchor="middle" textLength="89" lengthAdjust="spacingAndGlyphs">Time (h)</text>
<text x="0" y="0" transform="translate(1331,1112) rotate(-90)" font-size="26" font-weight="bold" fill="#222" text-anchor="middle" textLength="162" lengthAdjust="spacingAndGlyphs">Yield (μmol g<tspan dy="-10" font-size="15">-1</tspan><tspan dy="10">)</tspan></text>
<line x1="1410.5" y1="1281.6" x2="1805.1" y2="940.6" stroke="#ff80f2" stroke-width="3.6"/>
<polygon points="1816.5,930.8 1809.4,945.5 1800.9,935.7" fill="#ff80f2"/>
<text x="0" y="0" transform="translate(1443.5,1203.5) rotate(-40.8)" font-size="18.5" font-weight="bold" fill="#222" textLength="350" lengthAdjust="spacingAndGlyphs">Continuous photocatalytic CO<tspan dy="5" font-size="13">2</tspan><tspan dy="-5"> reduction</tspan></text>
<line x1="165" y1="1408.5" x2="680" y2="1408.5" stroke="#eeeeee" stroke-width="1"/>
<rect x="103.3" y="1502.8" width="316.3" height="436.9" fill="#fdf2d6"/>
<rect x="419.6" y="1502.8" width="225.9" height="436.9" fill="#deecf7"/>
<g clip-path="url(#clipF)" fill="none" stroke-linejoin="round" stroke-linecap="round">
<path d="M103.3,1765.3 L107.8,1764.4 L112.3,1761.3 L116.9,1765.2 L121.4,1764.9 L125.9,1764.2 L130.4,1767.7 L134.9,1764.8 L139.4,1763.8 L144,1762.4 L148.5,1768.5 L153,1766.6 L157.5,1768.5 L162,1762.2 L166.6,1763.3 L171.1,1768.9 L175.6,1760.8 L180.1,1760.9 L184.6,1763.6 L189.1,1763.9 L193.7,1767.9 L198.2,1769.1 L202.7,1764.7 L207.2,1768.8 L211.7,1767.6 L216.3,1767.2 L220.8,1769 L225.3,1765.2 L229.8,1765.5 L234.3,1762 L238.9,1764.8 L243.4,1763.7 L247.9,1764.9 L252.4,1763.5 L256.9,1765.3 L261.4,1766.9 L266,1760.6 L270.5,1760.6 L275,1762 L279.5,1763.1 L284,1766.5 L288.6,1767.3 L293.1,1766.8 L297.6,1768.7 L302.1,1762.6 L306.6,1765.8 L311.1,1761.9 L315.7,1765.9 L320.2,1761 L324.7,1761.9 L329.2,1769.3 L333.7,1767.5 L338.3,1761.4 L342.8,1765.2 L347.3,1760.8 L351.8,1765.8 L356.3,1768.6 L360.8,1763.8 L365.4,1762.5 L369.9,1766.9 L374.4,1768.5 L378.9,1766.4 L383.4,1760.9 L388,1762.7 L392.5,1768.3 L397,1767.1 L401.5,1768.4 L406,1768.8 L410.5,1762.4 L415.1,1767.7 L419.6,1764.4 L424.1,1765.4 L428.6,1767.6 L433.1,1762.9 L437.7,1768.1 L442.2,1763.7 L446.7,1768.3 L451.2,1765.6 L455.7,1767.4 L460.2,1766.9 L464.8,1760.8 L469.3,1762.3 L473.8,1766.6 L478.3,1759 L482.8,1769.6 L487.4,1766.9 L491.9,1759.8 L496.4,1763.3 L500.9,1771.9 L505.4,1758.2 L510,1770.5 L514.5,1770 L519,1762.1 L523.5,1769.1 L528,1769.8 L532.5,1773.3 L537.1,1773 L541.6,1765.2 L546.1,1770.4 L550.6,1764.7 L555.1,1768.1 L559.7,1766.7 L564.2,1758.7 L568.7,1766 L573.2,1764.4 L577.7,1759.6 L582.2,1770.2 L586.8,1770.4 L591.3,1758.5 L595.8,1759.7 L600.3,1768.4 L604.8,1769.2 L609.4,1760.4 L613.9,1757.1 L618.4,1768.6 L622.9,1756.7 L627.4,1757.6 L631.9,1761.9 L636.5,1764.6 L641,1769.5 L645.5,1770.4" stroke="#454b4d" stroke-width="3.2"/>
<path d="M103.3,1760.9 L107.8,1767.2 L112.3,1763.2 L116.9,1767 L121.4,1762.1 L125.9,1764.1 L130.4,1766.7 L134.9,1767.8 L139.4,1763 L144,1768.7 L148.5,1767.3 L153,1764.4 L157.5,1761.9 L162,1763.9 L166.6,1766.8 L171.1,1761.3 L175.6,1767.5 L180.1,1769.1 L184.6,1766.9 L189.1,1765.4 L193.7,1768.8 L198.2,1767.7 L202.7,1766.1 L207.2,1764.3 L211.7,1768.1 L216.3,1766.1 L220.8,1761.5 L225.3,1760.8 L229.8,1763.6 L234.3,1763.3 L238.9,1764.2 L243.4,1768.1 L247.9,1769 L252.4,1769.1 L256.9,1761.4 L261.4,1763.2 L266,1760.9 L270.5,1769.1 L275,1763.8 L279.5,1765.1 L284,1762.9 L288.6,1766.5 L293.1,1760.6 L297.6,1768.6 L302.1,1764.5 L306.6,1762.9 L311.1,1761.5 L315.7,1762.9 L320.2,1763.2 L324.7,1762.4 L329.2,1761.3 L333.7,1766.2 L338.3,1763.3 L342.8,1761.5 L347.3,1761.7 L351.8,1765.7 L356.3,1762.4 L360.8,1761.8 L365.4,1764.3 L369.9,1763.9 L374.4,1766 L378.9,1764.2 L383.4,1764 L388,1768.6 L392.5,1763.7 L397,1760.7 L401.5,1761.6 L406,1763 L410.5,1765.9 L415.1,1762.9 L419.6,1764.2 L424.1,1765.5 L428.6,1762 L433.1,1768.5 L437.7,1762.8 L442.2,1769 L446.7,1764.1 L451.2,1765.1 L455.7,1767.3 L460.2,1763.2 L464.8,1765 L469.3,1763.9 L473.8,1761.3 L478.3,1768.8 L482.8,1772.7 L487.4,1768.3 L491.9,1762.6 L496.4,1770.2 L500.9,1770.8 L505.4,1759.5 L510,1763.5 L514.5,1767.1 L519,1760.2 L523.5,1769.2 L528,1764 L532.5,1771.4 L537.1,1767.7 L541.6,1761.7 L546.1,1759.9 L550.6,1760.3 L555.1,1768 L559.7,1764.7 L564.2,1768.7 L568.7,1771.4 L573.2,1765.6 L577.7,1760.1 L582.2,1759.7 L586.8,1761.7 L591.3,1757.8 L595.8,1768.2 L600.3,1769.7 L604.8,1765.1 L609.4,1767.7 L613.9,1768.5 L618.4,1765.2 L622.9,1761.8 L627.4,1763.7 L631.9,1766.4 L636.5,1758.1 L641,1755.7 L645.5,1763.9" stroke="#ff4b4b" stroke-width="3.2"/>
<path d="M103.3,1768.6 L107.8,1769 L112.3,1761.7 L116.9,1768.9 L121.4,1763.1 L125.9,1764.3 L130.4,1766.6 L134.9,1762.4 L139.4,1769.1 L144,1768.1 L148.5,1765.3 L153,1769.1 L157.5,1762.1 L162,1767.2 L166.6,1768.1 L171.1,1768.9 L175.6,1763.8 L180.1,1765.4 L184.6,1763.8 L189.1,1763.6 L193.7,1762.3 L198.2,1761 L202.7,1763.3 L207.2,1767.5 L211.7,1765.2 L216.3,1767.7 L220.8,1769.2 L225.3,1765.2 L229.8,1763.1 L234.3,1767.7 L238.9,1766.9 L243.4,1766.3 L247.9,1763.2 L252.4,1764.8 L256.9,1763.9 L261.4,1762.7 L266,1765.9 L270.5,1762.4 L275,1761.4 L279.5,1768.5 L284,1761.2 L288.6,1763 L293.1,1768.1 L297.6,1765.3 L302.1,1763.8 L306.6,1761.4 L311.1,1766 L315.7,1764.3 L320.2,1761.6 L324.7,1762.4 L329.2,1761.1 L333.7,1765.3 L338.3,1763.6 L342.8,1767.5 L347.3,1763 L351.8,1762.2 L356.3,1763.7 L360.8,1763 L365.4,1767.4 L369.9,1761.5 L374.4,1760.8 L378.9,1760.8 L383.4,1764.6 L388,1762.4 L392.5,1766.5 L397,1761.4 L401.5,1761.8 L406,1766.3 L410.5,1768.6 L415.1,1765.4 L419.6,1764.5 L424.1,1762.6 L428.6,1765 L433.1,1769 L437.7,1762.3 L442.2,1768.7 L446.7,1762.3 L451.2,1767.8 L455.7,1766.4 L460.2,1762.4 L464.8,1768.1 L469.3,1768 L473.8,1764.8 L478.3,1761.5 L482.8,1759.8 L487.4,1762.2 L491.9,1758.4 L496.4,1765.6 L500.9,1758.7 L505.4,1772.3 L510,1770.4 L514.5,1765.8 L519,1769.6 L523.5,1762.9 L528,1764.4 L532.5,1766.3 L537.1,1761.2 L541.6,1765.6 L546.1,1769.3 L550.6,1768.1 L555.1,1760.7 L559.7,1759.7 L564.2,1770.4 L568.7,1760.2 L573.2,1758.2 L577.7,1765 L582.2,1764.1 L586.8,1769.7 L591.3,1764.3 L595.8,1764.6 L600.3,1762.9 L604.8,1771.7 L609.4,1756.8 L613.9,1763.8 L618.4,1765.4 L622.9,1759 L627.4,1762.6 L631.9,1763.6 L636.5,1760.4 L641,1770.1 L645.5,1762.6" stroke="#0a6fd8" stroke-width="3.2"/>
<path d="M103.3,1765.7 L107.8,1761 L112.3,1761.3 L116.9,1766.9 L121.4,1765.2 L125.9,1768.2 L130.4,1765.5 L134.9,1762.2 L139.4,1761.5 L144,1765.1 L148.5,1766.5 L153,1767.6 L157.5,1763.9 L162,1761.2 L166.6,1768.2 L171.1,1762.5 L175.6,1769.1 L180.1,1767.6 L184.6,1767.3 L189.1,1763.3 L193.7,1766.5 L198.2,1766.2 L202.7,1763.9 L207.2,1768.4 L211.7,1762.9 L216.3,1768.2 L220.8,1764.8 L225.3,1767.1 L229.8,1767.6 L234.3,1764.7 L238.9,1765.5 L243.4,1766 L247.9,1765.7 L252.4,1764.7 L256.9,1767.9 L261.4,1767.5 L266,1763.8 L270.5,1763.7 L275,1764.7 L279.5,1761.9 L284,1764 L288.6,1761.8 L293.1,1767.3 L297.6,1762.8 L302.1,1762.2 L306.6,1761.4 L311.1,1766.5 L315.7,1766.5 L320.2,1761.3 L324.7,1767.4 L329.2,1760.6 L333.7,1761.6 L338.3,1768.1 L342.8,1767.2 L347.3,1763 L351.8,1767 L356.3,1768.4 L360.8,1762.1 L365.4,1765.6 L369.9,1762.4 L374.4,1768.2 L378.9,1765.8 L383.4,1763.3 L388,1769.1 L392.5,1767.5 L397,1763.4 L401.5,1761.4 L406,1760.9 L410.5,1768.3 L415.1,1764.9 L419.6,1762.7 L424.1,1764.9 L428.6,1763.3 L433.1,1767.6 L437.7,1768.7 L442.2,1768.4 L446.7,1769 L451.2,1764.5 L455.7,1764.8 L460.2,1764.3 L464.8,1768 L469.3,1767.7 L473.8,1767.5 L478.3,1759.7 L482.8,1757.4 L487.4,1758.5 L491.9,1771.7 L496.4,1772.3 L500.9,1758.6 L505.4,1766.4 L510,1761.9 L514.5,1768.9 L519,1766.9 L523.5,1766.2 L528,1767.7 L532.5,1765.1 L537.1,1774.2 L541.6,1763.4 L546.1,1761 L550.6,1771.3 L555.1,1766.9 L559.7,1762.3 L564.2,1767.3 L568.7,1770.5 L573.2,1770.8 L577.7,1765.2 L582.2,1772.8 L586.8,1758.9 L591.3,1760.1 L595.8,1761.5 L600.3,1758.9 L604.8,1762.3 L609.4,1765.7 L613.9,1762.5 L618.4,1763.8 L622.9,1756.2 L627.4,1758.8 L631.9,1767.3 L636.5,1756.9 L641,1759.5 L645.5,1758.9" stroke="#00a072" stroke-width="3.2"/>
<path d="M103.3,1762.2 L107.8,1765.8 L112.3,1761.5 L116.9,1761.6 L121.4,1763.2 L125.9,1762.6 L130.4,1762.6 L134.9,1765.8 L139.4,1763 L144,1768.7 L148.5,1766.3 L153,1765.2 L157.5,1769.2 L162,1766.2 L166.6,1763.7 L171.1,1763.9 L175.6,1767.3 L180.1,1761.1 L184.6,1763.5 L189.1,1766.3 L193.7,1763.5 L198.2,1764.3 L202.7,1764.6 L207.2,1765.9 L211.7,1760.6 L216.3,1763.7 L220.8,1763.2 L225.3,1762.7 L229.8,1760.8 L234.3,1769.1 L238.9,1763.9 L243.4,1762.9 L247.9,1767 L252.4,1765.8 L256.9,1768.8 L261.4,1767.6 L266,1766 L270.5,1768.4 L275,1767.1 L279.5,1761.4 L284,1764.5 L288.6,1764.9 L293.1,1760.9 L297.6,1764.3 L302.1,1760.6 L306.6,1763.7 L311.1,1762.2 L315.7,1768.6 L320.2,1764.1 L324.7,1762.7 L329.2,1768.9 L333.7,1761.2 L338.3,1767.9 L342.8,1765.2 L347.3,1767.8 L351.8,1765 L356.3,1764 L360.8,1768.8 L365.4,1761.1 L369.9,1765.6 L374.4,1764.7 L378.9,1764.1 L383.4,1766.1 L388,1766.8 L392.5,1763.6 L397,1764.4 L401.5,1766.8 L406,1763.1 L410.5,1766.7 L415.1,1769.2 L419.6,1767.1 L424.1,1768.9 L428.6,1767.9 L433.1,1762.7 L437.7,1765.9 L442.2,1761.5 L446.7,1762.8 L451.2,1768.8 L455.7,1760.7 L460.2,1761.1 L464.8,1768.6 L469.3,1761.4 L473.8,1765.5 L478.3,1765.3 L482.8,1757.7 L487.4,1769.2 L491.9,1765 L496.4,1758.7 L500.9,1762.2 L505.4,1766.3 L510,1758.5 L514.5,1761.2 L519,1764.7 L523.5,1772.5 L528,1764.6 L532.5,1767.4 L537.1,1771.2 L541.6,1773.5 L546.1,1766 L550.6,1772.1 L555.1,1767 L559.7,1763.4 L564.2,1766.5 L568.7,1769.4 L573.2,1764.2 L577.7,1766.6 L582.2,1760.9 L586.8,1764.5 L591.3,1757.1 L595.8,1757.6 L600.3,1760.8 L604.8,1768.4 L609.4,1770.2 L613.9,1757.9 L618.4,1759.4 L622.9,1761.8 L627.4,1765.8 L631.9,1767 L636.5,1760.5 L641,1762.3 L645.5,1761.8" stroke="#b47fe0" stroke-width="3.2"/>
<path d="M103.3,1748.5 L107.8,1747.6 L112.3,1751.1 L116.9,1750.6 L121.4,1745.9 L125.9,1746.1 L130.4,1746.2 L134.9,1751.3 L139.4,1751 L144,1749.5 L148.5,1748.3 L153,1746.9 L157.5,1750 L162,1747.1 L166.6,1749.8 L171.1,1749.5 L175.6,1745.7 L180.1,1746.3 L184.6,1745.6 L189.1,1747.1 L193.7,1746.3 L198.2,1747.9 L202.7,1746.9 L207.2,1744.3 L211.7,1743.8 L216.3,1748.7 L220.8,1748.5 L225.3,1744.3 L229.8,1745.6 L234.3,1744.9 L238.9,1748.5 L243.4,1747.4 L247.9,1748.6 L252.4,1745.3 L256.9,1748.3 L261.4,1746.7 L266,1744.8 L270.5,1749.1 L275,1747.9 L279.5,1746.8 L284,1745.9 L288.6,1749.2 L293.1,1749.7 L297.6,1751.5 L302.1,1746.8 L306.6,1751.9 L311.1,1751.9 L315.7,1749.3 L320.2,1750.3 L324.7,1749.7 L329.2,1752.8 L333.7,1750.6 L338.3,1755.7 L342.8,1755.6 L347.3,1753.5 L351.8,1757.8 L356.3,1757 L360.8,1754.8 L365.4,1755.3 L369.9,1758.4 L374.4,1760 L378.9,1759.4 L383.4,1757.9 L388,1761 L392.5,1763.3 L397,1760.4 L401.5,1761.9 L406,1760.3 L410.5,1760.7 L415.1,1762.1 L419.6,1766.7 L424.1,1766.4 L428.6,1771.7 L433.1,1773.9 L437.7,1775.7 L442.2,1774.7 L446.7,1777.2 L451.2,1783.2 L455.7,1784.3 L460.2,1785.8 L464.8,1786.8 L469.3,1787.9 L473.8,1789.6 L478.3,1792.6 L482.8,1792.2 L487.4,1792.5 L491.9,1795.5 L496.4,1794 L500.9,1795.3 L505.4,1797.3 L510,1793.2 L514.5,1791.9 L519,1795.1 L523.5,1796.3 L528,1792.8 L532.5,1792.2 L537.1,1790.6 L541.6,1786.2 L546.1,1786 L550.6,1782.7 L555.1,1785.1 L559.7,1780.2 L564.2,1777.3 L568.7,1780.1 L573.2,1777.6 L577.7,1770.3 L582.2,1762.9 L586.8,1770.7 L591.3,1760 L595.8,1764.2 L600.3,1754.4 L604.8,1754.1 L609.4,1757.5 L613.9,1755.9 L618.4,1747.4 L622.9,1750.5 L627.4,1746.8 L631.9,1751.6 L636.5,1752 L641,1743.1 L645.5,1746.9" stroke="#ff7212" stroke-width="3.4"/>
<path d="M103.3,1742.4 L107.8,1741.7 L112.3,1739.8 L116.9,1739.3 L121.4,1737.1 L125.9,1739.8 L130.4,1736 L134.9,1736.2 L139.4,1734 L144,1733.5 L148.5,1732.4 L153,1731.3 L157.5,1730.1 L162,1731.7 L166.6,1732 L171.1,1730.5 L175.6,1729.9 L180.1,1732.6 L184.6,1732.6 L189.1,1734.6 L193.7,1730.5 L198.2,1728.8 L202.7,1733.1 L207.2,1734.6 L211.7,1734.5 L216.3,1733 L220.8,1734 L225.3,1729.3 L229.8,1735.7 L234.3,1734.1 L238.9,1735.5 L243.4,1731.8 L247.9,1731 L252.4,1735.2 L256.9,1736.1 L261.4,1733.4 L266,1732.6 L270.5,1730.4 L275,1736.5 L279.5,1736.1 L284,1735.6 L288.6,1735.5 L293.1,1735.4 L297.6,1732.1 L302.1,1733 L306.6,1735.6 L311.1,1735.9 L315.7,1735.8 L320.2,1737.5 L324.7,1734.5 L329.2,1738.7 L333.7,1737.9 L338.3,1736.7 L342.8,1740.3 L347.3,1743.6 L351.8,1741.3 L356.3,1743.5 L360.8,1749.9 L365.4,1750.8 L369.9,1750.1 L374.4,1755.1 L378.9,1758.2 L383.4,1760.1 L388,1754.9 L392.5,1757.2 L397,1761.3 L401.5,1761.5 L406,1762.6 L410.5,1765.4 L415.1,1764.3 L419.6,1771.9 L424.1,1780.8 L428.6,1788.4 L433.1,1790.6 L437.7,1795.6 L442.2,1794.6 L446.7,1796.4 L451.2,1798.7 L455.7,1803.6 L460.2,1805.5 L464.8,1806.3 L469.3,1808.5 L473.8,1805.8 L478.3,1809.5 L482.8,1809.3 L487.4,1807.4 L491.9,1813.1 L496.4,1811.9 L500.9,1815.3 L505.4,1811.5 L510,1816.6 L514.5,1809.7 L519,1808.1 L523.5,1806.5 L528,1809.9 L532.5,1807 L537.1,1802.6 L541.6,1805.9 L546.1,1802 L550.6,1800.3 L555.1,1794.8 L559.7,1795.2 L564.2,1791.5 L568.7,1794.1 L573.2,1788.7 L577.7,1788.3 L582.2,1777.9 L586.8,1786.7 L591.3,1771.8 L595.8,1778 L600.3,1770.4 L604.8,1769.5 L609.4,1774.6 L613.9,1763.6 L618.4,1770.7 L622.9,1769.8 L627.4,1772.5 L631.9,1768.1 L636.5,1764.8 L641,1760.4 L645.5,1765.3" stroke="#8a9100" stroke-width="3.4"/>
<path d="M103.3,1707.2 L107.8,1714.1 L112.3,1716 L116.9,1718.3 L121.4,1711.1 L125.9,1706.6 L130.4,1701.7 L134.9,1700.4 L139.4,1693.6 L144,1690.5 L148.5,1693.7 L153,1691.3 L157.5,1692 L162,1694.9 L166.6,1688 L171.1,1689.2 L175.6,1693.2 L180.1,1690.2 L184.6,1692.3 L189.1,1691.6 L193.7,1690.3 L198.2,1691.9 L202.7,1691.5 L207.2,1691.1 L211.7,1688.3 L216.3,1690.3 L220.8,1691.2 L225.3,1688.2 L229.8,1691.8 L234.3,1688.4 L238.9,1691.9 L243.4,1691.7 L247.9,1695.2 L252.4,1692.5 L256.9,1698.1 L261.4,1698.1 L266,1698.8 L270.5,1695.2 L275,1695.5 L279.5,1699.7 L284,1698.6 L288.6,1696.1 L293.1,1698.1 L297.6,1702 L302.1,1701.8 L306.6,1703.4 L311.1,1704.9 L315.7,1704.2 L320.2,1707.5 L324.7,1702.5 L329.2,1707.9 L333.7,1710 L338.3,1712.1 L342.8,1714.6 L347.3,1717.4 L351.8,1723.2 L356.3,1725.7 L360.8,1727.2 L365.4,1733.6 L369.9,1735.5 L374.4,1738.4 L378.9,1741.1 L383.4,1746.1 L388,1749.2 L392.5,1752.6 L397,1760.5 L401.5,1762.2 L406,1765.4 L410.5,1765.9 L415.1,1775.8 L419.6,1781.9 L424.1,1789.1 L428.6,1793.2 L433.1,1797 L437.7,1804.7 L442.2,1815.1 L446.7,1818 L451.2,1822.7 L455.7,1827.5 L460.2,1829.9 L464.8,1830.2 L469.3,1834.1 L473.8,1831.5 L478.3,1830.6 L482.8,1834.1 L487.4,1832.4 L491.9,1831 L496.4,1834.9 L500.9,1829.1 L505.4,1830.8 L510,1833.3 L514.5,1833.8 L519,1830.7 L523.5,1825.5 L528,1821.4 L532.5,1820.8 L537.1,1814.4 L541.6,1816.5 L546.1,1813 L550.6,1811.8 L555.1,1802.4 L559.7,1805 L564.2,1797.3 L568.7,1797.9 L573.2,1795 L577.7,1791.5 L582.2,1791.9 L586.8,1778.5 L591.3,1774.2 L595.8,1774.8 L600.3,1776.2 L604.8,1780.8 L609.4,1766.9 L613.9,1771.7 L618.4,1759 L622.9,1766.2 L627.4,1759 L631.9,1754.1 L636.5,1762.9 L641,1756.3 L645.5,1762.7" stroke="#834a4a" stroke-width="3.4"/>
<path d="M103.3,1667.2 L107.8,1674.9 L112.3,1666.7 L116.9,1662.5 L121.4,1658.9 L125.9,1655.8 L130.4,1649 L134.9,1645.4 L139.4,1646.7 L144,1644 L148.5,1641.1 L153,1644.3 L157.5,1641.4 L162,1637.9 L166.6,1638.4 L171.1,1635.5 L175.6,1633.4 L180.1,1635.6 L184.6,1633.1 L189.1,1634.2 L193.7,1631.8 L198.2,1632.9 L202.7,1630.6 L207.2,1634.3 L211.7,1631.3 L216.3,1635.8 L220.8,1632.1 L225.3,1636 L229.8,1638.4 L234.3,1640.4 L238.9,1640.5 L243.4,1641.4 L247.9,1642 L252.4,1642.8 L256.9,1645.4 L261.4,1643.5 L266,1646 L270.5,1647.5 L275,1652 L279.5,1653.6 L284,1654.5 L288.6,1654.1 L293.1,1657.9 L297.6,1659.2 L302.1,1660.8 L306.6,1659.3 L311.1,1666.1 L315.7,1671.8 L320.2,1671.9 L324.7,1674.9 L329.2,1679.1 L333.7,1682.6 L338.3,1686.2 L342.8,1694.8 L347.3,1699.6 L351.8,1709.5 L356.3,1715.5 L360.8,1718.7 L365.4,1722 L369.9,1726.7 L374.4,1734.6 L378.9,1737.4 L383.4,1745.7 L388,1754.6 L392.5,1760.5 L397,1764.9 L401.5,1769.6 L406,1776.4 L410.5,1778.4 L415.1,1786.1 L419.6,1796 L424.1,1801.7 L428.6,1809.7 L433.1,1810.4 L437.7,1818.5 L442.2,1820.6 L446.7,1827.3 L451.2,1830.1 L455.7,1838.9 L460.2,1836.5 L464.8,1843.4 L469.3,1844.1 L473.8,1844.7 L478.3,1853.2 L482.8,1852.5 L487.4,1852.4 L491.9,1852.6 L496.4,1854.5 L500.9,1849.6 L505.4,1850.4 L510,1853.2 L514.5,1852.6 L519,1849.5 L523.5,1850.8 L528,1848.6 L532.5,1840.8 L537.1,1842.3 L541.6,1839.1 L546.1,1834.8 L550.6,1832.8 L555.1,1832.5 L559.7,1829.8 L564.2,1824.3 L568.7,1815.4 L573.2,1810.8 L577.7,1811.3 L582.2,1802 L586.8,1805.8 L591.3,1800 L595.8,1799.4 L600.3,1784.9 L604.8,1779.2 L609.4,1787.3 L613.9,1776.9 L618.4,1776.6 L622.9,1761 L627.4,1767.2 L631.9,1751.6 L636.5,1737.6 L641,1757.6 L645.5,1752.5" stroke="#00cfd0" stroke-width="4.2"/>
<path d="M103.3,1624.3 L107.8,1628.9 L112.3,1636.7 L116.9,1627.4 L121.4,1618.1 L125.9,1613.5 L130.4,1608.3 L134.9,1600.8 L139.4,1597.5 L144,1592.9 L148.5,1594.9 L153,1593 L157.5,1590.6 L162,1585.7 L166.6,1583.8 L171.1,1586.4 L175.6,1583.4 L180.1,1580.8 L184.6,1582.2 L189.1,1584.2 L193.7,1583.1 L198.2,1578.5 L202.7,1581.1 L207.2,1584.9 L211.7,1582.9 L216.3,1588.1 L220.8,1582.2 L225.3,1587.3 L229.8,1587.5 L234.3,1588.2 L238.9,1592.6 L243.4,1588.8 L247.9,1592.3 L252.4,1594 L256.9,1591.5 L261.4,1598.9 L266,1599.5 L270.5,1598.1 L275,1604.1 L279.5,1605.9 L284,1605.8 L288.6,1610.3 L293.1,1606.3 L297.6,1606.7 L302.1,1616.8 L306.6,1617.7 L311.1,1620.2 L315.7,1627.8 L320.2,1627.8 L324.7,1633.9 L329.2,1640.2 L333.7,1642.9 L338.3,1648.8 L342.8,1657.9 L347.3,1662 L351.8,1666.3 L356.3,1672.3 L360.8,1679.3 L365.4,1686.1 L369.9,1697.9 L374.4,1709.3 L378.9,1714.3 L383.4,1725.6 L388,1727 L392.5,1739.8 L397,1745.5 L401.5,1757.1 L406,1762.7 L410.5,1765.1 L415.1,1771.8 L419.6,1780.9 L424.1,1795.6 L428.6,1804.3 L433.1,1816 L437.7,1820.7 L442.2,1825.7 L446.7,1834.1 L451.2,1836.1 L455.7,1842.2 L460.2,1850.5 L464.8,1854.9 L469.3,1865.9 L473.8,1870 L478.3,1872.6 L482.8,1871.2 L487.4,1873.7 L491.9,1874.7 L496.4,1875.9 L500.9,1871.5 L505.4,1876.7 L510,1870 L514.5,1872.3 L519,1872.3 L523.5,1870 L528,1873 L532.5,1872.3 L537.1,1869.7 L541.6,1870.9 L546.1,1865.6 L550.6,1858.7 L555.1,1854.1 L559.7,1850.8 L564.2,1843.8 L568.7,1844.5 L573.2,1836 L577.7,1836.8 L582.2,1833.5 L586.8,1830 L591.3,1816.3 L595.8,1810 L600.3,1807.8 L604.8,1813.7 L609.4,1799.9 L613.9,1793.7 L618.4,1792.3 L622.9,1774.5 L627.4,1784 L631.9,1771.3 L636.5,1764.6 L641,1759.5 L645.5,1772.6" stroke="#c9a000" stroke-width="3.4"/>
</g>
<rect x="103.3" y="1502.8" width="542.2" height="436.9" fill="none" stroke="#222" stroke-width="2.8"/>
<line x1="95.8" y1="1502.8" x2="103.3" y2="1502.8" stroke="#222" stroke-width="2.3"/>
<text x="88.5" y="1510.8" font-size="24" fill="#222" font-weight="bold" text-anchor="end" textLength="29" lengthAdjust="spacingAndGlyphs">1.5</text>
<line x1="95.8" y1="1589.6" x2="103.3" y2="1589.6" stroke="#222" stroke-width="2.3"/>
<text x="88.5" y="1597.6" font-size="24" fill="#222" font-weight="bold" text-anchor="end" textLength="29" lengthAdjust="spacingAndGlyphs">1.0</text>
<line x1="95.8" y1="1676.4" x2="103.3" y2="1676.4" stroke="#222" stroke-width="2.3"/>
<text x="88.5" y="1684.4" font-size="24" fill="#222" font-weight="bold" text-anchor="end" textLength="29" lengthAdjust="spacingAndGlyphs">0.5</text>
<line x1="95.8" y1="1763.2" x2="103.3" y2="1763.2" stroke="#222" stroke-width="2.3"/>
<text x="88.5" y="1771.2" font-size="24" fill="#222" font-weight="bold" text-anchor="end" textLength="29" lengthAdjust="spacingAndGlyphs">0.0</text>
<line x1="95.8" y1="1850" x2="103.3" y2="1850" stroke="#222" stroke-width="2.3"/>
<text x="88.5" y="1858" font-size="24" fill="#222" font-weight="bold" text-anchor="end" textLength="44.5" lengthAdjust="spacingAndGlyphs">−0.5</text>
<line x1="95.8" y1="1936.8" x2="103.3" y2="1936.8" stroke="#222" stroke-width="2.3"/>
<text x="88.5" y="1944.8" font-size="24" fill="#222" font-weight="bold" text-anchor="end" textLength="44.5" lengthAdjust="spacingAndGlyphs">−1.0</text>
<line x1="98.8" y1="1546.2" x2="103.3" y2="1546.2" stroke="#222" stroke-width="2.3"/>
<line x1="98.8" y1="1633" x2="103.3" y2="1633" stroke="#222" stroke-width="2.3"/>
<line x1="98.8" y1="1719.8" x2="103.3" y2="1719.8" stroke="#222" stroke-width="2.3"/>
<line x1="98.8" y1="1806.6" x2="103.3" y2="1806.6" stroke="#222" stroke-width="2.3"/>
<line x1="98.8" y1="1893.4" x2="103.3" y2="1893.4" stroke="#222" stroke-width="2.3"/>
<line x1="137.2" y1="1939.7" x2="137.2" y2="1944.2" stroke="#222" stroke-width="2.3"/>
<line x1="193.7" y1="1939.7" x2="193.7" y2="1947.7" stroke="#222" stroke-width="2.3"/>
<text x="193.7" y="1973" font-size="24" fill="#222" font-weight="bold" text-anchor="middle" textLength="36" lengthAdjust="spacingAndGlyphs">900</text>
<line x1="250.1" y1="1939.7" x2="250.1" y2="1944.2" stroke="#222" stroke-width="2.3"/>
<line x1="306.6" y1="1939.7" x2="306.6" y2="1947.7" stroke="#222" stroke-width="2.3"/>
<text x="306.6" y="1973" font-size="24" fill="#222" font-weight="bold" text-anchor="middle" textLength="48" lengthAdjust="spacingAndGlyphs">1000</text>
<line x1="363.1" y1="1939.7" x2="363.1" y2="1944.2" stroke="#222" stroke-width="2.3"/>
<line x1="419.6" y1="1939.7" x2="419.6" y2="1947.7" stroke="#222" stroke-width="2.3"/>
<text x="419.6" y="1973" font-size="24" fill="#222" font-weight="bold" text-anchor="middle" textLength="48" lengthAdjust="spacingAndGlyphs">1100</text>
<line x1="476.1" y1="1939.7" x2="476.1" y2="1944.2" stroke="#222" stroke-width="2.3"/>
<line x1="532.5" y1="1939.7" x2="532.5" y2="1947.7" stroke="#222" stroke-width="2.3"/>
<text x="532.5" y="1973" font-size="24" fill="#222" font-weight="bold" text-anchor="middle" textLength="48" lengthAdjust="spacingAndGlyphs">1200</text>
<line x1="589" y1="1939.7" x2="589" y2="1944.2" stroke="#222" stroke-width="2.3"/>
<line x1="645.5" y1="1939.7" x2="645.5" y2="1947.7" stroke="#222" stroke-width="2.3"/>
<text x="645.5" y="1973" font-size="24" fill="#222" font-weight="bold" text-anchor="middle" textLength="48" lengthAdjust="spacingAndGlyphs">1300</text>
<text x="114" y="1535" font-size="28" fill="#222" font-weight="bold" text-anchor="start" textLength="49.5" lengthAdjust="spacingAndGlyphs">BCS</text>
<text x="188" y="1570" font-size="27" fill="#ff1e1e" font-weight="bold" text-anchor="start" textLength="48" lengthAdjust="spacingAndGlyphs">ESA</text>
<text x="482" y="1910" font-size="26" fill="#ff1e1e" font-weight="bold" text-anchor="start" textLength="53" lengthAdjust="spacingAndGlyphs">GSB</text>
<text x="396" y="2004" font-size="28" fill="#222" font-weight="bold" text-anchor="middle" textLength="197" lengthAdjust="spacingAndGlyphs">Wavelength (nm)</text>
<text x="0" y="0" transform="translate(35,1719.5) rotate(-90)" font-size="26" font-weight="bold" fill="#222" text-anchor="middle" textLength="118" lengthAdjust="spacingAndGlyphs">ΔA (mOD)</text>
<line x1="418.5" y1="1531" x2="462.5" y2="1531" stroke="#454b4d" stroke-width="5" stroke-linecap="round"/>
<text x="467.5" y="1537.5" font-size="19" fill="#1c2a33" font-weight="bold" text-anchor="start" textLength="33" lengthAdjust="spacingAndGlyphs">1 ps</text>
<line x1="418.5" y1="1556.5" x2="462.5" y2="1556.5" stroke="#ff4b4b" stroke-width="5" stroke-linecap="round"/>
<text x="467.5" y="1563" font-size="19" fill="#1c2a33" font-weight="bold" text-anchor="start" textLength="33" lengthAdjust="spacingAndGlyphs">3 ps</text>
<line x1="418.5" y1="1582" x2="462.5" y2="1582" stroke="#0a6fd8" stroke-width="5" stroke-linecap="round"/>
<text x="467.5" y="1588.5" font-size="19" fill="#1c2a33" font-weight="bold" text-anchor="start" textLength="33" lengthAdjust="spacingAndGlyphs">5 ps</text>
<line x1="418.5" y1="1607.5" x2="462.5" y2="1607.5" stroke="#00a072" stroke-width="5" stroke-linecap="round"/>
<text x="467.5" y="1614" font-size="19" fill="#1c2a33" font-weight="bold" text-anchor="start" textLength="33" lengthAdjust="spacingAndGlyphs">7 ps</text>
<line x1="418.5" y1="1633" x2="462.5" y2="1633" stroke="#b47fe0" stroke-width="5" stroke-linecap="round"/>
<text x="467.5" y="1639.5" font-size="19" fill="#1c2a33" font-weight="bold" text-anchor="start" textLength="44" lengthAdjust="spacingAndGlyphs">10 ps</text>
<line x1="532" y1="1531" x2="577" y2="1531" stroke="#c9a000" stroke-width="5" stroke-linecap="round"/>
<text x="581.5" y="1537.5" font-size="19" fill="#1c2a33" font-weight="bold" text-anchor="start" textLength="54" lengthAdjust="spacingAndGlyphs">100 ps</text>
<line x1="532" y1="1556.5" x2="577" y2="1556.5" stroke="#00cfd0" stroke-width="5" stroke-linecap="round"/>
<text x="581.5" y="1563" font-size="19" fill="#1c2a33" font-weight="bold" text-anchor="start" textLength="54" lengthAdjust="spacingAndGlyphs">300 ps</text>
<line x1="532" y1="1582" x2="577" y2="1582" stroke="#834a4a" stroke-width="5" stroke-linecap="round"/>
<text x="581.5" y="1588.5" font-size="19" fill="#1c2a33" font-weight="bold" text-anchor="start" textLength="33" lengthAdjust="spacingAndGlyphs">1 ns</text>
<line x1="532" y1="1607.5" x2="577" y2="1607.5" stroke="#8a9100" stroke-width="5" stroke-linecap="round"/>
<text x="581.5" y="1614" font-size="19" fill="#1c2a33" font-weight="bold" text-anchor="start" textLength="33" lengthAdjust="spacingAndGlyphs">3 ns</text>
<line x1="532" y1="1633" x2="577" y2="1633" stroke="#ff7212" stroke-width="5" stroke-linecap="round"/>
<text x="581.5" y="1639.5" font-size="19" fill="#1c2a33" font-weight="bold" text-anchor="start" textLength="33" lengthAdjust="spacingAndGlyphs">5 ns</text>
<rect x="764.3" y="1505.9" width="305" height="425.4" fill="#fdf2d6"/>
<rect x="1069.3" y="1501.4" width="223.5" height="429.9" fill="#deecf7"/>
<g clip-path="url(#clipG)" fill="none" stroke-linejoin="round" stroke-linecap="round">
<path d="M756.3,1811.6 L760.2,1807.3 L764.1,1817.7 L768,1814.8 L771.9,1805.2 L775.9,1816.2 L779.8,1812.5 L783.7,1813.9 L787.6,1812.1 L791.5,1817.2 L795.4,1817.8 L799.3,1803.6 L803.2,1807.1 L807.2,1807.5 L811.1,1814.9 L815,1814.6 L818.9,1810.2 L822.8,1814.8 L826.7,1811.5 L830.6,1804.6 L834.5,1813 L838.5,1813.4 L842.4,1803.9 L846.3,1809.3 L850.2,1817.7 L854.1,1812.4 L858,1808.7 L861.9,1817.5 L865.8,1813.3 L869.7,1808.1 L873.7,1805.6 L877.6,1809.6 L881.5,1805.3 L885.4,1811.5 L889.3,1812.5 L893.2,1805.9 L897.1,1812.7 L901,1806.8 L905,1815.2 L908.9,1813.2 L912.8,1815.6 L916.7,1810.2 L920.6,1815.9 L924.5,1815.3 L928.4,1815.2 L932.3,1811.4 L936.3,1813.8 L940.2,1811.7 L944.1,1803.7 L948,1808.3 L951.9,1805.6 L955.8,1815.3 L959.7,1812.7 L963.6,1817.3 L967.5,1808.1 L971.5,1813 L975.4,1814.3 L979.3,1818.1 L983.2,1815.6 L987.1,1814.5 L991,1812.5 L994.9,1804.7 L998.8,1807.8 L1002.8,1814.4 L1006.7,1813 L1010.6,1816.1 L1014.5,1804.5 L1018.4,1813 L1022.3,1807 L1026.2,1807.7 L1030.1,1805 L1034.1,1818 L1038,1813.6 L1041.9,1812.7 L1045.8,1817.1 L1049.7,1805.3 L1053.6,1813.5 L1057.5,1807 L1061.4,1810.7 L1065.3,1817.5 L1069.3,1812.5 L1073.2,1815.2 L1077.1,1818.7 L1081,1817.7 L1084.9,1811.9 L1088.8,1821 L1092.7,1817.7 L1096.6,1816.9 L1100.6,1816 L1104.5,1822.8 L1108.4,1815.2 L1112.3,1822.5 L1116.2,1812.5 L1120.1,1814.9 L1124,1831.9 L1127.9,1830.5 L1131.8,1828.7 L1135.8,1815.7 L1139.7,1826.4 L1143.6,1827.9 L1147.5,1813.4 L1151.4,1834.6 L1155.3,1833.2 L1159.2,1831.8 L1163.1,1835.5 L1167.1,1840.4 L1171,1840.1 L1174.9,1819.9 L1178.8,1821.1 L1182.7,1812.4 L1186.6,1806.1 L1190.5,1826.9 L1194.4,1814.2 L1198.4,1805.6 L1202.3,1827.5 L1206.2,1811.7 L1210.1,1811.3 L1214,1800.8 L1217.9,1802 L1221.8,1820.6 L1225.7,1806.1 L1229.6,1821.7 L1233.6,1809.2 L1237.5,1808.8 L1241.4,1818.1 L1245.3,1806.7 L1249.2,1807.9 L1253.1,1802.9 L1257,1810.3 L1260.9,1814.8 L1264.9,1807.6 L1268.8,1805.9 L1272.7,1816.5 L1276.6,1801.2 L1280.5,1815.4 L1284.4,1820.6 L1288.3,1813.2 L1292.2,1810.9" stroke="#454b4d" stroke-width="3.2"/>
<path d="M756.3,1816.1 L760.2,1809.7 L764.1,1808 L768,1810.2 L771.9,1808 L775.9,1818 L779.8,1812.6 L783.7,1813 L787.6,1817.4 L791.5,1812.4 L795.4,1817.5 L799.3,1811 L803.2,1809.7 L807.2,1811.4 L811.1,1813.5 L815,1814.6 L818.9,1818 L822.8,1813.2 L826.7,1805.2 L830.6,1810 L834.5,1814.5 L838.5,1808.5 L842.4,1815.6 L846.3,1811.4 L850.2,1809.3 L854.1,1804.3 L858,1813 L861.9,1809.8 L865.8,1804.4 L869.7,1807 L873.7,1809.1 L877.6,1809.2 L881.5,1812.3 L885.4,1812.2 L889.3,1814.3 L893.2,1806.1 L897.1,1805.4 L901,1812.7 L905,1804.9 L908.9,1817.8 L912.8,1816.3 L916.7,1810.9 L920.6,1813.8 L924.5,1813 L928.4,1803.9 L932.3,1816.1 L936.3,1815.5 L940.2,1815 L944.1,1808.3 L948,1814.9 L951.9,1818.3 L955.8,1810.3 L959.7,1812.5 L963.6,1814.8 L967.5,1811.1 L971.5,1808.7 L975.4,1810.2 L979.3,1809.1 L983.2,1810.1 L987.1,1806.1 L991,1804 L994.9,1813.4 L998.8,1813.2 L1002.8,1805.3 L1006.7,1813.7 L1010.6,1807.8 L1014.5,1808.1 L1018.4,1808.2 L1022.3,1804.1 L1026.2,1806.2 L1030.1,1816 L1034.1,1809.2 L1038,1811.1 L1041.9,1810 L1045.8,1812.9 L1049.7,1814.1 L1053.6,1807.3 L1057.5,1810.5 L1061.4,1814.8 L1065.3,1814.7 L1069.3,1813.5 L1073.2,1816.1 L1077.1,1811.7 L1081,1818.1 L1084.9,1819.7 L1088.8,1820.4 L1092.7,1820.8 L1096.6,1812.7 L1100.6,1822.3 L1104.5,1818.2 L1108.4,1814.2 L1112.3,1819.3 L1116.2,1830.4 L1120.1,1808.5 L1124,1808.9 L1127.9,1835.4 L1131.8,1829.6 L1135.8,1822.2 L1139.7,1813.9 L1143.6,1827.7 L1147.5,1818.2 L1151.4,1833.8 L1155.3,1819.6 L1159.2,1832.4 L1163.1,1831.7 L1167.1,1817.4 L1171,1814 L1174.9,1813.6 L1178.8,1821 L1182.7,1824.8 L1186.6,1814.7 L1190.5,1816.5 L1194.4,1809.1 L1198.4,1809.3 L1202.3,1830.4 L1206.2,1821.7 L1210.1,1811.2 L1214,1823.9 L1217.9,1823.8 L1221.8,1827.6 L1225.7,1807.6 L1229.6,1794.5 L1233.6,1791.9 L1237.5,1817.1 L1241.4,1798.1 L1245.3,1805.5 L1249.2,1798.2 L1253.1,1806.1 L1257,1789.5 L1260.9,1788.2 L1264.9,1818.9 L1268.8,1798.3 L1272.7,1818 L1276.6,1821.1 L1280.5,1813.9 L1284.4,1800.3 L1288.3,1792.3 L1292.2,1820.6" stroke="#ff4b4b" stroke-width="3.2"/>
<path d="M756.3,1813.5 L760.2,1817.9 L764.1,1810.3 L768,1811.2 L771.9,1812.8 L775.9,1813.8 L779.8,1806.5 L783.7,1806 L787.6,1814.1 L791.5,1812.6 L795.4,1809.2 L799.3,1807 L803.2,1803.9 L807.2,1812.6 L811.1,1808.1 L815,1810.3 L818.9,1806.5 L822.8,1816.2 L826.7,1815.7 L830.6,1816.7 L834.5,1804.6 L838.5,1814.6 L842.4,1811.1 L846.3,1816.6 L850.2,1813.6 L854.1,1818 L858,1810 L861.9,1816.2 L865.8,1809.1 L869.7,1814.3 L873.7,1815 L877.6,1811.2 L881.5,1812.9 L885.4,1814.5 L889.3,1817.6 L893.2,1817.4 L897.1,1805.2 L901,1813.8 L905,1817.2 L908.9,1815.6 L912.8,1811.2 L916.7,1803.6 L920.6,1815.3 L924.5,1805.5 L928.4,1811.2 L932.3,1812.2 L936.3,1806.4 L940.2,1812.5 L944.1,1817.5 L948,1810.2 L951.9,1808.6 L955.8,1809.1 L959.7,1814.2 L963.6,1804.5 L967.5,1805.6 L971.5,1803.7 L975.4,1811.8 L979.3,1806 L983.2,1807.6 L987.1,1815.7 L991,1817.9 L994.9,1815.8 L998.8,1816.6 L1002.8,1817.2 L1006.7,1813 L1010.6,1807.2 L1014.5,1813.8 L1018.4,1810.7 L1022.3,1818.2 L1026.2,1815.2 L1030.1,1804.2 L1034.1,1818.2 L1038,1810.6 L1041.9,1806.4 L1045.8,1806.6 L1049.7,1807.5 L1053.6,1812.4 L1057.5,1806.5 L1061.4,1806.1 L1065.3,1807 L1069.3,1803.8 L1073.2,1817.3 L1077.1,1805.3 L1081,1814 L1084.9,1810.2 L1088.8,1817.7 L1092.7,1808.9 L1096.6,1822.8 L1100.6,1815.5 L1104.5,1821.5 L1108.4,1819.9 L1112.3,1820.9 L1116.2,1814.6 L1120.1,1810.3 L1124,1825 L1127.9,1816.7 L1131.8,1826.4 L1135.8,1829.5 L1139.7,1810.4 L1143.6,1829.9 L1147.5,1838.1 L1151.4,1831.2 L1155.3,1818.8 L1159.2,1836.1 L1163.1,1818.6 L1167.1,1824.2 L1171,1819.2 L1174.9,1834.4 L1178.8,1835.8 L1182.7,1833.6 L1186.6,1826.1 L1190.5,1822.6 L1194.4,1835.3 L1198.4,1818.9 L1202.3,1821.5 L1206.2,1823.4 L1210.1,1815.5 L1214,1800.8 L1217.9,1823.2 L1221.8,1799.9 L1225.7,1816.1 L1229.6,1800.5 L1233.6,1819.4 L1237.5,1789.8 L1241.4,1806.3 L1245.3,1788.2 L1249.2,1811.4 L1253.1,1805.7 L1257,1796.7 L1260.9,1814.1 L1264.9,1811.7 L1268.8,1799.5 L1272.7,1791.5 L1276.6,1812.1 L1280.5,1817.2 L1284.4,1812.2 L1288.3,1792.5 L1292.2,1819.7" stroke="#0a6fd8" stroke-width="3.2"/>
<path d="M756.3,1809 L760.2,1812.8 L764.1,1808.8 L768,1815.2 L771.9,1809.2 L775.9,1805.2 L779.8,1805.7 L783.7,1809.1 L787.6,1810.9 L791.5,1810 L795.4,1816.6 L799.3,1806 L803.2,1808.2 L807.2,1811.6 L811.1,1808.5 L815,1812.1 L818.9,1812.7 L822.8,1814.9 L826.7,1809.5 L830.6,1809.9 L834.5,1810.7 L838.5,1817.9 L842.4,1809.1 L846.3,1811.7 L850.2,1809.6 L854.1,1809.6 L858,1804.6 L861.9,1816.1 L865.8,1811.4 L869.7,1803.7 L873.7,1807.4 L877.6,1813.7 L881.5,1807.5 L885.4,1803.7 L889.3,1812.4 L893.2,1805.5 L897.1,1816.5 L901,1803.7 L905,1811.1 L908.9,1814.9 L912.8,1805.9 L916.7,1808.8 L920.6,1804.5 L924.5,1806.1 L928.4,1806.6 L932.3,1810.8 L936.3,1803.7 L940.2,1817.4 L944.1,1805.5 L948,1807.8 L951.9,1814.6 L955.8,1806.4 L959.7,1811.6 L963.6,1810.4 L967.5,1805.6 L971.5,1815.4 L975.4,1814.2 L979.3,1808.8 L983.2,1817.2 L987.1,1810.1 L991,1806.7 L994.9,1811.1 L998.8,1814.8 L1002.8,1806.5 L1006.7,1805.7 L1010.6,1807 L1014.5,1810.2 L1018.4,1805 L1022.3,1806.6 L1026.2,1816.1 L1030.1,1812.9 L1034.1,1816.8 L1038,1817.8 L1041.9,1813.2 L1045.8,1805.6 L1049.7,1806 L1053.6,1816.6 L1057.5,1815.6 L1061.4,1812.6 L1065.3,1805.8 L1069.3,1809.2 L1073.2,1805.4 L1077.1,1818.2 L1081,1805.4 L1084.9,1817.6 L1088.8,1812.2 L1092.7,1809.3 L1096.6,1812.4 L1100.6,1821.1 L1104.5,1815 L1108.4,1819.3 L1112.3,1826.1 L1116.2,1824.8 L1120.1,1826.1 L1124,1816.5 L1127.9,1828.2 L1131.8,1818.4 L1135.8,1816.3 L1139.7,1833.5 L1143.6,1836.1 L1147.5,1818.9 L1151.4,1827 L1155.3,1838.4 L1159.2,1839.1 L1163.1,1812.3 L1167.1,1822.2 L1171,1829.5 L1174.9,1833.8 L1178.8,1807.4 L1182.7,1816.1 L1186.6,1813.8 L1190.5,1824.9 L1194.4,1825.7 L1198.4,1821.9 L1202.3,1829.7 L1206.2,1813.5 L1210.1,1819 L1214,1805.1 L1217.9,1816.7 L1221.8,1813.5 L1225.7,1810.1 L1229.6,1794.5 L1233.6,1811.8 L1237.5,1798.9 L1241.4,1812.5 L1245.3,1800.4 L1249.2,1809.3 L1253.1,1790.9 L1257,1810.1 L1260.9,1792.5 L1264.9,1798.8 L1268.8,1806.6 L1272.7,1792 L1276.6,1810.1 L1280.5,1799.3 L1284.4,1804.4 L1288.3,1809.8 L1292.2,1822.4" stroke="#00a072" stroke-width="3.2"/>
<path d="M756.3,1812.1 L760.2,1814.2 L764.1,1811.8 L768,1804.3 L771.9,1814 L775.9,1808.1 L779.8,1808.4 L783.7,1814.7 L787.6,1812.3 L791.5,1816.4 L795.4,1805.1 L799.3,1814.6 L803.2,1812.1 L807.2,1813.3 L811.1,1806.2 L815,1805.8 L818.9,1809.6 L822.8,1810.3 L826.7,1816.9 L830.6,1805.1 L834.5,1817 L838.5,1813 L842.4,1812.8 L846.3,1807.7 L850.2,1808.5 L854.1,1813.3 L858,1805.1 L861.9,1804.3 L865.8,1818 L869.7,1809 L873.7,1811.4 L877.6,1813 L881.5,1811.5 L885.4,1813.7 L889.3,1808.4 L893.2,1809.4 L897.1,1804 L901,1803.9 L905,1803.7 L908.9,1812.5 L912.8,1806.1 L916.7,1808.7 L920.6,1808 L924.5,1803.6 L928.4,1817.3 L932.3,1811.5 L936.3,1812.4 L940.2,1808.7 L944.1,1815.1 L948,1803.7 L951.9,1815.2 L955.8,1812.9 L959.7,1816.2 L963.6,1812.5 L967.5,1807.4 L971.5,1817.1 L975.4,1815.9 L979.3,1808.8 L983.2,1809.1 L987.1,1807.4 L991,1814.6 L994.9,1806.4 L998.8,1807.6 L1002.8,1806.9 L1006.7,1816.6 L1010.6,1811.4 L1014.5,1818.1 L1018.4,1805.7 L1022.3,1804.4 L1026.2,1805.1 L1030.1,1818 L1034.1,1813.2 L1038,1810.4 L1041.9,1810.5 L1045.8,1816.7 L1049.7,1806.7 L1053.6,1813.9 L1057.5,1810.8 L1061.4,1816.5 L1065.3,1810 L1069.3,1816.4 L1073.2,1817.4 L1077.1,1811.7 L1081,1815.6 L1084.9,1809.2 L1088.8,1817.8 L1092.7,1816.2 L1096.6,1822.3 L1100.6,1820.8 L1104.5,1818.2 L1108.4,1817.4 L1112.3,1819.6 L1116.2,1808.5 L1120.1,1832.9 L1124,1809.5 L1127.9,1832.1 L1131.8,1806.7 L1135.8,1821.7 L1139.7,1826.3 L1143.6,1820.7 L1147.5,1813.5 L1151.4,1811.1 L1155.3,1829.3 L1159.2,1842.5 L1163.1,1837.4 L1167.1,1815.6 L1171,1817.5 L1174.9,1817.3 L1178.8,1834.1 L1182.7,1821.2 L1186.6,1836.4 L1190.5,1832.9 L1194.4,1826 L1198.4,1804.1 L1202.3,1813.9 L1206.2,1806.6 L1210.1,1831.1 L1214,1818 L1217.9,1827.2 L1221.8,1819.7 L1225.7,1822.7 L1229.6,1795.2 L1233.6,1812.4 L1237.5,1805.7 L1241.4,1799.1 L1245.3,1790.6 L1249.2,1788.2 L1253.1,1800.6 L1257,1803.3 L1260.9,1791 L1264.9,1807.9 L1268.8,1811.5 L1272.7,1798.2 L1276.6,1814.2 L1280.5,1811.3 L1284.4,1809.9 L1288.3,1808.8 L1292.2,1813" stroke="#b47fe0" stroke-width="3.2"/>
<path d="M756.3,1788.8 L760.2,1791.3 L764.1,1802.4 L768,1793.2 L771.9,1809.6 L775.9,1800.6 L779.8,1798 L783.7,1798 L787.6,1798.6 L791.5,1798.7 L795.4,1793.3 L799.3,1793.8 L803.2,1790.2 L807.2,1793.8 L811.1,1784.1 L815,1787.7 L818.9,1795.1 L822.8,1787.5 L826.7,1777.1 L830.6,1793 L834.5,1782.4 L838.5,1775.9 L842.4,1785.9 L846.3,1781.6 L850.2,1785.2 L854.1,1786 L858,1780.3 L861.9,1780.2 L865.8,1784.5 L869.7,1781 L873.7,1780.2 L877.6,1775.7 L881.5,1787.3 L885.4,1786.3 L889.3,1783.2 L893.2,1782.5 L897.1,1773.2 L901,1779.3 L905,1771.6 L908.9,1779.6 L912.8,1781.7 L916.7,1775.1 L920.6,1785.6 L924.5,1770.3 L928.4,1773.2 L932.3,1782.1 L936.3,1782.5 L940.2,1774.1 L944.1,1774.9 L948,1777.7 L951.9,1788 L955.8,1776.1 L959.7,1788.6 L963.6,1778.9 L967.5,1780.3 L971.5,1774 L975.4,1779.1 L979.3,1790 L983.2,1774.7 L987.1,1778.2 L991,1781.7 L994.9,1792.1 L998.8,1780.1 L1002.8,1786.1 L1006.7,1782.2 L1010.6,1777.5 L1014.5,1779.2 L1018.4,1794.1 L1022.3,1782.4 L1026.2,1788.5 L1030.1,1783.9 L1034.1,1791.6 L1038,1792.2 L1041.9,1794.3 L1045.8,1801.9 L1049.7,1800.4 L1053.6,1795.2 L1057.5,1808.2 L1061.4,1808.7 L1065.3,1797.1 L1069.3,1801 L1073.2,1804.2 L1077.1,1813 L1081,1814.4 L1084.9,1812.6 L1088.8,1803.2 L1092.7,1811.5 L1096.6,1806.8 L1100.6,1820.5 L1104.5,1818.4 L1108.4,1817.4 L1112.3,1813.2 L1116.2,1826.1 L1120.1,1813.7 L1124,1821.2 L1127.9,1829.6 L1131.8,1823.5 L1135.8,1825.3 L1139.7,1821.1 L1143.6,1817.6 L1147.5,1826 L1151.4,1823.5 L1155.3,1829.5 L1159.2,1823.5 L1163.1,1835.7 L1167.1,1825.2 L1171,1834.7 L1174.9,1827 L1178.8,1832.9 L1182.7,1829.6 L1186.6,1831.9 L1190.5,1827.8 L1194.4,1822.8 L1198.4,1823.1 L1202.3,1824.5 L1206.2,1820.4 L1210.1,1815.1 L1214,1822.8 L1217.9,1818.3 L1221.8,1819.4 L1225.7,1809.3 L1229.6,1823 L1233.6,1804.9 L1237.5,1822.4 L1241.4,1818.8 L1245.3,1796.4 L1249.2,1801.1 L1253.1,1813.3 L1257,1821.7 L1260.9,1790.4 L1264.9,1811.4 L1268.8,1798.8 L1272.7,1813.2 L1276.6,1807.5 L1280.5,1812.1 L1284.4,1796.1 L1288.3,1800.6 L1292.2,1821.3" stroke="#ff7212" stroke-width="3.4"/>
<path d="M756.3,1766.9 L760.2,1773.4 L764.1,1771.9 L768,1784.8 L771.9,1786 L775.9,1778.5 L779.8,1786.5 L783.7,1776.1 L787.6,1775.5 L791.5,1774 L795.4,1775.8 L799.3,1777.3 L803.2,1766.5 L807.2,1767.6 L811.1,1765.9 L815,1773.3 L818.9,1763.6 L822.8,1769.4 L826.7,1768.5 L830.6,1763.5 L834.5,1761.9 L838.5,1767.6 L842.4,1759.5 L846.3,1761.5 L850.2,1757.3 L854.1,1756.7 L858,1759.2 L861.9,1762.9 L865.8,1755.3 L869.7,1757.8 L873.7,1762.8 L877.6,1755.5 L881.5,1756.9 L885.4,1762.4 L889.3,1762.5 L893.2,1765.4 L897.1,1759.2 L901,1762.8 L905,1762.5 L908.9,1763.1 L912.8,1764.8 L916.7,1760.6 L920.6,1763.4 L924.5,1763.5 L928.4,1763.8 L932.3,1761.1 L936.3,1756.9 L940.2,1765.8 L944.1,1757.4 L948,1757.7 L951.9,1760.9 L955.8,1761.9 L959.7,1759.7 L963.6,1762.3 L967.5,1760.9 L971.5,1757.8 L975.4,1759.7 L979.3,1766.7 L983.2,1770.1 L987.1,1760.3 L991,1768.5 L994.9,1764.6 L998.8,1772.7 L1002.8,1771.4 L1006.7,1773.8 L1010.6,1770.7 L1014.5,1769.3 L1018.4,1775.8 L1022.3,1776 L1026.2,1779.4 L1030.1,1781.9 L1034.1,1775 L1038,1787.8 L1041.9,1780.3 L1045.8,1786.3 L1049.7,1795.6 L1053.6,1786.9 L1057.5,1799.6 L1061.4,1797.7 L1065.3,1807.2 L1069.3,1800.1 L1073.2,1810.8 L1077.1,1805.2 L1081,1816.8 L1084.9,1811.4 L1088.8,1821 L1092.7,1823.8 L1096.6,1819.6 L1100.6,1816.9 L1104.5,1822.8 L1108.4,1822.6 L1112.3,1825.1 L1116.2,1829.3 L1120.1,1835.3 L1124,1830.6 L1127.9,1835.8 L1131.8,1832.6 L1135.8,1835.7 L1139.7,1834.9 L1143.6,1839.5 L1147.5,1834 L1151.4,1837.6 L1155.3,1836.1 L1159.2,1840.2 L1163.1,1834.3 L1167.1,1832.4 L1171,1826.2 L1174.9,1830.3 L1178.8,1834.7 L1182.7,1832 L1186.6,1830.8 L1190.5,1825 L1194.4,1820.5 L1198.4,1818.1 L1202.3,1816.4 L1206.2,1814.5 L1210.1,1813 L1214,1809.8 L1217.9,1818.8 L1221.8,1810.9 L1225.7,1807.7 L1229.6,1801.5 L1233.6,1802.3 L1237.5,1801.2 L1241.4,1790.5 L1245.3,1815.3 L1249.2,1800.6 L1253.1,1785.6 L1257,1812.3 L1260.9,1808.1 L1264.9,1783 L1268.8,1778.5 L1272.7,1805.4 L1276.6,1803.5 L1280.5,1777.4 L1284.4,1780.3 L1288.3,1784.4 L1292.2,1781.6" stroke="#8a9100" stroke-width="3.4"/>
<path d="M756.3,1756.2 L760.2,1752.5 L764.1,1757.9 L768,1752.1 L771.9,1738.7 L775.9,1733.3 L779.8,1731.9 L783.7,1732.5 L787.6,1728.4 L791.5,1724.3 L795.4,1726.5 L799.3,1715.3 L803.2,1719.1 L807.2,1712.5 L811.1,1710.7 L815,1711 L818.9,1705.7 L822.8,1708.9 L826.7,1712.3 L830.6,1705.2 L834.5,1714.8 L838.5,1716 L842.4,1715.7 L846.3,1713.8 L850.2,1710.8 L854.1,1716.9 L858,1718.2 L861.9,1712.5 L865.8,1716.5 L869.7,1712.4 L873.7,1714.7 L877.6,1706 L881.5,1713.4 L885.4,1711.8 L889.3,1710 L893.2,1708.8 L897.1,1703.2 L901,1703.2 L905,1701.9 L908.9,1705.3 L912.8,1711.3 L916.7,1703.2 L920.6,1710 L924.5,1710.7 L928.4,1708.6 L932.3,1701.7 L936.3,1709.9 L940.2,1711.1 L944.1,1705.6 L948,1706.1 L951.9,1715 L955.8,1719.6 L959.7,1713 L963.6,1714.3 L967.5,1720.6 L971.5,1715.7 L975.4,1721.5 L979.3,1723.6 L983.2,1721 L987.1,1720.2 L991,1724.4 L994.9,1720.9 L998.8,1732.2 L1002.8,1728.8 L1006.7,1733.6 L1010.6,1741.1 L1014.5,1734.2 L1018.4,1746.9 L1022.3,1748.6 L1026.2,1742.7 L1030.1,1746 L1034.1,1751.8 L1038,1764.6 L1041.9,1762.2 L1045.8,1775.1 L1049.7,1772 L1053.6,1774.6 L1057.5,1790.1 L1061.4,1797 L1065.3,1795.8 L1069.3,1797.3 L1073.2,1802.2 L1077.1,1804.1 L1081,1815.6 L1084.9,1822.2 L1088.8,1830.4 L1092.7,1832.4 L1096.6,1826.3 L1100.6,1839.5 L1104.5,1841.3 L1108.4,1842.8 L1112.3,1850 L1116.2,1849.9 L1120.1,1853.9 L1124,1855.8 L1127.9,1851.8 L1131.8,1852.8 L1135.8,1853.9 L1139.7,1852.9 L1143.6,1857.3 L1147.5,1853.5 L1151.4,1865.3 L1155.3,1864.4 L1159.2,1865.7 L1163.1,1860.6 L1167.1,1852.3 L1171,1847.3 L1174.9,1849.4 L1178.8,1851 L1182.7,1846.8 L1186.6,1842.4 L1190.5,1843.6 L1194.4,1834.7 L1198.4,1829.4 L1202.3,1832.3 L1206.2,1827.2 L1210.1,1821.1 L1214,1823.1 L1217.9,1824.3 L1221.8,1813.2 L1225.7,1809.7 L1229.6,1826.3 L1233.6,1799.1 L1237.5,1805.4 L1241.4,1811.3 L1245.3,1803.4 L1249.2,1799.2 L1253.1,1778.9 L1257,1793.8 L1260.9,1799.1 L1264.9,1792.2 L1268.8,1773.5 L1272.7,1781.8 L1276.6,1776.1 L1280.5,1781 L1284.4,1788.8 L1288.3,1793.3 L1292.2,1783.9" stroke="#834a4a" stroke-width="3.4"/>
<path d="M756.3,1690 L760.2,1690.4 L764.1,1700.6 L768,1723.3 L771.9,1721 L775.9,1709.5 L779.8,1702.7 L783.7,1690.1 L787.6,1671.3 L791.5,1667.3 L795.4,1665.4 L799.3,1658.5 L803.2,1654 L807.2,1651.7 L811.1,1640.8 L815,1647.5 L818.9,1633.2 L822.8,1630.7 L826.7,1627.2 L830.6,1636.8 L834.5,1632.2 L838.5,1625.8 L842.4,1636.8 L846.3,1639.4 L850.2,1632.1 L854.1,1640.2 L858,1635.9 L861.9,1642.9 L865.8,1631.9 L869.7,1642.1 L873.7,1643.9 L877.6,1633.3 L881.5,1636.3 L885.4,1631.4 L889.3,1631.9 L893.2,1626.3 L897.1,1633.2 L901,1636.2 L905,1642.9 L908.9,1636.8 L912.8,1641.4 L916.7,1638.1 L920.6,1638.5 L924.5,1642.2 L928.4,1648.7 L932.3,1643.7 L936.3,1644.7 L940.2,1643 L944.1,1638.8 L948,1649.9 L951.9,1648.6 L955.8,1654.7 L959.7,1645.3 L963.6,1655.9 L967.5,1649.9 L971.5,1653.5 L975.4,1664.9 L979.3,1658.7 L983.2,1667.8 L987.1,1671.6 L991,1671.9 L994.9,1668.1 L998.8,1678.4 L1002.8,1683.1 L1006.7,1690.8 L1010.6,1687.3 L1014.5,1696.1 L1018.4,1701 L1022.3,1706.6 L1026.2,1711.1 L1030.1,1707.3 L1034.1,1713.3 L1038,1715.9 L1041.9,1721.1 L1045.8,1727.5 L1049.7,1730.5 L1053.6,1738.3 L1057.5,1744.3 L1061.4,1751.8 L1065.3,1767.6 L1069.3,1762.9 L1073.2,1773.8 L1077.1,1779.6 L1081,1775.6 L1084.9,1794.9 L1088.8,1793.2 L1092.7,1799.9 L1096.6,1796 L1100.6,1802.7 L1104.5,1803.1 L1108.4,1807 L1112.3,1813.8 L1116.2,1822.9 L1120.1,1814.7 L1124,1823.7 L1127.9,1811.8 L1131.8,1814.4 L1135.8,1823.5 L1139.7,1826.3 L1143.6,1819.5 L1147.5,1819.2 L1151.4,1816.5 L1155.3,1823 L1159.2,1831.9 L1163.1,1824.8 L1167.1,1836.5 L1171,1826.5 L1174.9,1829.7 L1178.8,1831 L1182.7,1830.9 L1186.6,1834.8 L1190.5,1827.1 L1194.4,1828.9 L1198.4,1827.9 L1202.3,1826.2 L1206.2,1823.3 L1210.1,1825 L1214,1820.3 L1217.9,1808.7 L1221.8,1814.9 L1225.7,1804.4 L1229.6,1791.1 L1233.6,1787.8 L1237.5,1787.6 L1241.4,1788.3 L1245.3,1783.6 L1249.2,1781.3 L1253.1,1760.2 L1257,1759.4 L1260.9,1755.2 L1264.9,1783.8 L1268.8,1766.8 L1272.7,1768.8 L1276.6,1791.9 L1280.5,1767.8 L1284.4,1780.3 L1288.3,1767.9 L1292.2,1775" stroke="#00cfd0" stroke-width="4.2"/>
<path d="M756.3,1663.6 L760.2,1669.2 L764.1,1676.9 L768,1691.2 L771.9,1692.8 L775.9,1663.6 L779.8,1648.9 L783.7,1632.7 L787.6,1619.8 L791.5,1622.6 L795.4,1617.3 L799.3,1605.3 L803.2,1604.4 L807.2,1598.9 L811.1,1600.8 L815,1598.4 L818.9,1591.1 L822.8,1586.1 L826.7,1579.1 L830.6,1584.1 L834.5,1587.9 L838.5,1588.7 L842.4,1591.9 L846.3,1589.1 L850.2,1582.6 L854.1,1595.7 L858,1591.8 L861.9,1588.7 L865.8,1588 L869.7,1591.5 L873.7,1589.7 L877.6,1584.4 L881.5,1583.9 L885.4,1592.6 L889.3,1588.3 L893.2,1582.4 L897.1,1590.4 L901,1596.7 L905,1589.5 L908.9,1601.3 L912.8,1601.2 L916.7,1596.4 L920.6,1601.4 L924.5,1595.5 L928.4,1596.4 L932.3,1603.7 L936.3,1598.6 L940.2,1601.9 L944.1,1602.4 L948,1607.1 L951.9,1608.3 L955.8,1614.5 L959.7,1610.9 L963.6,1605.9 L967.5,1608.9 L971.5,1622.9 L975.4,1623.8 L979.3,1623.4 L983.2,1620.8 L987.1,1628.7 L991,1637.2 L994.9,1635.7 L998.8,1636 L1002.8,1637.4 L1006.7,1647.2 L1010.6,1648.9 L1014.5,1653.7 L1018.4,1659.4 L1022.3,1671.5 L1026.2,1664.7 L1030.1,1678.3 L1034.1,1685.7 L1038,1686.5 L1041.9,1699.8 L1045.8,1704.4 L1049.7,1703.6 L1053.6,1708.7 L1057.5,1722.6 L1061.4,1719.7 L1065.3,1730.7 L1069.3,1744.2 L1073.2,1748.2 L1077.1,1758.1 L1081,1756.9 L1084.9,1779.4 L1088.8,1786 L1092.7,1794.3 L1096.6,1788.2 L1100.6,1797.3 L1104.5,1803.5 L1108.4,1808.4 L1112.3,1805.2 L1116.2,1816.7 L1120.1,1810.5 L1124,1813.8 L1127.9,1820.2 L1131.8,1824.1 L1135.8,1825.7 L1139.7,1827.8 L1143.6,1831.9 L1147.5,1828.8 L1151.4,1832.1 L1155.3,1833.9 L1159.2,1827.3 L1163.1,1832.3 L1167.1,1832.3 L1171,1826.7 L1174.9,1833.2 L1178.8,1834.6 L1182.7,1827.1 L1186.6,1825.5 L1190.5,1827 L1194.4,1831 L1198.4,1825.2 L1202.3,1822.1 L1206.2,1826.7 L1210.1,1818.5 L1214,1813.5 L1217.9,1816.6 L1221.8,1814.7 L1225.7,1814.6 L1229.6,1803.4 L1233.6,1813.8 L1237.5,1788.1 L1241.4,1791 L1245.3,1769.4 L1249.2,1788.3 L1253.1,1771.1 L1257,1795.1 L1260.9,1779.1 L1264.9,1764.6 L1268.8,1781.5 L1272.7,1766.7 L1276.6,1779.6 L1280.5,1771.9 L1284.4,1748 L1288.3,1773.8 L1292.2,1744.4" stroke="#c9a000" stroke-width="3.4"/>
</g>
<rect x="756.3" y="1501.4" width="536.5" height="429.9" fill="none" stroke="#222" stroke-width="2.8"/>
<line x1="748.8" y1="1501.4" x2="756.3" y2="1501.4" stroke="#222" stroke-width="2.3"/>
<text x="741.5" y="1509.4" font-size="24" fill="#222" font-weight="bold" text-anchor="end" textLength="29" lengthAdjust="spacingAndGlyphs">2.5</text>
<line x1="748.8" y1="1562.8" x2="756.3" y2="1562.8" stroke="#222" stroke-width="2.3"/>
<text x="741.5" y="1570.8" font-size="24" fill="#222" font-weight="bold" text-anchor="end" textLength="29" lengthAdjust="spacingAndGlyphs">2.0</text>
<line x1="748.8" y1="1624.3" x2="756.3" y2="1624.3" stroke="#222" stroke-width="2.3"/>
<text x="741.5" y="1632.3" font-size="24" fill="#222" font-weight="bold" text-anchor="end" textLength="29" lengthAdjust="spacingAndGlyphs">1.5</text>
<line x1="748.8" y1="1685.7" x2="756.3" y2="1685.7" stroke="#222" stroke-width="2.3"/>
<text x="741.5" y="1693.7" font-size="24" fill="#222" font-weight="bold" text-anchor="end" textLength="29" lengthAdjust="spacingAndGlyphs">1.0</text>
<line x1="748.8" y1="1747.1" x2="756.3" y2="1747.1" stroke="#222" stroke-width="2.3"/>
<text x="741.5" y="1755.1" font-size="24" fill="#222" font-weight="bold" text-anchor="end" textLength="29" lengthAdjust="spacingAndGlyphs">0.5</text>
<line x1="748.8" y1="1808.5" x2="756.3" y2="1808.5" stroke="#222" stroke-width="2.3"/>
<text x="741.5" y="1816.5" font-size="24" fill="#222" font-weight="bold" text-anchor="end" textLength="29" lengthAdjust="spacingAndGlyphs">0.0</text>
<line x1="748.8" y1="1869.9" x2="756.3" y2="1869.9" stroke="#222" stroke-width="2.3"/>
<text x="741.5" y="1877.9" font-size="24" fill="#222" font-weight="bold" text-anchor="end" textLength="44.5" lengthAdjust="spacingAndGlyphs">−0.5</text>
<line x1="748.8" y1="1931.3" x2="756.3" y2="1931.3" stroke="#222" stroke-width="2.3"/>
<text x="741.5" y="1939.3" font-size="24" fill="#222" font-weight="bold" text-anchor="end" textLength="44.5" lengthAdjust="spacingAndGlyphs">−1.0</text>
<line x1="751.8" y1="1532.1" x2="756.3" y2="1532.1" stroke="#222" stroke-width="2.3"/>
<line x1="751.8" y1="1593.5" x2="756.3" y2="1593.5" stroke="#222" stroke-width="2.3"/>
<line x1="751.8" y1="1655" x2="756.3" y2="1655" stroke="#222" stroke-width="2.3"/>
<line x1="751.8" y1="1716.4" x2="756.3" y2="1716.4" stroke="#222" stroke-width="2.3"/>
<line x1="751.8" y1="1777.8" x2="756.3" y2="1777.8" stroke="#222" stroke-width="2.3"/>
<line x1="751.8" y1="1839.2" x2="756.3" y2="1839.2" stroke="#222" stroke-width="2.3"/>
<line x1="751.8" y1="1900.6" x2="756.3" y2="1900.6" stroke="#222" stroke-width="2.3"/>
<line x1="789.8" y1="1931.3" x2="789.8" y2="1935.8" stroke="#222" stroke-width="2.3"/>
<line x1="845.7" y1="1931.3" x2="845.7" y2="1939.3" stroke="#222" stroke-width="2.3"/>
<text x="845.7" y="1966" font-size="24" fill="#222" font-weight="bold" text-anchor="middle" textLength="36" lengthAdjust="spacingAndGlyphs">900</text>
<line x1="901.6" y1="1931.3" x2="901.6" y2="1935.8" stroke="#222" stroke-width="2.3"/>
<line x1="957.5" y1="1931.3" x2="957.5" y2="1939.3" stroke="#222" stroke-width="2.3"/>
<text x="957.5" y="1966" font-size="24" fill="#222" font-weight="bold" text-anchor="middle" textLength="48" lengthAdjust="spacingAndGlyphs">1000</text>
<line x1="1013.4" y1="1931.3" x2="1013.4" y2="1935.8" stroke="#222" stroke-width="2.3"/>
<line x1="1069.3" y1="1931.3" x2="1069.3" y2="1939.3" stroke="#222" stroke-width="2.3"/>
<text x="1069.3" y="1966" font-size="24" fill="#222" font-weight="bold" text-anchor="middle" textLength="48" lengthAdjust="spacingAndGlyphs">1100</text>
<line x1="1125.1" y1="1931.3" x2="1125.1" y2="1935.8" stroke="#222" stroke-width="2.3"/>
<line x1="1181" y1="1931.3" x2="1181" y2="1939.3" stroke="#222" stroke-width="2.3"/>
<text x="1181" y="1966" font-size="24" fill="#222" font-weight="bold" text-anchor="middle" textLength="48" lengthAdjust="spacingAndGlyphs">1200</text>
<line x1="1236.9" y1="1931.3" x2="1236.9" y2="1935.8" stroke="#222" stroke-width="2.3"/>
<line x1="1292.8" y1="1931.3" x2="1292.8" y2="1939.3" stroke="#222" stroke-width="2.3"/>
<text x="1292.8" y="1966" font-size="24" fill="#222" font-weight="bold" text-anchor="middle" textLength="48" lengthAdjust="spacingAndGlyphs">1300</text>
<text x="770" y="1531.5" font-size="25" fill="#222" font-weight="bold" text-anchor="start" textLength="168" lengthAdjust="spacingAndGlyphs">60%BVO/BCS</text>
<text x="859" y="1574" font-size="24" fill="#ff1e1e" font-weight="bold" text-anchor="start" textLength="46" lengthAdjust="spacingAndGlyphs">ESA</text>
<text x="1137" y="1891.5" font-size="24" fill="#ff1e1e" font-weight="bold" text-anchor="start" textLength="52.5" lengthAdjust="spacingAndGlyphs">GSB</text>
<text x="1025" y="1997" font-size="27" fill="#222" font-weight="bold" text-anchor="middle" textLength="192" lengthAdjust="spacingAndGlyphs">Wavelength (nm)</text>
<text x="0" y="0" transform="translate(702,1770) rotate(-90)" font-size="26" font-weight="bold" fill="#222" text-anchor="middle" textLength="118" lengthAdjust="spacingAndGlyphs">ΔA (mOD)</text>
<line x1="1142" y1="1522" x2="1184" y2="1522" stroke="#454b4d" stroke-width="5" stroke-linecap="round"/>
<text x="1187.5" y="1528.5" font-size="19" fill="#1c2a33" font-weight="bold" text-anchor="start" textLength="33" lengthAdjust="spacingAndGlyphs">1 ps</text>
<line x1="1142" y1="1547.3" x2="1184" y2="1547.3" stroke="#ff4b4b" stroke-width="5" stroke-linecap="round"/>
<text x="1187.5" y="1553.8" font-size="19" fill="#1c2a33" font-weight="bold" text-anchor="start" textLength="33" lengthAdjust="spacingAndGlyphs">3 ps</text>
<line x1="1142" y1="1572.6" x2="1184" y2="1572.6" stroke="#0a6fd8" stroke-width="5" stroke-linecap="round"/>
<text x="1187.5" y="1579.1" font-size="19" fill="#1c2a33" font-weight="bold" text-anchor="start" textLength="33" lengthAdjust="spacingAndGlyphs">5 ps</text>
<line x1="1142" y1="1597.9" x2="1184" y2="1597.9" stroke="#00a072" stroke-width="5" stroke-linecap="round"/>
<text x="1187.5" y="1604.4" font-size="19" fill="#1c2a33" font-weight="bold" text-anchor="start" textLength="33" lengthAdjust="spacingAndGlyphs">7 ps</text>
<line x1="1142" y1="1623.2" x2="1184" y2="1623.2" stroke="#b47fe0" stroke-width="5" stroke-linecap="round"/>
<text x="1187.5" y="1629.7" font-size="19" fill="#1c2a33" font-weight="bold" text-anchor="start" textLength="44" lengthAdjust="spacingAndGlyphs">10 ps</text>
<line x1="1142" y1="1648.5" x2="1184" y2="1648.5" stroke="#c9a000" stroke-width="5" stroke-linecap="round"/>
<text x="1187.5" y="1655" font-size="19" fill="#1c2a33" font-weight="bold" text-anchor="start" textLength="54" lengthAdjust="spacingAndGlyphs">100 ps</text>
<line x1="1142" y1="1673.8" x2="1184" y2="1673.8" stroke="#00cfd0" stroke-width="5" stroke-linecap="round"/>
<text x="1187.5" y="1680.3" font-size="19" fill="#1c2a33" font-weight="bold" text-anchor="start" textLength="54" lengthAdjust="spacingAndGlyphs">300 ps</text>
<line x1="1142" y1="1699.1" x2="1184" y2="1699.1" stroke="#834a4a" stroke-width="5" stroke-linecap="round"/>
<text x="1187.5" y="1705.6" font-size="19" fill="#1c2a33" font-weight="bold" text-anchor="start" textLength="33" lengthAdjust="spacingAndGlyphs">1 ns</text>
<line x1="1142" y1="1724.4" x2="1184" y2="1724.4" stroke="#8a9100" stroke-width="5" stroke-linecap="round"/>
<text x="1187.5" y="1730.9" font-size="19" fill="#1c2a33" font-weight="bold" text-anchor="start" textLength="33" lengthAdjust="spacingAndGlyphs">3 ns</text>
<line x1="1142" y1="1749.7" x2="1184" y2="1749.7" stroke="#ff7212" stroke-width="5" stroke-linecap="round"/>
<text x="1187.5" y="1756.2" font-size="19" fill="#1c2a33" font-weight="bold" text-anchor="start" textLength="33" lengthAdjust="spacingAndGlyphs">5 ns</text>
<polygon points="964,1559 995.5,1590.5 980,1590.5 980,1661 950,1661 950,1590.5 936,1590.5" fill="url(#rainbow)"/>
<rect x="950" y="1631" width="30" height="2" fill="#fff" opacity="0.85"/>
<rect x="950" y="1641.5" width="30" height="2" fill="#fff" opacity="0.85"/>
<rect x="950" y="1651" width="30" height="2" fill="#fff" opacity="0.85"/>
<g filter="url(#softH)">
<ellipse cx="1563" cy="1612" rx="23" ry="13" fill="url(#partG)"/>
<path d="M1404.5,1519.5 L1677,1519.5 Q1672,1534 1655,1552 Q1620,1590 1560,1605 Q1520,1612 1480,1598 Q1440,1575 1404.5,1519.5 Z" fill="url(#bowlG)"/>
<path d="M1640,1519.5 L1677,1519.5 Q1665,1545 1650,1558 Q1648,1540 1640,1519.5Z" fill="#1b4f9c" opacity="0.6"/>
<ellipse cx="1458" cy="1583" rx="22" ry="17" transform="rotate(25 1458 1583)" fill="url(#partG)"/>
<ellipse cx="1492" cy="1570" rx="27" ry="27" transform="rotate(-20 1492 1570)" fill="url(#partG)"/>
<ellipse cx="1624" cy="1572" rx="27" ry="28" transform="rotate(20 1624 1572)" fill="url(#partG)"/>
</g>
<path d="M1452,1587 L1460,1587 M1456,1583 L1456,1591" stroke="#ff2a10" stroke-width="2.6"/>
<path d="M1477,1557 L1485,1557 M1481,1553 L1481,1561" stroke="#ff2a10" stroke-width="2.6"/>
<path d="M1500,1580 L1508,1580 M1504,1576 L1504,1584" stroke="#ff2a10" stroke-width="2.6"/>
<path d="M1607,1583 L1615,1583 M1611,1579 L1611,1587" stroke="#ff2a10" stroke-width="2.6"/>
<path d="M1633,1565 L1641,1565 M1637,1561 L1637,1569" stroke="#ff2a10" stroke-width="2.6"/>
<path d="M1560,1614 L1568,1614 M1564,1610 L1564,1618" stroke="#ff2a10" stroke-width="2.6"/>
<ellipse cx="1434" cy="1530" rx="3.2" ry="1.6" fill="#8a4a8a" opacity="0.8"/>
<ellipse cx="1477.5" cy="1530" rx="3.2" ry="1.6" fill="#8a4a8a" opacity="0.8"/>
<ellipse cx="1521" cy="1530" rx="3.2" ry="1.6" fill="#8a4a8a" opacity="0.8"/>
<ellipse cx="1564.5" cy="1530" rx="3.2" ry="1.6" fill="#8a4a8a" opacity="0.8"/>
<ellipse cx="1608" cy="1530" rx="3.2" ry="1.6" fill="#8a4a8a" opacity="0.8"/>
<ellipse cx="1651.5" cy="1530" rx="3.2" ry="1.6" fill="#8a4a8a" opacity="0.8"/>
<text x="1498" y="1556" font-size="19" fill="#ff1a2a" font-weight="bold" text-anchor="start" textLength="127" lengthAdjust="spacingAndGlyphs">Hole extraction</text>
<text x="1482" y="1641.5" font-size="22" fill="#2a2a2a" font-weight="bold" text-anchor="start" textLength="134" lengthAdjust="spacingAndGlyphs">Fast dynamics</text>
<rect x="1410.5" y="1738" width="96" height="169.5" fill="url(#bandB)"/>
<rect x="1506.5" y="1738" width="97.5" height="169.5" fill="url(#bandR)"/>
<rect x="1412" y="1776" width="84" height="8" fill="#8fd0f4" opacity="0.9"/>
<rect x="1412" y="1855" width="84" height="7.5" fill="#8fd0f4" opacity="0.9"/>
<rect x="1518" y="1791.5" width="86" height="10" fill="#ffd6c8" opacity="0.95"/>
<rect x="1518" y="1875" width="86" height="9" fill="#ffd6c8" opacity="0.95"/>
<line x1="1411" y1="1811.8" x2="1604" y2="1811.8" stroke="#333" stroke-width="1.6" stroke-dasharray="4 3" opacity="0.8"/>
<circle cx="1446" cy="1764" r="6.3" fill="url(#sph)"/>
<circle cx="1470" cy="1764" r="6.3" fill="url(#sph)"/>
<circle cx="1450" cy="1872.5" r="6.3" fill="url(#sph)"/>
<circle cx="1470" cy="1872.5" r="6.3" fill="url(#sph)"/>
<circle cx="1489" cy="1822.5" r="6.3" fill="url(#sph)"/>
<polygon points="1454.5,1797 1464,1808 1459,1808 1459,1840 1450,1840 1450,1808 1445,1808" fill="url(#rb2)" opacity="0.9"/>
<path d="M1491.5,1844 Q1500,1815 1512,1804" stroke="#9a2a8a" stroke-width="2.4" fill="none"/>
<polygon points="1515,1801 1504,1803 1511,1810" fill="#9a2a8a"/>
<line x1="1481" y1="1748.6" x2="1532" y2="1748.6" stroke="#3a3a3a" stroke-width="2.2"/>
<polygon points="1538,1748.6 1532,1751.8 1532,1745.4" fill="#3a3a3a"/>
<text x="1542.5" y="1753" font-size="12" fill="#222" font-weight="bold" text-anchor="start" >IEF</text>
<text x="1447" y="1918" font-size="12" fill="#555" font-weight="bold" text-anchor="start" textLength="24" lengthAdjust="spacingAndGlyphs">BSC</text>
<text x="1540" y="1918" font-size="12" fill="#555" font-weight="bold" text-anchor="start" textLength="29" lengthAdjust="spacingAndGlyphs">BVO</text>
<g clip-path="url(#clipH)">
<circle cx="1398.2" cy="1594" r="6.6" fill="url(#dotG)"/>
<circle cx="1398.9" cy="1611" r="6.6" fill="url(#dotG)"/>
<circle cx="1401" cy="1619.5" r="6.6" fill="url(#dotG)"/>
<circle cx="1407.4" cy="1632.3" r="6.6" fill="url(#dotG)"/>
<circle cx="1410.9" cy="1640.8" r="6.6" fill="url(#dotG)"/>
<circle cx="1416.6" cy="1649.3" r="6.6" fill="url(#dotG)"/>
<circle cx="1419.4" cy="1636.6" r="6.6" fill="url(#dotG)"/>
<circle cx="1423.7" cy="1657.9" r="6.6" fill="url(#dotG)"/>
<circle cx="1427.2" cy="1662.1" r="6.6" fill="url(#dotG)"/>
<circle cx="1432.1" cy="1656.2" r="6.6" fill="url(#dotG)"/>
<circle cx="1435" cy="1670.6" r="6.6" fill="url(#dotG)"/>
<circle cx="1439.2" cy="1666.4" r="6.6" fill="url(#dotG)"/>
<circle cx="1442" cy="1679.2" r="6.6" fill="url(#dotG)"/>
<circle cx="1446.3" cy="1683.4" r="6.6" fill="url(#dotG)"/>
<circle cx="1450.5" cy="1677.5" r="6.6" fill="url(#dotG)"/>
<circle cx="1454.7" cy="1685.1" r="6.6" fill="url(#dotG)"/>
<circle cx="1460.4" cy="1687.7" r="6.6" fill="url(#dotG)"/>
<circle cx="1463.9" cy="1691.9" r="6.6" fill="url(#dotG)"/>
<circle cx="1467.5" cy="1698.8" r="6.6" fill="url(#dotG)"/>
<circle cx="1471.7" cy="1691.9" r="6.6" fill="url(#dotG)"/>
<circle cx="1476.6" cy="1696.2" r="6.6" fill="url(#dotG)"/>
<circle cx="1481.6" cy="1698.8" r="6.6" fill="url(#dotG)"/>
<circle cx="1485.8" cy="1704.7" r="6.6" fill="url(#dotG)"/>
<circle cx="1494.3" cy="1707.3" r="6.6" fill="url(#dotG)"/>
<circle cx="1499.3" cy="1700.5" r="6.6" fill="url(#dotG)"/>
<circle cx="1504.2" cy="1698.8" r="6.6" fill="url(#dotG)"/>
<circle cx="1513.4" cy="1713.2" r="6.6" fill="url(#dotG)"/>
<circle cx="1520.5" cy="1717.5" r="6.6" fill="url(#dotG)"/>
<circle cx="1527.5" cy="1709" r="6.6" fill="url(#dotG)"/>
<circle cx="1535.3" cy="1715.8" r="6.6" fill="url(#dotG)"/>
<circle cx="1542.4" cy="1706.4" r="6.6" fill="url(#dotG)"/>
<circle cx="1550.8" cy="1727.7" r="6.6" fill="url(#dotG)"/>
<circle cx="1559.3" cy="1728.6" r="6.6" fill="url(#dotG)"/>
<circle cx="1567.8" cy="1721.8" r="6.6" fill="url(#dotG)"/>
<circle cx="1579.1" cy="1726" r="6.6" fill="url(#dotG)"/>
<circle cx="1587.6" cy="1723.5" r="6.6" fill="url(#dotG)"/>
<circle cx="1598.2" cy="1727.7" r="6.6" fill="url(#dotG)"/>
<circle cx="1607.4" cy="1732" r="6.6" fill="url(#dotG)"/>
<circle cx="1622.9" cy="1727.7" r="6.6" fill="url(#dotG)"/>
<circle cx="1635.6" cy="1730.3" r="6.6" fill="url(#dotG)"/>
<circle cx="1642.7" cy="1738.8" r="6.6" fill="url(#dotG)"/>
<circle cx="1654.7" cy="1736.2" r="6.6" fill="url(#dotG)"/>
<circle cx="1665.3" cy="1743.1" r="6.6" fill="url(#dotG)"/>
<circle cx="1675.9" cy="1741.4" r="6.6" fill="url(#dotG)"/>
<circle cx="1686.5" cy="1730.3" r="6.6" fill="url(#dotG)"/>
<circle cx="1700.6" cy="1747.3" r="6.6" fill="url(#dotG)"/>
<circle cx="1714.8" cy="1743.1" r="6.6" fill="url(#dotG)"/>
<circle cx="1728.9" cy="1744.8" r="6.6" fill="url(#dotG)"/>
<circle cx="1743" cy="1747.3" r="6.6" fill="url(#dotG)"/>
<circle cx="1757.2" cy="1738.8" r="6.6" fill="url(#dotG)"/>
<circle cx="1772.7" cy="1744.8" r="6.6" fill="url(#dotG)"/>
<circle cx="1789" cy="1751.6" r="6.6" fill="url(#dotG)"/>
<circle cx="1806.6" cy="1749.9" r="6.6" fill="url(#dotG)"/>
<circle cx="1822.9" cy="1757.5" r="6.6" fill="url(#dotG)"/>
<circle cx="1842" cy="1756.7" r="6.6" fill="url(#dotG)"/>
<circle cx="1860.3" cy="1749.9" r="6.6" fill="url(#dotG)"/>
<circle cx="1880.8" cy="1751.6" r="6.6" fill="url(#dotG)"/>
<circle cx="1902" cy="1755.8" r="6.6" fill="url(#dotG)"/>
<circle cx="1923.9" cy="1749.9" r="6.6" fill="url(#dotG)"/>
<circle cx="1397.5" cy="1751.6" r="6.6" fill="url(#dotG)"/>
<circle cx="1397.9" cy="1760.1" r="6.6" fill="url(#dotG)"/>
<circle cx="1398.6" cy="1766.9" r="6.6" fill="url(#dotG)"/>
<circle cx="1398.2" cy="1900.7" r="6.6" fill="url(#dotG)"/>
<path d="M1401,1614.2 L1403.9,1621.1 L1406.7,1627.5 L1409.5,1633.3 L1412.3,1638.6 L1415.2,1643.4 L1418,1647.9 L1420.8,1652 L1423.7,1655.8 L1426.5,1659.3 L1429.3,1662.6 L1432.1,1665.6 L1435,1668.4 L1437.8,1671 L1440.6,1673.5 L1443.4,1675.8 L1446.3,1678 L1449.1,1680 L1451.9,1682 L1454.7,1683.8 L1457.6,1685.5 L1460.4,1687.2 L1463.2,1688.8 L1466,1690.3 L1468.9,1691.7 L1471.7,1693.1 L1474.5,1694.4 L1477.4,1695.7 L1480.2,1696.9 L1483,1698.1 L1485.8,1699.3 L1488.7,1700.4 L1491.5,1701.5 L1494.3,1702.5 L1497.1,1703.5 L1500,1704.5 L1502.8,1705.5 L1505.6,1706.4 L1508.4,1707.4 L1511.3,1708.3 L1514.1,1709.1 L1516.9,1710 L1519.7,1710.8 L1522.6,1711.7 L1525.4,1712.5 L1528.2,1713.2 L1531.1,1714 L1533.9,1714.8 L1536.7,1715.5 L1539.5,1716.2 L1542.4,1717 L1545.2,1717.7 L1548,1718.3 L1550.8,1719 L1553.7,1719.7 L1556.5,1720.3 L1559.3,1721 L1562.1,1721.6 L1565,1722.2 L1567.8,1722.8 L1570.6,1723.4 L1573.5,1724 L1576.3,1724.6 L1579.1,1725.2 L1581.9,1725.7 L1584.8,1726.3 L1587.6,1726.8 L1590.4,1727.3 L1593.2,1727.9 L1596.1,1728.4 L1598.9,1728.9 L1601.7,1729.4 L1604.5,1729.9 L1607.4,1730.3 L1610.2,1730.8 L1613,1731.3 L1615.8,1731.7 L1618.7,1732.2 L1621.5,1732.6 L1624.3,1733.1 L1627.2,1733.5 L1630,1733.9 L1632.8,1734.3 L1635.6,1734.7 L1638.5,1735.1 L1641.3,1735.5 L1644.1,1735.9 L1646.9,1736.3 L1649.8,1736.7 L1652.6,1737.1 L1655.4,1737.4 L1658.2,1737.8 L1661.1,1738.1 L1663.9,1738.5 L1666.7,1738.8 L1669.5,1739.2 L1672.4,1739.5 L1675.2,1739.8 L1678,1740.2 L1680.9,1740.5 L1683.7,1740.8 L1686.5,1741.1 L1689.3,1741.4 L1692.2,1741.7 L1695,1742 L1697.8,1742.3 L1700.6,1742.6 L1703.5,1742.8 L1706.3,1743.1 L1709.1,1743.4 L1711.9,1743.6 L1714.8,1743.9 L1717.6,1744.2 L1720.4,1744.4 L1723.2,1744.7 L1726.1,1744.9 L1728.9,1745.1 L1731.7,1745.4 L1734.6,1745.6 L1737.4,1745.8 L1740.2,1746.1 L1743,1746.3 L1745.9,1746.5 L1748.7,1746.7 L1751.5,1746.9 L1754.3,1747.2 L1757.2,1747.4 L1760,1747.6 L1762.8,1747.8 L1765.6,1748 L1768.5,1748.1 L1771.3,1748.3 L1774.1,1748.5 L1777,1748.7 L1779.8,1748.9 L1782.6,1749.1 L1785.4,1749.2 L1788.3,1749.4 L1791.1,1749.6 L1793.9,1749.8 L1796.7,1749.9 L1799.6,1750.1 L1802.4,1750.2 L1805.2,1750.4 L1808,1750.5 L1810.9,1750.7 L1813.7,1750.8 L1816.5,1751 L1819.3,1751.1 L1822.2,1751.3 L1825,1751.4 L1827.8,1751.6 L1830.7,1751.7 L1833.5,1751.8 L1836.3,1752 L1839.1,1752.1 L1842,1752.2 L1844.8,1752.3 L1847.6,1752.5 L1850.4,1752.6 L1853.3,1752.7 L1856.1,1752.8 L1858.9,1752.9 L1861.7,1753.1 L1864.6,1753.2 L1867.4,1753.3 L1870.2,1753.4 L1873,1753.5 L1875.9,1753.6 L1878.7,1753.7 L1881.5,1753.8 L1884.4,1753.9 L1887.2,1754 L1890,1754.1 L1892.8,1754.2 L1895.7,1754.3 L1898.5,1754.4 L1901.3,1754.5 L1904.1,1754.6 L1907,1754.6 L1909.8,1754.7 L1912.6,1754.8 L1915.4,1754.9 L1918.3,1755 L1921.1,1755.1 L1923.9,1755.1 L1926.8,1755.2 L1929.6,1755.3 L1932.4,1755.4" fill="none" stroke="#ff0a2a" stroke-width="5"/>
</g>
<rect x="1396.8" y="1504.9" width="529.8" height="425.6" fill="none" stroke="#222" stroke-width="2.8"/>
<line x1="1389.3" y1="1504.5" x2="1396.8" y2="1504.5" stroke="#222" stroke-width="2.3"/>
<text x="1383" y="1512.5" font-size="23" fill="#222" font-weight="bold" text-anchor="end" >3</text>
<line x1="1389.3" y1="1589.7" x2="1396.8" y2="1589.7" stroke="#222" stroke-width="2.3"/>
<text x="1383" y="1597.7" font-size="23" fill="#222" font-weight="bold" text-anchor="end" >2</text>
<line x1="1389.3" y1="1674.9" x2="1396.8" y2="1674.9" stroke="#222" stroke-width="2.3"/>
<text x="1383" y="1682.9" font-size="23" fill="#222" font-weight="bold" text-anchor="end" >1</text>
<line x1="1389.3" y1="1760.1" x2="1396.8" y2="1760.1" stroke="#222" stroke-width="2.3"/>
<text x="1383" y="1768.1" font-size="23" fill="#222" font-weight="bold" text-anchor="end" >0</text>
<line x1="1389.3" y1="1845.3" x2="1396.8" y2="1845.3" stroke="#222" stroke-width="2.3"/>
<text x="1383" y="1853.3" font-size="23" fill="#222" font-weight="bold" text-anchor="end" >−1</text>
<line x1="1389.3" y1="1930.5" x2="1396.8" y2="1930.5" stroke="#222" stroke-width="2.3"/>
<text x="1383" y="1938.5" font-size="23" fill="#222" font-weight="bold" text-anchor="end" >−2</text>
<line x1="1392.3" y1="1547.1" x2="1396.8" y2="1547.1" stroke="#222" stroke-width="2.3"/>
<line x1="1392.3" y1="1632.3" x2="1396.8" y2="1632.3" stroke="#222" stroke-width="2.3"/>
<line x1="1392.3" y1="1717.5" x2="1396.8" y2="1717.5" stroke="#222" stroke-width="2.3"/>
<line x1="1392.3" y1="1802.7" x2="1396.8" y2="1802.7" stroke="#222" stroke-width="2.3"/>
<line x1="1392.3" y1="1887.9" x2="1396.8" y2="1887.9" stroke="#222" stroke-width="2.3"/>
<line x1="1396.8" y1="1930.5" x2="1396.8" y2="1938.5" stroke="#222" stroke-width="2.3"/>
<text x="1396.8" y="1964.5" font-size="25" fill="#222" font-weight="bold" text-anchor="middle" textLength="11" lengthAdjust="spacingAndGlyphs">0</text>
<line x1="1432.1" y1="1930.5" x2="1432.1" y2="1935" stroke="#222" stroke-width="2.3"/>
<line x1="1467.5" y1="1930.5" x2="1467.5" y2="1938.5" stroke="#222" stroke-width="2.3"/>
<text x="1467.5" y="1964.5" font-size="25" fill="#222" font-weight="bold" text-anchor="middle" textLength="46.5" lengthAdjust="spacingAndGlyphs">1000</text>
<line x1="1502.8" y1="1930.5" x2="1502.8" y2="1935" stroke="#222" stroke-width="2.3"/>
<line x1="1538.1" y1="1930.5" x2="1538.1" y2="1938.5" stroke="#222" stroke-width="2.3"/>
<text x="1538.1" y="1964.5" font-size="25" fill="#222" font-weight="bold" text-anchor="middle" textLength="46.5" lengthAdjust="spacingAndGlyphs">2000</text>
<line x1="1573.5" y1="1930.5" x2="1573.5" y2="1935" stroke="#222" stroke-width="2.3"/>
<line x1="1608.8" y1="1930.5" x2="1608.8" y2="1938.5" stroke="#222" stroke-width="2.3"/>
<text x="1608.8" y="1964.5" font-size="25" fill="#222" font-weight="bold" text-anchor="middle" textLength="46.5" lengthAdjust="spacingAndGlyphs">3000</text>
<line x1="1644.1" y1="1930.5" x2="1644.1" y2="1935" stroke="#222" stroke-width="2.3"/>
<line x1="1679.4" y1="1930.5" x2="1679.4" y2="1938.5" stroke="#222" stroke-width="2.3"/>
<text x="1679.4" y="1964.5" font-size="25" fill="#222" font-weight="bold" text-anchor="middle" textLength="46.5" lengthAdjust="spacingAndGlyphs">4000</text>
<line x1="1714.8" y1="1930.5" x2="1714.8" y2="1935" stroke="#222" stroke-width="2.3"/>
<line x1="1750.1" y1="1930.5" x2="1750.1" y2="1938.5" stroke="#222" stroke-width="2.3"/>
<text x="1750.1" y="1964.5" font-size="25" fill="#222" font-weight="bold" text-anchor="middle" textLength="46.5" lengthAdjust="spacingAndGlyphs">5000</text>
<line x1="1785.4" y1="1930.5" x2="1785.4" y2="1935" stroke="#222" stroke-width="2.3"/>
<line x1="1820.8" y1="1930.5" x2="1820.8" y2="1938.5" stroke="#222" stroke-width="2.3"/>
<text x="1820.8" y="1964.5" font-size="25" fill="#222" font-weight="bold" text-anchor="middle" textLength="46.5" lengthAdjust="spacingAndGlyphs">6000</text>
<line x1="1856.1" y1="1930.5" x2="1856.1" y2="1935" stroke="#222" stroke-width="2.3"/>
<line x1="1891.4" y1="1930.5" x2="1891.4" y2="1938.5" stroke="#222" stroke-width="2.3"/>
<text x="1891.4" y="1964.5" font-size="25" fill="#222" font-weight="bold" text-anchor="middle" textLength="46.5" lengthAdjust="spacingAndGlyphs">7000</text>
<line x1="1926.8" y1="1930.5" x2="1926.8" y2="1935" stroke="#222" stroke-width="2.3"/>
<text x="1653" y="1990" font-size="29" fill="#222" font-weight="bold" text-anchor="middle" textLength="104" lengthAdjust="spacingAndGlyphs">Time (ps)</text>
<text x="0" y="0" transform="translate(1354,1716.7) rotate(-90)" font-size="30" font-weight="bold" fill="#222" text-anchor="middle" textLength="258" lengthAdjust="spacingAndGlyphs">Normalized DA (mOD)</text>
<circle cx="1718.7" cy="1526.8" r="7" fill="url(#dotG)"/>
<text x="1751.7" y="1536" font-size="26" fill="#222" font-weight="bold" text-anchor="start" textLength="162.5" lengthAdjust="spacingAndGlyphs">60%BVO/BCS</text>
<line x1="1690" y1="1559.5" x2="1746.7" y2="1559.5" stroke="#ff0a2a" stroke-width="5"/>
<text x="1753" y="1568" font-size="26" fill="#222" font-weight="bold" text-anchor="start" textLength="73" lengthAdjust="spacingAndGlyphs">Fitting</text>
<text x="1722.4" y="1603.3" font-size="26" font-weight="bold" fill="#222">τ<tspan dy="7" font-size="17">avg</tspan><tspan dy="-7">: 2.32 ns</tspan></text>
</svg>
</body></html>
